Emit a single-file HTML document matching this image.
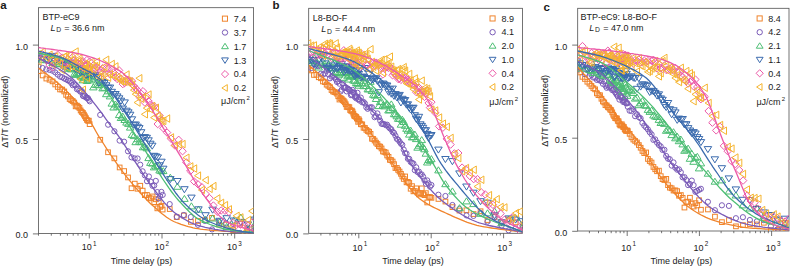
<!DOCTYPE html>
<html><head><meta charset="utf-8"><style>
html,body{margin:0;padding:0;background:#fff;width:790px;height:266px;overflow:hidden;position:relative}
</style></head><body>
<svg width="790" height="266" viewBox="0 0 790 266" style="position:absolute;left:0;top:0">
<g font-family='"Liberation Sans", sans-serif' fill="#1a1a1a">
<text x="0.2" y="8.9" font-size="11.5" font-weight="bold">a</text>
<rect x="38.4" y="7.7" width="215.2" height="225.8" fill="none" stroke="#505050" stroke-width="0.8"/>
<line x1="32.9" y1="233.9" x2="38.4" y2="233.9" stroke="#505050" stroke-width="0.8"/>
<text x="27.9" y="238.3" font-size="9" text-anchor="end">0.0</text>
<line x1="32.9" y1="139.5" x2="38.4" y2="139.5" stroke="#505050" stroke-width="0.8"/>
<text x="27.9" y="143.9" font-size="9" text-anchor="end">0.5</text>
<line x1="32.9" y1="45.1" x2="38.4" y2="45.1" stroke="#505050" stroke-width="0.8"/>
<text x="27.9" y="49.5" font-size="9" text-anchor="end">1.0</text>
<line x1="38.5" y1="233.5" x2="38.5" y2="235.7" stroke="#505050" stroke-width="0.8"/>
<line x1="51.3" y1="233.5" x2="51.3" y2="235.7" stroke="#505050" stroke-width="0.8"/>
<line x1="60.4" y1="233.5" x2="60.4" y2="235.7" stroke="#505050" stroke-width="0.8"/>
<line x1="67.4" y1="233.5" x2="67.4" y2="235.7" stroke="#505050" stroke-width="0.8"/>
<line x1="73.2" y1="233.5" x2="73.2" y2="235.7" stroke="#505050" stroke-width="0.8"/>
<line x1="78.0" y1="233.5" x2="78.0" y2="235.7" stroke="#505050" stroke-width="0.8"/>
<line x1="82.3" y1="233.5" x2="82.3" y2="235.7" stroke="#505050" stroke-width="0.8"/>
<line x1="86.0" y1="233.5" x2="86.0" y2="235.7" stroke="#505050" stroke-width="0.8"/>
<line x1="89.3" y1="233.5" x2="89.3" y2="238.5" stroke="#505050" stroke-width="0.8"/>
<text x="81.7" y="250.2" font-size="9">10</text>
<text x="92.9" y="246.0" font-size="6.3">1</text>
<line x1="111.2" y1="233.5" x2="111.2" y2="235.7" stroke="#505050" stroke-width="0.8"/>
<line x1="124.0" y1="233.5" x2="124.0" y2="235.7" stroke="#505050" stroke-width="0.8"/>
<line x1="133.1" y1="233.5" x2="133.1" y2="235.7" stroke="#505050" stroke-width="0.8"/>
<line x1="140.1" y1="233.5" x2="140.1" y2="235.7" stroke="#505050" stroke-width="0.8"/>
<line x1="145.9" y1="233.5" x2="145.9" y2="235.7" stroke="#505050" stroke-width="0.8"/>
<line x1="150.7" y1="233.5" x2="150.7" y2="235.7" stroke="#505050" stroke-width="0.8"/>
<line x1="155.0" y1="233.5" x2="155.0" y2="235.7" stroke="#505050" stroke-width="0.8"/>
<line x1="158.7" y1="233.5" x2="158.7" y2="235.7" stroke="#505050" stroke-width="0.8"/>
<line x1="162.0" y1="233.5" x2="162.0" y2="238.5" stroke="#505050" stroke-width="0.8"/>
<text x="154.4" y="250.2" font-size="9">10</text>
<text x="165.6" y="246.0" font-size="6.3">2</text>
<line x1="183.9" y1="233.5" x2="183.9" y2="235.7" stroke="#505050" stroke-width="0.8"/>
<line x1="196.7" y1="233.5" x2="196.7" y2="235.7" stroke="#505050" stroke-width="0.8"/>
<line x1="205.8" y1="233.5" x2="205.8" y2="235.7" stroke="#505050" stroke-width="0.8"/>
<line x1="212.8" y1="233.5" x2="212.8" y2="235.7" stroke="#505050" stroke-width="0.8"/>
<line x1="218.6" y1="233.5" x2="218.6" y2="235.7" stroke="#505050" stroke-width="0.8"/>
<line x1="223.4" y1="233.5" x2="223.4" y2="235.7" stroke="#505050" stroke-width="0.8"/>
<line x1="227.7" y1="233.5" x2="227.7" y2="235.7" stroke="#505050" stroke-width="0.8"/>
<line x1="231.4" y1="233.5" x2="231.4" y2="235.7" stroke="#505050" stroke-width="0.8"/>
<line x1="234.7" y1="233.5" x2="234.7" y2="238.5" stroke="#505050" stroke-width="0.8"/>
<text x="227.1" y="250.2" font-size="9">10</text>
<text x="238.3" y="246.0" font-size="6.3">3</text>
<text x="141.5" y="263.6" font-size="9" text-anchor="middle">Time delay (ps)</text>
<text transform="translate(7.8,111.8) rotate(-90)" font-size="9" text-anchor="middle">ΔT/T (normalized)</text>
<text x="42.6" y="19.9" font-size="9">BTP-eC9</text>
<text x="50.5" y="30.7" font-size="9"><tspan font-style="italic">L</tspan><tspan font-size="6.8" dx="0.8" dy="1.5">D</tspan><tspan dy="-1.5" dx="0.6"> = 36.6 nm</tspan></text>
<rect x="222.4" y="16.1" width="5.1" height="5.1" fill="none" stroke="#F0842C" stroke-width="1.0"/>
<text x="233.8" y="21.9" font-size="9">7.4</text>
<circle cx="225.0" cy="32.5" r="2.7" fill="none" stroke="#7B5CB8" stroke-width="1.0"/>
<text x="233.8" y="35.8" font-size="9">3.7</text>
<path d="M225.0 43.3L228.4 48.7H221.6Z" fill="none" stroke="#4DBE74" stroke-width="1.0"/>
<text x="233.8" y="49.6" font-size="9">1.7</text>
<path d="M225.0 63.4L228.4 57.9H221.6Z" fill="none" stroke="#3B6BAE" stroke-width="1.0"/>
<text x="233.8" y="63.5" font-size="9">1.3</text>
<path d="M225.0 70.5L228.6 74.1L225.0 77.7L221.4 74.1Z" fill="none" stroke="#EC5AA8" stroke-width="1.0"/>
<text x="233.8" y="77.3" font-size="9">0.4</text>
<path d="M221.9 88.0L227.3 84.6V91.3Z" fill="none" stroke="#F6B530" stroke-width="1.0"/>
<text x="233.8" y="91.2" font-size="9">0.2</text>
<text x="221" y="103.8" font-size="9">μJ/cm<tspan font-size="6" dx="1.2" dy="-4">2</tspan></text>
<text x="272.6" y="8.9" font-size="11.5" font-weight="bold">b</text>
<rect x="308.7" y="8.3" width="213.9" height="225.0" fill="none" stroke="#505050" stroke-width="0.8"/>
<line x1="303.2" y1="233.9" x2="308.7" y2="233.9" stroke="#505050" stroke-width="0.8"/>
<text x="298.2" y="238.3" font-size="9" text-anchor="end">0.0</text>
<line x1="303.2" y1="139.5" x2="308.7" y2="139.5" stroke="#505050" stroke-width="0.8"/>
<text x="298.2" y="143.9" font-size="9" text-anchor="end">0.5</text>
<line x1="303.2" y1="45.1" x2="308.7" y2="45.1" stroke="#505050" stroke-width="0.8"/>
<text x="298.2" y="49.5" font-size="9" text-anchor="end">1.0</text>
<line x1="320.9" y1="233.3" x2="320.9" y2="235.5" stroke="#505050" stroke-width="0.8"/>
<line x1="330.0" y1="233.3" x2="330.0" y2="235.5" stroke="#505050" stroke-width="0.8"/>
<line x1="337.0" y1="233.3" x2="337.0" y2="235.5" stroke="#505050" stroke-width="0.8"/>
<line x1="342.7" y1="233.3" x2="342.7" y2="235.5" stroke="#505050" stroke-width="0.8"/>
<line x1="347.6" y1="233.3" x2="347.6" y2="235.5" stroke="#505050" stroke-width="0.8"/>
<line x1="351.8" y1="233.3" x2="351.8" y2="235.5" stroke="#505050" stroke-width="0.8"/>
<line x1="355.5" y1="233.3" x2="355.5" y2="235.5" stroke="#505050" stroke-width="0.8"/>
<line x1="358.8" y1="233.3" x2="358.8" y2="238.3" stroke="#505050" stroke-width="0.8"/>
<text x="352.5" y="250.6" font-size="9">10</text>
<text x="363.7" y="246.4" font-size="6.3">1</text>
<line x1="380.6" y1="233.3" x2="380.6" y2="235.5" stroke="#505050" stroke-width="0.8"/>
<line x1="393.3" y1="233.3" x2="393.3" y2="235.5" stroke="#505050" stroke-width="0.8"/>
<line x1="402.4" y1="233.3" x2="402.4" y2="235.5" stroke="#505050" stroke-width="0.8"/>
<line x1="409.4" y1="233.3" x2="409.4" y2="235.5" stroke="#505050" stroke-width="0.8"/>
<line x1="415.1" y1="233.3" x2="415.1" y2="235.5" stroke="#505050" stroke-width="0.8"/>
<line x1="420.0" y1="233.3" x2="420.0" y2="235.5" stroke="#505050" stroke-width="0.8"/>
<line x1="424.2" y1="233.3" x2="424.2" y2="235.5" stroke="#505050" stroke-width="0.8"/>
<line x1="427.9" y1="233.3" x2="427.9" y2="235.5" stroke="#505050" stroke-width="0.8"/>
<line x1="431.2" y1="233.3" x2="431.2" y2="238.3" stroke="#505050" stroke-width="0.8"/>
<text x="424.9" y="250.6" font-size="9">10</text>
<text x="436.1" y="246.4" font-size="6.3">2</text>
<line x1="453.0" y1="233.3" x2="453.0" y2="235.5" stroke="#505050" stroke-width="0.8"/>
<line x1="465.7" y1="233.3" x2="465.7" y2="235.5" stroke="#505050" stroke-width="0.8"/>
<line x1="474.8" y1="233.3" x2="474.8" y2="235.5" stroke="#505050" stroke-width="0.8"/>
<line x1="481.8" y1="233.3" x2="481.8" y2="235.5" stroke="#505050" stroke-width="0.8"/>
<line x1="487.5" y1="233.3" x2="487.5" y2="235.5" stroke="#505050" stroke-width="0.8"/>
<line x1="492.4" y1="233.3" x2="492.4" y2="235.5" stroke="#505050" stroke-width="0.8"/>
<line x1="496.6" y1="233.3" x2="496.6" y2="235.5" stroke="#505050" stroke-width="0.8"/>
<line x1="500.3" y1="233.3" x2="500.3" y2="235.5" stroke="#505050" stroke-width="0.8"/>
<line x1="503.6" y1="233.3" x2="503.6" y2="238.3" stroke="#505050" stroke-width="0.8"/>
<text x="497.3" y="250.6" font-size="9">10</text>
<text x="508.5" y="246.4" font-size="6.3">3</text>
<text x="413.0" y="263.6" font-size="9" text-anchor="middle">Time delay (ps)</text>
<text transform="translate(277.8,112.0) rotate(-90)" font-size="9" text-anchor="middle">ΔT/T (normalized)</text>
<text x="312.7" y="21.0" font-size="9">L8-BO-F</text>
<text x="321.2" y="32.2" font-size="9"><tspan font-style="italic">L</tspan><tspan font-size="6.8" dx="0.8" dy="1.5">D</tspan><tspan dy="-1.5" dx="0.6"> = 44.4 nm</tspan></text>
<rect x="490.0" y="15.9" width="5.1" height="5.1" fill="none" stroke="#F0842C" stroke-width="1.0"/>
<text x="501.4" y="21.7" font-size="9">8.9</text>
<circle cx="492.6" cy="32.2" r="2.7" fill="none" stroke="#7B5CB8" stroke-width="1.0"/>
<text x="501.4" y="35.4" font-size="9">4.1</text>
<path d="M492.6 42.8L496.0 48.2H489.2Z" fill="none" stroke="#4DBE74" stroke-width="1.0"/>
<text x="501.4" y="49.1" font-size="9">2.0</text>
<path d="M492.6 62.7L496.0 57.3H489.2Z" fill="none" stroke="#3B6BAE" stroke-width="1.0"/>
<text x="501.4" y="62.8" font-size="9">1.0</text>
<path d="M492.6 69.7L496.2 73.3L492.6 76.9L489.0 73.3Z" fill="none" stroke="#EC5AA8" stroke-width="1.0"/>
<text x="501.4" y="76.5" font-size="9">0.4</text>
<path d="M489.5 87.0L494.9 83.6V90.4Z" fill="none" stroke="#F6B530" stroke-width="1.0"/>
<text x="501.4" y="90.2" font-size="9">0.2</text>
<text x="489.3" y="105.2" font-size="9">μJ/cm<tspan font-size="6" dx="1.2" dy="-4">2</tspan></text>
<text x="543.4" y="10.7" font-size="11.5" font-weight="bold">c</text>
<rect x="577.7" y="8.3" width="211.3" height="222.7" fill="none" stroke="#505050" stroke-width="0.8"/>
<line x1="572.2" y1="231.3" x2="577.7" y2="231.3" stroke="#505050" stroke-width="0.8"/>
<text x="567.2" y="235.7" font-size="9" text-anchor="end">0.0</text>
<line x1="572.2" y1="138.2" x2="577.7" y2="138.2" stroke="#505050" stroke-width="0.8"/>
<text x="567.2" y="142.6" font-size="9" text-anchor="end">0.5</text>
<line x1="572.2" y1="45.1" x2="577.7" y2="45.1" stroke="#505050" stroke-width="0.8"/>
<text x="567.2" y="49.5" font-size="9" text-anchor="end">1.0</text>
<line x1="589.4" y1="231.0" x2="589.4" y2="233.2" stroke="#505050" stroke-width="0.8"/>
<line x1="598.5" y1="231.0" x2="598.5" y2="233.2" stroke="#505050" stroke-width="0.8"/>
<line x1="605.5" y1="231.0" x2="605.5" y2="233.2" stroke="#505050" stroke-width="0.8"/>
<line x1="611.2" y1="231.0" x2="611.2" y2="233.2" stroke="#505050" stroke-width="0.8"/>
<line x1="616.0" y1="231.0" x2="616.0" y2="233.2" stroke="#505050" stroke-width="0.8"/>
<line x1="620.2" y1="231.0" x2="620.2" y2="233.2" stroke="#505050" stroke-width="0.8"/>
<line x1="623.9" y1="231.0" x2="623.9" y2="233.2" stroke="#505050" stroke-width="0.8"/>
<line x1="627.2" y1="231.0" x2="627.2" y2="236.0" stroke="#505050" stroke-width="0.8"/>
<text x="621.3" y="250.6" font-size="9">10</text>
<text x="632.5" y="246.4" font-size="6.3">1</text>
<line x1="648.9" y1="231.0" x2="648.9" y2="233.2" stroke="#505050" stroke-width="0.8"/>
<line x1="661.6" y1="231.0" x2="661.6" y2="233.2" stroke="#505050" stroke-width="0.8"/>
<line x1="670.7" y1="231.0" x2="670.7" y2="233.2" stroke="#505050" stroke-width="0.8"/>
<line x1="677.7" y1="231.0" x2="677.7" y2="233.2" stroke="#505050" stroke-width="0.8"/>
<line x1="683.4" y1="231.0" x2="683.4" y2="233.2" stroke="#505050" stroke-width="0.8"/>
<line x1="688.2" y1="231.0" x2="688.2" y2="233.2" stroke="#505050" stroke-width="0.8"/>
<line x1="692.4" y1="231.0" x2="692.4" y2="233.2" stroke="#505050" stroke-width="0.8"/>
<line x1="696.1" y1="231.0" x2="696.1" y2="233.2" stroke="#505050" stroke-width="0.8"/>
<line x1="699.4" y1="231.0" x2="699.4" y2="236.0" stroke="#505050" stroke-width="0.8"/>
<text x="693.5" y="250.6" font-size="9">10</text>
<text x="704.7" y="246.4" font-size="6.3">2</text>
<line x1="721.1" y1="231.0" x2="721.1" y2="233.2" stroke="#505050" stroke-width="0.8"/>
<line x1="733.8" y1="231.0" x2="733.8" y2="233.2" stroke="#505050" stroke-width="0.8"/>
<line x1="742.9" y1="231.0" x2="742.9" y2="233.2" stroke="#505050" stroke-width="0.8"/>
<line x1="749.9" y1="231.0" x2="749.9" y2="233.2" stroke="#505050" stroke-width="0.8"/>
<line x1="755.6" y1="231.0" x2="755.6" y2="233.2" stroke="#505050" stroke-width="0.8"/>
<line x1="760.4" y1="231.0" x2="760.4" y2="233.2" stroke="#505050" stroke-width="0.8"/>
<line x1="764.6" y1="231.0" x2="764.6" y2="233.2" stroke="#505050" stroke-width="0.8"/>
<line x1="768.3" y1="231.0" x2="768.3" y2="233.2" stroke="#505050" stroke-width="0.8"/>
<line x1="771.6" y1="231.0" x2="771.6" y2="236.0" stroke="#505050" stroke-width="0.8"/>
<text x="765.7" y="250.6" font-size="9">10</text>
<text x="776.9" y="246.4" font-size="6.3">3</text>
<text x="681.3" y="263.6" font-size="9" text-anchor="middle">Time delay (ps)</text>
<text transform="translate(547.6,110.9) rotate(-90)" font-size="9" text-anchor="middle">ΔT/T (normalized)</text>
<text x="580.6" y="19.6" font-size="9">BTP-eC9: L8-BO-F</text>
<text x="589.3" y="30.8" font-size="9"><tspan font-style="italic">L</tspan><tspan font-size="6.8" dx="0.8" dy="1.5">D</tspan><tspan dy="-1.5" dx="0.6"> = 47.0 nm</tspan></text>
<rect x="757.1" y="15.9" width="5.1" height="5.1" fill="none" stroke="#F0842C" stroke-width="1.0"/>
<text x="768.3" y="21.7" font-size="9">8.4</text>
<circle cx="759.7" cy="32.2" r="2.7" fill="none" stroke="#7B5CB8" stroke-width="1.0"/>
<text x="768.3" y="35.4" font-size="9">4.2</text>
<path d="M759.7 42.8L763.1 48.2H756.3Z" fill="none" stroke="#4DBE74" stroke-width="1.0"/>
<text x="768.3" y="49.1" font-size="9">2.1</text>
<path d="M759.7 62.7L763.1 57.3H756.3Z" fill="none" stroke="#3B6BAE" stroke-width="1.0"/>
<text x="768.3" y="62.8" font-size="9">1.1</text>
<path d="M759.7 69.7L763.3 73.3L759.7 76.9L756.1 73.3Z" fill="none" stroke="#EC5AA8" stroke-width="1.0"/>
<text x="768.3" y="76.5" font-size="9">0.4</text>
<path d="M756.6 87.0L762.0 83.6V90.4Z" fill="none" stroke="#F6B530" stroke-width="1.0"/>
<text x="768.3" y="90.2" font-size="9">0.2</text>
<text x="756.4" y="104.6" font-size="9">μJ/cm<tspan font-size="6" dx="1.2" dy="-4">2</tspan></text>
</g>
<defs><clipPath id="clipa"><rect x="38.4" y="7.7" width="215.2" height="225.8"/></clipPath></defs>
<g clip-path="url(#clipa)">
<rect x="36.2" y="68.8" width="4.7" height="4.7" fill="none" stroke="#F0842C" stroke-width="1.0"/>
<rect x="40.3" y="73.1" width="4.7" height="4.7" fill="none" stroke="#F0842C" stroke-width="1.0"/>
<rect x="44.0" y="76.2" width="4.7" height="4.7" fill="none" stroke="#F0842C" stroke-width="1.0"/>
<rect x="47.2" y="77.4" width="4.7" height="4.7" fill="none" stroke="#F0842C" stroke-width="1.0"/>
<rect x="50.2" y="79.0" width="4.7" height="4.7" fill="none" stroke="#F0842C" stroke-width="1.0"/>
<rect x="52.9" y="82.1" width="4.7" height="4.7" fill="none" stroke="#F0842C" stroke-width="1.0"/>
<rect x="55.4" y="84.6" width="4.7" height="4.7" fill="none" stroke="#F0842C" stroke-width="1.0"/>
<rect x="57.7" y="87.1" width="4.7" height="4.7" fill="none" stroke="#F0842C" stroke-width="1.0"/>
<rect x="59.9" y="87.2" width="4.7" height="4.7" fill="none" stroke="#F0842C" stroke-width="1.0"/>
<rect x="61.9" y="89.1" width="4.7" height="4.7" fill="none" stroke="#F0842C" stroke-width="1.0"/>
<rect x="63.8" y="92.5" width="4.7" height="4.7" fill="none" stroke="#F0842C" stroke-width="1.0"/>
<rect x="65.6" y="94.1" width="4.7" height="4.7" fill="none" stroke="#F0842C" stroke-width="1.0"/>
<rect x="67.3" y="96.7" width="4.7" height="4.7" fill="none" stroke="#F0842C" stroke-width="1.0"/>
<rect x="68.9" y="97.9" width="4.7" height="4.7" fill="none" stroke="#F0842C" stroke-width="1.0"/>
<rect x="70.4" y="98.7" width="4.7" height="4.7" fill="none" stroke="#F0842C" stroke-width="1.0"/>
<rect x="71.9" y="100.2" width="4.7" height="4.7" fill="none" stroke="#F0842C" stroke-width="1.0"/>
<rect x="73.3" y="104.0" width="4.7" height="4.7" fill="none" stroke="#F0842C" stroke-width="1.0"/>
<rect x="74.6" y="103.3" width="4.7" height="4.7" fill="none" stroke="#F0842C" stroke-width="1.0"/>
<rect x="75.9" y="104.4" width="4.7" height="4.7" fill="none" stroke="#F0842C" stroke-width="1.0"/>
<rect x="77.1" y="105.6" width="4.7" height="4.7" fill="none" stroke="#F0842C" stroke-width="1.0"/>
<rect x="78.3" y="108.1" width="4.7" height="4.7" fill="none" stroke="#F0842C" stroke-width="1.0"/>
<rect x="79.4" y="109.6" width="4.7" height="4.7" fill="none" stroke="#F0842C" stroke-width="1.0"/>
<rect x="80.6" y="110.6" width="4.7" height="4.7" fill="none" stroke="#F0842C" stroke-width="1.0"/>
<rect x="81.6" y="112.3" width="4.7" height="4.7" fill="none" stroke="#F0842C" stroke-width="1.0"/>
<rect x="82.6" y="114.0" width="4.7" height="4.7" fill="none" stroke="#F0842C" stroke-width="1.0"/>
<rect x="83.6" y="115.8" width="4.7" height="4.7" fill="none" stroke="#F0842C" stroke-width="1.0"/>
<rect x="84.6" y="117.6" width="4.7" height="4.7" fill="none" stroke="#F0842C" stroke-width="1.0"/>
<rect x="85.6" y="118.4" width="4.7" height="4.7" fill="none" stroke="#F0842C" stroke-width="1.0"/>
<rect x="86.5" y="118.3" width="4.7" height="4.7" fill="none" stroke="#F0842C" stroke-width="1.0"/>
<rect x="87.3" y="121.8" width="4.7" height="4.7" fill="none" stroke="#F0842C" stroke-width="1.0"/>
<rect x="97.9" y="137.4" width="4.7" height="4.7" fill="none" stroke="#F0842C" stroke-width="1.0"/>
<rect x="105.7" y="149.9" width="4.7" height="4.7" fill="none" stroke="#F0842C" stroke-width="1.0"/>
<rect x="112.0" y="156.0" width="4.7" height="4.7" fill="none" stroke="#F0842C" stroke-width="1.0"/>
<rect x="117.3" y="165.1" width="4.7" height="4.7" fill="none" stroke="#F0842C" stroke-width="1.0"/>
<rect x="121.8" y="168.7" width="4.7" height="4.7" fill="none" stroke="#F0842C" stroke-width="1.0"/>
<rect x="125.7" y="175.1" width="4.7" height="4.7" fill="none" stroke="#F0842C" stroke-width="1.0"/>
<rect x="129.2" y="185.9" width="4.7" height="4.7" fill="none" stroke="#F0842C" stroke-width="1.0"/>
<rect x="132.4" y="181.3" width="4.7" height="4.7" fill="none" stroke="#F0842C" stroke-width="1.0"/>
<rect x="135.2" y="186.4" width="4.7" height="4.7" fill="none" stroke="#F0842C" stroke-width="1.0"/>
<rect x="137.9" y="183.4" width="4.7" height="4.7" fill="none" stroke="#F0842C" stroke-width="1.0"/>
<rect x="140.3" y="188.3" width="4.7" height="4.7" fill="none" stroke="#F0842C" stroke-width="1.0"/>
<rect x="142.5" y="192.8" width="4.7" height="4.7" fill="none" stroke="#F0842C" stroke-width="1.0"/>
<rect x="144.6" y="192.6" width="4.7" height="4.7" fill="none" stroke="#F0842C" stroke-width="1.0"/>
<rect x="146.6" y="195.4" width="4.7" height="4.7" fill="none" stroke="#F0842C" stroke-width="1.0"/>
<rect x="148.5" y="196.0" width="4.7" height="4.7" fill="none" stroke="#F0842C" stroke-width="1.0"/>
<rect x="150.2" y="194.1" width="4.7" height="4.7" fill="none" stroke="#F0842C" stroke-width="1.0"/>
<rect x="151.9" y="199.8" width="4.7" height="4.7" fill="none" stroke="#F0842C" stroke-width="1.0"/>
<rect x="153.5" y="196.9" width="4.7" height="4.7" fill="none" stroke="#F0842C" stroke-width="1.0"/>
<rect x="155.0" y="206.0" width="4.7" height="4.7" fill="none" stroke="#F0842C" stroke-width="1.0"/>
<rect x="156.4" y="199.9" width="4.7" height="4.7" fill="none" stroke="#F0842C" stroke-width="1.0"/>
<rect x="157.8" y="204.5" width="4.7" height="4.7" fill="none" stroke="#F0842C" stroke-width="1.0"/>
<rect x="159.1" y="203.4" width="4.7" height="4.7" fill="none" stroke="#F0842C" stroke-width="1.0"/>
<rect x="160.3" y="207.2" width="4.7" height="4.7" fill="none" stroke="#F0842C" stroke-width="1.0"/>
<rect x="167.4" y="206.7" width="4.7" height="4.7" fill="none" stroke="#F0842C" stroke-width="1.0"/>
<rect x="174.4" y="214.8" width="4.7" height="4.7" fill="none" stroke="#F0842C" stroke-width="1.0"/>
<rect x="181.5" y="213.1" width="4.7" height="4.7" fill="none" stroke="#F0842C" stroke-width="1.0"/>
<rect x="188.5" y="219.5" width="4.7" height="4.7" fill="none" stroke="#F0842C" stroke-width="1.0"/>
<rect x="195.6" y="218.6" width="4.7" height="4.7" fill="none" stroke="#F0842C" stroke-width="1.0"/>
<rect x="202.6" y="217.8" width="4.7" height="4.7" fill="none" stroke="#F0842C" stroke-width="1.0"/>
<rect x="209.7" y="215.5" width="4.7" height="4.7" fill="none" stroke="#F0842C" stroke-width="1.0"/>
<rect x="216.7" y="222.2" width="4.7" height="4.7" fill="none" stroke="#F0842C" stroke-width="1.0"/>
<rect x="223.7" y="222.2" width="4.7" height="4.7" fill="none" stroke="#F0842C" stroke-width="1.0"/>
<rect x="230.8" y="227.8" width="4.7" height="4.7" fill="none" stroke="#F0842C" stroke-width="1.0"/>
<rect x="237.8" y="221.3" width="4.7" height="4.7" fill="none" stroke="#F0842C" stroke-width="1.0"/>
<rect x="244.9" y="226.0" width="4.7" height="4.7" fill="none" stroke="#F0842C" stroke-width="1.0"/>
<rect x="251.9" y="226.7" width="4.7" height="4.7" fill="none" stroke="#F0842C" stroke-width="1.0"/>
<circle cx="38.5" cy="66.3" r="2.6" fill="none" stroke="#7B5CB8" stroke-width="1.0"/>
<circle cx="42.6" cy="68.0" r="2.6" fill="none" stroke="#7B5CB8" stroke-width="1.0"/>
<circle cx="46.3" cy="69.4" r="2.6" fill="none" stroke="#7B5CB8" stroke-width="1.0"/>
<circle cx="49.6" cy="69.9" r="2.6" fill="none" stroke="#7B5CB8" stroke-width="1.0"/>
<circle cx="52.5" cy="70.7" r="2.6" fill="none" stroke="#7B5CB8" stroke-width="1.0"/>
<circle cx="55.2" cy="72.4" r="2.6" fill="none" stroke="#7B5CB8" stroke-width="1.0"/>
<circle cx="57.7" cy="74.6" r="2.6" fill="none" stroke="#7B5CB8" stroke-width="1.0"/>
<circle cx="60.1" cy="76.6" r="2.6" fill="none" stroke="#7B5CB8" stroke-width="1.0"/>
<circle cx="62.2" cy="77.2" r="2.6" fill="none" stroke="#7B5CB8" stroke-width="1.0"/>
<circle cx="64.2" cy="78.5" r="2.6" fill="none" stroke="#7B5CB8" stroke-width="1.0"/>
<circle cx="66.1" cy="79.3" r="2.6" fill="none" stroke="#7B5CB8" stroke-width="1.0"/>
<circle cx="67.9" cy="80.4" r="2.6" fill="none" stroke="#7B5CB8" stroke-width="1.0"/>
<circle cx="69.6" cy="81.1" r="2.6" fill="none" stroke="#7B5CB8" stroke-width="1.0"/>
<circle cx="71.2" cy="82.9" r="2.6" fill="none" stroke="#7B5CB8" stroke-width="1.0"/>
<circle cx="72.7" cy="85.2" r="2.6" fill="none" stroke="#7B5CB8" stroke-width="1.0"/>
<circle cx="74.2" cy="84.4" r="2.6" fill="none" stroke="#7B5CB8" stroke-width="1.0"/>
<circle cx="75.6" cy="85.3" r="2.6" fill="none" stroke="#7B5CB8" stroke-width="1.0"/>
<circle cx="76.9" cy="89.2" r="2.6" fill="none" stroke="#7B5CB8" stroke-width="1.0"/>
<circle cx="78.2" cy="88.7" r="2.6" fill="none" stroke="#7B5CB8" stroke-width="1.0"/>
<circle cx="79.4" cy="90.7" r="2.6" fill="none" stroke="#7B5CB8" stroke-width="1.0"/>
<circle cx="80.6" cy="91.8" r="2.6" fill="none" stroke="#7B5CB8" stroke-width="1.0"/>
<circle cx="81.8" cy="91.0" r="2.6" fill="none" stroke="#7B5CB8" stroke-width="1.0"/>
<circle cx="82.9" cy="95.8" r="2.6" fill="none" stroke="#7B5CB8" stroke-width="1.0"/>
<circle cx="83.9" cy="96.3" r="2.6" fill="none" stroke="#7B5CB8" stroke-width="1.0"/>
<circle cx="85.0" cy="95.8" r="2.6" fill="none" stroke="#7B5CB8" stroke-width="1.0"/>
<circle cx="86.0" cy="97.5" r="2.6" fill="none" stroke="#7B5CB8" stroke-width="1.0"/>
<circle cx="86.9" cy="98.0" r="2.6" fill="none" stroke="#7B5CB8" stroke-width="1.0"/>
<circle cx="87.9" cy="98.0" r="2.6" fill="none" stroke="#7B5CB8" stroke-width="1.0"/>
<circle cx="88.8" cy="99.8" r="2.6" fill="none" stroke="#7B5CB8" stroke-width="1.0"/>
<circle cx="89.7" cy="101.3" r="2.6" fill="none" stroke="#7B5CB8" stroke-width="1.0"/>
<circle cx="100.2" cy="114.9" r="2.6" fill="none" stroke="#7B5CB8" stroke-width="1.0"/>
<circle cx="108.1" cy="124.7" r="2.6" fill="none" stroke="#7B5CB8" stroke-width="1.0"/>
<circle cx="114.4" cy="131.3" r="2.6" fill="none" stroke="#7B5CB8" stroke-width="1.0"/>
<circle cx="119.6" cy="140.6" r="2.6" fill="none" stroke="#7B5CB8" stroke-width="1.0"/>
<circle cx="124.1" cy="141.7" r="2.6" fill="none" stroke="#7B5CB8" stroke-width="1.0"/>
<circle cx="128.0" cy="151.3" r="2.6" fill="none" stroke="#7B5CB8" stroke-width="1.0"/>
<circle cx="131.5" cy="157.3" r="2.6" fill="none" stroke="#7B5CB8" stroke-width="1.0"/>
<circle cx="134.7" cy="158.4" r="2.6" fill="none" stroke="#7B5CB8" stroke-width="1.0"/>
<circle cx="137.6" cy="158.5" r="2.6" fill="none" stroke="#7B5CB8" stroke-width="1.0"/>
<circle cx="140.2" cy="164.7" r="2.6" fill="none" stroke="#7B5CB8" stroke-width="1.0"/>
<circle cx="142.6" cy="171.3" r="2.6" fill="none" stroke="#7B5CB8" stroke-width="1.0"/>
<circle cx="144.9" cy="175.4" r="2.6" fill="none" stroke="#7B5CB8" stroke-width="1.0"/>
<circle cx="147.0" cy="181.2" r="2.6" fill="none" stroke="#7B5CB8" stroke-width="1.0"/>
<circle cx="148.9" cy="176.5" r="2.6" fill="none" stroke="#7B5CB8" stroke-width="1.0"/>
<circle cx="150.8" cy="181.7" r="2.6" fill="none" stroke="#7B5CB8" stroke-width="1.0"/>
<circle cx="152.5" cy="185.8" r="2.6" fill="none" stroke="#7B5CB8" stroke-width="1.0"/>
<circle cx="154.2" cy="185.5" r="2.6" fill="none" stroke="#7B5CB8" stroke-width="1.0"/>
<circle cx="155.8" cy="180.9" r="2.6" fill="none" stroke="#7B5CB8" stroke-width="1.0"/>
<circle cx="157.3" cy="192.1" r="2.6" fill="none" stroke="#7B5CB8" stroke-width="1.0"/>
<circle cx="158.7" cy="198.4" r="2.6" fill="none" stroke="#7B5CB8" stroke-width="1.0"/>
<circle cx="160.1" cy="196.2" r="2.6" fill="none" stroke="#7B5CB8" stroke-width="1.0"/>
<circle cx="161.4" cy="191.9" r="2.6" fill="none" stroke="#7B5CB8" stroke-width="1.0"/>
<circle cx="162.7" cy="194.9" r="2.6" fill="none" stroke="#7B5CB8" stroke-width="1.0"/>
<circle cx="169.7" cy="204.1" r="2.6" fill="none" stroke="#7B5CB8" stroke-width="1.0"/>
<circle cx="176.8" cy="216.8" r="2.6" fill="none" stroke="#7B5CB8" stroke-width="1.0"/>
<circle cx="183.8" cy="215.0" r="2.6" fill="none" stroke="#7B5CB8" stroke-width="1.0"/>
<circle cx="190.8" cy="217.0" r="2.6" fill="none" stroke="#7B5CB8" stroke-width="1.0"/>
<circle cx="197.9" cy="224.8" r="2.6" fill="none" stroke="#7B5CB8" stroke-width="1.0"/>
<circle cx="204.9" cy="220.9" r="2.6" fill="none" stroke="#7B5CB8" stroke-width="1.0"/>
<circle cx="212.0" cy="229.4" r="2.6" fill="none" stroke="#7B5CB8" stroke-width="1.0"/>
<circle cx="219.0" cy="221.5" r="2.6" fill="none" stroke="#7B5CB8" stroke-width="1.0"/>
<circle cx="226.1" cy="223.4" r="2.6" fill="none" stroke="#7B5CB8" stroke-width="1.0"/>
<circle cx="233.1" cy="229.0" r="2.6" fill="none" stroke="#7B5CB8" stroke-width="1.0"/>
<circle cx="240.2" cy="232.9" r="2.6" fill="none" stroke="#7B5CB8" stroke-width="1.0"/>
<circle cx="247.2" cy="230.8" r="2.6" fill="none" stroke="#7B5CB8" stroke-width="1.0"/>
<circle cx="254.3" cy="230.2" r="2.6" fill="none" stroke="#7B5CB8" stroke-width="1.0"/>
<path d="M38.5 53.8L42.2 59.9H34.7Z" fill="none" stroke="#4DBE74" stroke-width="1.0"/>
<path d="M42.6 56.1L46.4 62.2H38.9Z" fill="none" stroke="#4DBE74" stroke-width="1.0"/>
<path d="M46.3 56.8L50.0 62.8H42.5Z" fill="none" stroke="#4DBE74" stroke-width="1.0"/>
<path d="M49.6 57.3L53.3 63.4H45.8Z" fill="none" stroke="#4DBE74" stroke-width="1.0"/>
<path d="M52.5 59.5L56.3 65.5H48.8Z" fill="none" stroke="#4DBE74" stroke-width="1.0"/>
<path d="M55.2 58.6L59.0 64.6H51.5Z" fill="none" stroke="#4DBE74" stroke-width="1.0"/>
<path d="M57.7 60.8L61.5 66.8H54.0Z" fill="none" stroke="#4DBE74" stroke-width="1.0"/>
<path d="M60.1 60.3L63.8 66.4H56.3Z" fill="none" stroke="#4DBE74" stroke-width="1.0"/>
<path d="M62.2 60.5L66.0 66.5H58.5Z" fill="none" stroke="#4DBE74" stroke-width="1.0"/>
<path d="M64.2 62.1L68.0 68.1H60.5Z" fill="none" stroke="#4DBE74" stroke-width="1.0"/>
<path d="M66.1 63.6L69.9 69.6H62.4Z" fill="none" stroke="#4DBE74" stroke-width="1.0"/>
<path d="M67.9 65.3L71.7 71.3H64.2Z" fill="none" stroke="#4DBE74" stroke-width="1.0"/>
<path d="M69.6 64.4L73.4 70.4H65.9Z" fill="none" stroke="#4DBE74" stroke-width="1.0"/>
<path d="M71.2 65.8L75.0 71.9H67.5Z" fill="none" stroke="#4DBE74" stroke-width="1.0"/>
<path d="M72.7 65.2L76.5 71.2H69.0Z" fill="none" stroke="#4DBE74" stroke-width="1.0"/>
<path d="M74.2 70.6L78.0 76.7H70.5Z" fill="none" stroke="#4DBE74" stroke-width="1.0"/>
<path d="M75.6 71.4L79.4 77.4H71.9Z" fill="none" stroke="#4DBE74" stroke-width="1.0"/>
<path d="M76.9 69.8L80.7 75.8H73.2Z" fill="none" stroke="#4DBE74" stroke-width="1.0"/>
<path d="M78.2 70.2L82.0 76.2H74.5Z" fill="none" stroke="#4DBE74" stroke-width="1.0"/>
<path d="M79.4 69.8L83.2 75.8H75.7Z" fill="none" stroke="#4DBE74" stroke-width="1.0"/>
<path d="M80.6 72.5L84.4 78.6H76.9Z" fill="none" stroke="#4DBE74" stroke-width="1.0"/>
<path d="M81.8 73.2L85.5 79.2H78.0Z" fill="none" stroke="#4DBE74" stroke-width="1.0"/>
<path d="M82.9 76.7L86.6 82.8H79.1Z" fill="none" stroke="#4DBE74" stroke-width="1.0"/>
<path d="M83.9 74.3L87.7 80.4H80.2Z" fill="none" stroke="#4DBE74" stroke-width="1.0"/>
<path d="M85.0 73.3L88.7 79.3H81.2Z" fill="none" stroke="#4DBE74" stroke-width="1.0"/>
<path d="M86.0 71.3L89.7 77.3H82.2Z" fill="none" stroke="#4DBE74" stroke-width="1.0"/>
<path d="M86.9 77.5L90.7 83.5H83.2Z" fill="none" stroke="#4DBE74" stroke-width="1.0"/>
<path d="M87.9 76.1L91.6 82.1H84.1Z" fill="none" stroke="#4DBE74" stroke-width="1.0"/>
<path d="M88.8 73.8L92.5 79.8H85.0Z" fill="none" stroke="#4DBE74" stroke-width="1.0"/>
<path d="M89.7 76.9L93.4 82.9H85.9Z" fill="none" stroke="#4DBE74" stroke-width="1.0"/>
<path d="M91.5 75.1L95.3 81.1H87.8Z" fill="none" stroke="#4DBE74" stroke-width="1.0"/>
<path d="M93.4 83.9L97.1 89.9H89.6Z" fill="none" stroke="#4DBE74" stroke-width="1.0"/>
<path d="M95.2 81.3L98.9 87.3H91.4Z" fill="none" stroke="#4DBE74" stroke-width="1.0"/>
<path d="M97.0 81.6L100.8 87.6H93.3Z" fill="none" stroke="#4DBE74" stroke-width="1.0"/>
<path d="M98.9 81.6L102.6 87.7H95.1Z" fill="none" stroke="#4DBE74" stroke-width="1.0"/>
<path d="M100.7 79.6L104.5 85.6H97.0Z" fill="none" stroke="#4DBE74" stroke-width="1.0"/>
<path d="M102.6 84.9L106.3 90.9H98.8Z" fill="none" stroke="#4DBE74" stroke-width="1.0"/>
<path d="M104.4 84.2L108.1 90.3H100.6Z" fill="none" stroke="#4DBE74" stroke-width="1.0"/>
<path d="M106.2 90.6L110.0 96.7H102.5Z" fill="none" stroke="#4DBE74" stroke-width="1.0"/>
<path d="M108.1 87.7L111.8 93.8H104.3Z" fill="none" stroke="#4DBE74" stroke-width="1.0"/>
<path d="M109.9 92.8L113.7 98.9H106.2Z" fill="none" stroke="#4DBE74" stroke-width="1.0"/>
<path d="M111.8 100.1L115.5 106.1H108.0Z" fill="none" stroke="#4DBE74" stroke-width="1.0"/>
<path d="M113.6 104.0L117.3 110.0H109.8Z" fill="none" stroke="#4DBE74" stroke-width="1.0"/>
<path d="M115.4 101.0L119.2 107.0H111.7Z" fill="none" stroke="#4DBE74" stroke-width="1.0"/>
<path d="M117.3 103.2L121.0 109.2H113.5Z" fill="none" stroke="#4DBE74" stroke-width="1.0"/>
<path d="M119.1 111.5L122.9 117.6H115.4Z" fill="none" stroke="#4DBE74" stroke-width="1.0"/>
<path d="M121.0 114.5L124.7 120.5H117.2Z" fill="none" stroke="#4DBE74" stroke-width="1.0"/>
<path d="M122.8 113.1L126.5 119.1H119.0Z" fill="none" stroke="#4DBE74" stroke-width="1.0"/>
<path d="M124.6 116.5L128.4 122.5H120.9Z" fill="none" stroke="#4DBE74" stroke-width="1.0"/>
<path d="M126.5 119.0L130.2 125.1H122.7Z" fill="none" stroke="#4DBE74" stroke-width="1.0"/>
<path d="M128.3 120.3L132.1 126.4H124.6Z" fill="none" stroke="#4DBE74" stroke-width="1.0"/>
<path d="M130.2 124.0L133.9 130.1H126.4Z" fill="none" stroke="#4DBE74" stroke-width="1.0"/>
<path d="M132.0 131.4L135.7 137.4H128.2Z" fill="none" stroke="#4DBE74" stroke-width="1.0"/>
<path d="M133.8 132.5L137.6 138.6H130.1Z" fill="none" stroke="#4DBE74" stroke-width="1.0"/>
<path d="M135.7 138.7L139.4 144.7H131.9Z" fill="none" stroke="#4DBE74" stroke-width="1.0"/>
<path d="M137.5 135.7L141.3 141.7H133.8Z" fill="none" stroke="#4DBE74" stroke-width="1.0"/>
<path d="M139.3 138.2L143.1 144.2H135.6Z" fill="none" stroke="#4DBE74" stroke-width="1.0"/>
<path d="M141.2 138.7L144.9 144.7H137.4Z" fill="none" stroke="#4DBE74" stroke-width="1.0"/>
<path d="M143.0 143.8L146.8 149.8H139.3Z" fill="none" stroke="#4DBE74" stroke-width="1.0"/>
<path d="M144.9 143.3L148.6 149.3H141.1Z" fill="none" stroke="#4DBE74" stroke-width="1.0"/>
<path d="M146.7 144.8L150.5 150.8H143.0Z" fill="none" stroke="#4DBE74" stroke-width="1.0"/>
<path d="M148.5 154.5L152.3 160.6H144.8Z" fill="none" stroke="#4DBE74" stroke-width="1.0"/>
<path d="M150.4 159.3L154.1 165.4H146.6Z" fill="none" stroke="#4DBE74" stroke-width="1.0"/>
<path d="M152.2 160.1L156.0 166.1H148.5Z" fill="none" stroke="#4DBE74" stroke-width="1.0"/>
<path d="M154.1 163.9L157.8 169.9H150.3Z" fill="none" stroke="#4DBE74" stroke-width="1.0"/>
<path d="M155.9 163.0L159.7 169.0H152.2Z" fill="none" stroke="#4DBE74" stroke-width="1.0"/>
<path d="M157.7 162.3L161.5 168.4H154.0Z" fill="none" stroke="#4DBE74" stroke-width="1.0"/>
<path d="M159.6 166.9L163.3 173.0H155.8Z" fill="none" stroke="#4DBE74" stroke-width="1.0"/>
<path d="M161.4 167.7L165.2 173.7H157.7Z" fill="none" stroke="#4DBE74" stroke-width="1.0"/>
<path d="M163.3 167.6L167.0 173.6H159.5Z" fill="none" stroke="#4DBE74" stroke-width="1.0"/>
<path d="M170.3 174.2L174.1 180.3H166.6Z" fill="none" stroke="#4DBE74" stroke-width="1.0"/>
<path d="M177.4 183.3L181.1 189.3H173.6Z" fill="none" stroke="#4DBE74" stroke-width="1.0"/>
<path d="M184.4 195.4L188.2 201.4H180.7Z" fill="none" stroke="#4DBE74" stroke-width="1.0"/>
<path d="M191.4 202.8L195.2 208.9H187.7Z" fill="none" stroke="#4DBE74" stroke-width="1.0"/>
<path d="M198.5 206.1L202.2 212.2H194.7Z" fill="none" stroke="#4DBE74" stroke-width="1.0"/>
<path d="M205.5 216.4L209.3 222.4H201.8Z" fill="none" stroke="#4DBE74" stroke-width="1.0"/>
<path d="M212.6 214.9L216.3 221.0H208.8Z" fill="none" stroke="#4DBE74" stroke-width="1.0"/>
<path d="M219.6 218.9L223.4 225.0H215.9Z" fill="none" stroke="#4DBE74" stroke-width="1.0"/>
<path d="M226.7 223.4L230.4 229.4H222.9Z" fill="none" stroke="#4DBE74" stroke-width="1.0"/>
<path d="M233.7 217.3L237.5 223.3H230.0Z" fill="none" stroke="#4DBE74" stroke-width="1.0"/>
<path d="M240.8 214.0L244.5 220.0H237.0Z" fill="none" stroke="#4DBE74" stroke-width="1.0"/>
<path d="M247.8 225.6L251.6 231.7H244.1Z" fill="none" stroke="#4DBE74" stroke-width="1.0"/>
<path d="M254.9 220.8L258.6 226.8H251.1Z" fill="none" stroke="#4DBE74" stroke-width="1.0"/>
<path d="M38.5 61.4L42.2 55.4H34.7Z" fill="none" stroke="#3B6BAE" stroke-width="1.0"/>
<path d="M42.6 60.9L46.4 54.9H38.9Z" fill="none" stroke="#3B6BAE" stroke-width="1.0"/>
<path d="M46.3 62.7L50.0 56.7H42.5Z" fill="none" stroke="#3B6BAE" stroke-width="1.0"/>
<path d="M49.6 63.0L53.3 57.0H45.8Z" fill="none" stroke="#3B6BAE" stroke-width="1.0"/>
<path d="M52.5 59.5L56.3 53.4H48.8Z" fill="none" stroke="#3B6BAE" stroke-width="1.0"/>
<path d="M55.2 64.4L59.0 58.3H51.5Z" fill="none" stroke="#3B6BAE" stroke-width="1.0"/>
<path d="M57.7 63.0L61.5 56.9H54.0Z" fill="none" stroke="#3B6BAE" stroke-width="1.0"/>
<path d="M60.1 63.6L63.8 57.5H56.3Z" fill="none" stroke="#3B6BAE" stroke-width="1.0"/>
<path d="M62.2 64.8L66.0 58.7H58.5Z" fill="none" stroke="#3B6BAE" stroke-width="1.0"/>
<path d="M64.2 67.4L68.0 61.3H60.5Z" fill="none" stroke="#3B6BAE" stroke-width="1.0"/>
<path d="M66.1 68.4L69.9 62.3H62.4Z" fill="none" stroke="#3B6BAE" stroke-width="1.0"/>
<path d="M67.9 69.4L71.7 63.3H64.2Z" fill="none" stroke="#3B6BAE" stroke-width="1.0"/>
<path d="M69.6 66.1L73.4 60.1H65.9Z" fill="none" stroke="#3B6BAE" stroke-width="1.0"/>
<path d="M71.2 68.5L75.0 62.5H67.5Z" fill="none" stroke="#3B6BAE" stroke-width="1.0"/>
<path d="M72.7 66.6L76.5 60.6H69.0Z" fill="none" stroke="#3B6BAE" stroke-width="1.0"/>
<path d="M74.2 70.7L78.0 64.7H70.5Z" fill="none" stroke="#3B6BAE" stroke-width="1.0"/>
<path d="M75.6 72.5L79.4 66.5H71.9Z" fill="none" stroke="#3B6BAE" stroke-width="1.0"/>
<path d="M76.9 71.1L80.7 65.1H73.2Z" fill="none" stroke="#3B6BAE" stroke-width="1.0"/>
<path d="M78.2 73.3L82.0 67.2H74.5Z" fill="none" stroke="#3B6BAE" stroke-width="1.0"/>
<path d="M79.4 73.9L83.2 67.8H75.7Z" fill="none" stroke="#3B6BAE" stroke-width="1.0"/>
<path d="M80.6 75.6L84.4 69.6H76.9Z" fill="none" stroke="#3B6BAE" stroke-width="1.0"/>
<path d="M81.8 73.4L85.5 67.4H78.0Z" fill="none" stroke="#3B6BAE" stroke-width="1.0"/>
<path d="M82.9 73.9L86.6 67.9H79.1Z" fill="none" stroke="#3B6BAE" stroke-width="1.0"/>
<path d="M83.9 74.5L87.7 68.5H80.2Z" fill="none" stroke="#3B6BAE" stroke-width="1.0"/>
<path d="M85.0 78.7L88.7 72.7H81.2Z" fill="none" stroke="#3B6BAE" stroke-width="1.0"/>
<path d="M86.0 78.2L89.7 72.2H82.2Z" fill="none" stroke="#3B6BAE" stroke-width="1.0"/>
<path d="M86.9 76.8L90.7 70.8H83.2Z" fill="none" stroke="#3B6BAE" stroke-width="1.0"/>
<path d="M87.9 77.8L91.6 71.7H84.1Z" fill="none" stroke="#3B6BAE" stroke-width="1.0"/>
<path d="M88.8 78.0L92.5 72.0H85.0Z" fill="none" stroke="#3B6BAE" stroke-width="1.0"/>
<path d="M89.7 78.5L93.4 72.5H85.9Z" fill="none" stroke="#3B6BAE" stroke-width="1.0"/>
<path d="M91.5 78.7L95.3 72.7H87.8Z" fill="none" stroke="#3B6BAE" stroke-width="1.0"/>
<path d="M93.4 79.4L97.1 73.3H89.6Z" fill="none" stroke="#3B6BAE" stroke-width="1.0"/>
<path d="M95.2 78.6L98.9 72.6H91.4Z" fill="none" stroke="#3B6BAE" stroke-width="1.0"/>
<path d="M97.0 80.6L100.8 74.6H93.3Z" fill="none" stroke="#3B6BAE" stroke-width="1.0"/>
<path d="M98.9 86.2L102.6 80.1H95.1Z" fill="none" stroke="#3B6BAE" stroke-width="1.0"/>
<path d="M100.7 85.2L104.5 79.2H97.0Z" fill="none" stroke="#3B6BAE" stroke-width="1.0"/>
<path d="M102.6 85.6L106.3 79.5H98.8Z" fill="none" stroke="#3B6BAE" stroke-width="1.0"/>
<path d="M104.4 86.5L108.1 80.4H100.6Z" fill="none" stroke="#3B6BAE" stroke-width="1.0"/>
<path d="M106.2 88.9L110.0 82.8H102.5Z" fill="none" stroke="#3B6BAE" stroke-width="1.0"/>
<path d="M108.1 91.5L111.8 85.4H104.3Z" fill="none" stroke="#3B6BAE" stroke-width="1.0"/>
<path d="M109.9 91.0L113.7 85.0H106.2Z" fill="none" stroke="#3B6BAE" stroke-width="1.0"/>
<path d="M111.8 95.3L115.5 89.3H108.0Z" fill="none" stroke="#3B6BAE" stroke-width="1.0"/>
<path d="M113.6 97.7L117.3 91.7H109.8Z" fill="none" stroke="#3B6BAE" stroke-width="1.0"/>
<path d="M115.4 97.5L119.2 91.5H111.7Z" fill="none" stroke="#3B6BAE" stroke-width="1.0"/>
<path d="M117.3 99.9L121.0 93.9H113.5Z" fill="none" stroke="#3B6BAE" stroke-width="1.0"/>
<path d="M119.1 101.9L122.9 95.8H115.4Z" fill="none" stroke="#3B6BAE" stroke-width="1.0"/>
<path d="M121.0 104.3L124.7 98.2H117.2Z" fill="none" stroke="#3B6BAE" stroke-width="1.0"/>
<path d="M122.8 112.1L126.5 106.1H119.0Z" fill="none" stroke="#3B6BAE" stroke-width="1.0"/>
<path d="M124.6 105.9L128.4 99.9H120.9Z" fill="none" stroke="#3B6BAE" stroke-width="1.0"/>
<path d="M126.5 114.2L130.2 108.2H122.7Z" fill="none" stroke="#3B6BAE" stroke-width="1.0"/>
<path d="M128.3 115.8L132.1 109.8H124.6Z" fill="none" stroke="#3B6BAE" stroke-width="1.0"/>
<path d="M130.2 118.3L133.9 112.2H126.4Z" fill="none" stroke="#3B6BAE" stroke-width="1.0"/>
<path d="M132.0 122.8L135.7 116.8H128.2Z" fill="none" stroke="#3B6BAE" stroke-width="1.0"/>
<path d="M133.8 128.3L137.6 122.3H130.1Z" fill="none" stroke="#3B6BAE" stroke-width="1.0"/>
<path d="M135.7 128.1L139.4 122.0H131.9Z" fill="none" stroke="#3B6BAE" stroke-width="1.0"/>
<path d="M137.5 130.2L141.3 124.2H133.8Z" fill="none" stroke="#3B6BAE" stroke-width="1.0"/>
<path d="M139.3 131.6L143.1 125.6H135.6Z" fill="none" stroke="#3B6BAE" stroke-width="1.0"/>
<path d="M141.2 135.8L144.9 129.7H137.4Z" fill="none" stroke="#3B6BAE" stroke-width="1.0"/>
<path d="M143.0 141.5L146.8 135.5H139.3Z" fill="none" stroke="#3B6BAE" stroke-width="1.0"/>
<path d="M144.9 140.6L148.6 134.6H141.1Z" fill="none" stroke="#3B6BAE" stroke-width="1.0"/>
<path d="M146.7 141.3L150.5 135.3H143.0Z" fill="none" stroke="#3B6BAE" stroke-width="1.0"/>
<path d="M148.5 143.9L152.3 137.8H144.8Z" fill="none" stroke="#3B6BAE" stroke-width="1.0"/>
<path d="M150.4 147.2L154.1 141.2H146.6Z" fill="none" stroke="#3B6BAE" stroke-width="1.0"/>
<path d="M152.2 149.2L156.0 143.2H148.5Z" fill="none" stroke="#3B6BAE" stroke-width="1.0"/>
<path d="M154.1 159.3L157.8 153.3H150.3Z" fill="none" stroke="#3B6BAE" stroke-width="1.0"/>
<path d="M155.9 159.9L159.7 153.9H152.2Z" fill="none" stroke="#3B6BAE" stroke-width="1.0"/>
<path d="M157.7 160.9L161.5 154.9H154.0Z" fill="none" stroke="#3B6BAE" stroke-width="1.0"/>
<path d="M159.6 168.8L163.3 162.8H155.8Z" fill="none" stroke="#3B6BAE" stroke-width="1.0"/>
<path d="M161.4 165.2L165.2 159.2H157.7Z" fill="none" stroke="#3B6BAE" stroke-width="1.0"/>
<path d="M163.3 172.2L167.0 166.2H159.5Z" fill="none" stroke="#3B6BAE" stroke-width="1.0"/>
<path d="M170.3 182.6L174.1 176.6H166.6Z" fill="none" stroke="#3B6BAE" stroke-width="1.0"/>
<path d="M177.4 184.6L181.1 178.5H173.6Z" fill="none" stroke="#3B6BAE" stroke-width="1.0"/>
<path d="M184.4 192.8L188.2 186.7H180.7Z" fill="none" stroke="#3B6BAE" stroke-width="1.0"/>
<path d="M191.4 201.1L195.2 195.1H187.7Z" fill="none" stroke="#3B6BAE" stroke-width="1.0"/>
<path d="M198.5 212.9L202.2 206.8H194.7Z" fill="none" stroke="#3B6BAE" stroke-width="1.0"/>
<path d="M205.5 218.8L209.3 212.7H201.8Z" fill="none" stroke="#3B6BAE" stroke-width="1.0"/>
<path d="M212.6 213.2L216.3 207.2H208.8Z" fill="none" stroke="#3B6BAE" stroke-width="1.0"/>
<path d="M219.6 224.3L223.4 218.3H215.9Z" fill="none" stroke="#3B6BAE" stroke-width="1.0"/>
<path d="M226.7 221.7L230.4 215.7H222.9Z" fill="none" stroke="#3B6BAE" stroke-width="1.0"/>
<path d="M233.7 224.0L237.5 218.0H230.0Z" fill="none" stroke="#3B6BAE" stroke-width="1.0"/>
<path d="M240.8 225.5L244.5 219.4H237.0Z" fill="none" stroke="#3B6BAE" stroke-width="1.0"/>
<path d="M247.8 228.0L251.6 221.9H244.1Z" fill="none" stroke="#3B6BAE" stroke-width="1.0"/>
<path d="M254.9 223.2L258.6 217.1H251.1Z" fill="none" stroke="#3B6BAE" stroke-width="1.0"/>
<path d="M38.5 50.8L42.2 54.5L38.5 58.2L34.8 54.5Z" fill="none" stroke="#EC5AA8" stroke-width="1.0"/>
<path d="M42.6 50.6L46.3 54.3L42.6 58.1L38.9 54.3Z" fill="none" stroke="#EC5AA8" stroke-width="1.0"/>
<path d="M46.3 56.3L50.0 60.0L46.3 63.7L42.6 60.0Z" fill="none" stroke="#EC5AA8" stroke-width="1.0"/>
<path d="M49.6 61.4L53.3 65.2L49.6 68.9L45.8 65.2Z" fill="none" stroke="#EC5AA8" stroke-width="1.0"/>
<path d="M52.5 63.7L56.2 67.4L52.5 71.1L48.8 67.4Z" fill="none" stroke="#EC5AA8" stroke-width="1.0"/>
<path d="M55.2 54.8L59.0 58.5L55.2 62.3L51.5 58.5Z" fill="none" stroke="#EC5AA8" stroke-width="1.0"/>
<path d="M57.7 51.0L61.4 54.7L57.7 58.4L54.0 54.7Z" fill="none" stroke="#EC5AA8" stroke-width="1.0"/>
<path d="M60.1 55.2L63.8 58.9L60.1 62.6L56.3 58.9Z" fill="none" stroke="#EC5AA8" stroke-width="1.0"/>
<path d="M62.2 53.9L65.9 57.6L62.2 61.3L58.5 57.6Z" fill="none" stroke="#EC5AA8" stroke-width="1.0"/>
<path d="M64.2 62.9L67.9 66.6L64.2 70.3L60.5 66.6Z" fill="none" stroke="#EC5AA8" stroke-width="1.0"/>
<path d="M66.1 58.9L69.8 62.6L66.1 66.4L62.4 62.6Z" fill="none" stroke="#EC5AA8" stroke-width="1.0"/>
<path d="M67.9 55.3L71.6 59.0L67.9 62.7L64.2 59.0Z" fill="none" stroke="#EC5AA8" stroke-width="1.0"/>
<path d="M69.6 60.5L73.3 64.2L69.6 68.0L65.9 64.2Z" fill="none" stroke="#EC5AA8" stroke-width="1.0"/>
<path d="M71.2 59.6L74.9 63.3L71.2 67.0L67.5 63.3Z" fill="none" stroke="#EC5AA8" stroke-width="1.0"/>
<path d="M72.7 53.3L76.5 57.1L72.7 60.8L69.0 57.1Z" fill="none" stroke="#EC5AA8" stroke-width="1.0"/>
<path d="M74.2 56.9L77.9 60.6L74.2 64.3L70.5 60.6Z" fill="none" stroke="#EC5AA8" stroke-width="1.0"/>
<path d="M75.6 58.0L79.3 61.7L75.6 65.4L71.9 61.7Z" fill="none" stroke="#EC5AA8" stroke-width="1.0"/>
<path d="M76.9 59.0L80.6 62.7L76.9 66.4L73.2 62.7Z" fill="none" stroke="#EC5AA8" stroke-width="1.0"/>
<path d="M78.2 59.6L81.9 63.3L78.2 67.0L74.5 63.3Z" fill="none" stroke="#EC5AA8" stroke-width="1.0"/>
<path d="M79.4 58.4L83.2 62.1L79.4 65.8L75.7 62.1Z" fill="none" stroke="#EC5AA8" stroke-width="1.0"/>
<path d="M80.6 60.2L84.3 64.0L80.6 67.7L76.9 64.0Z" fill="none" stroke="#EC5AA8" stroke-width="1.0"/>
<path d="M81.8 58.2L85.5 61.9L81.8 65.6L78.1 61.9Z" fill="none" stroke="#EC5AA8" stroke-width="1.0"/>
<path d="M82.9 57.5L86.6 61.2L82.9 64.9L79.2 61.2Z" fill="none" stroke="#EC5AA8" stroke-width="1.0"/>
<path d="M83.9 65.0L87.7 68.7L83.9 72.4L80.2 68.7Z" fill="none" stroke="#EC5AA8" stroke-width="1.0"/>
<path d="M85.0 61.7L88.7 65.4L85.0 69.2L81.3 65.4Z" fill="none" stroke="#EC5AA8" stroke-width="1.0"/>
<path d="M86.0 62.2L89.7 65.9L86.0 69.6L82.3 65.9Z" fill="none" stroke="#EC5AA8" stroke-width="1.0"/>
<path d="M86.9 56.4L90.7 60.1L86.9 63.8L83.2 60.1Z" fill="none" stroke="#EC5AA8" stroke-width="1.0"/>
<path d="M87.9 60.9L91.6 64.6L87.9 68.3L84.2 64.6Z" fill="none" stroke="#EC5AA8" stroke-width="1.0"/>
<path d="M88.8 64.1L92.5 67.8L88.8 71.5L85.1 67.8Z" fill="none" stroke="#EC5AA8" stroke-width="1.0"/>
<path d="M89.7 58.0L93.4 61.7L89.7 65.4L86.0 61.7Z" fill="none" stroke="#EC5AA8" stroke-width="1.0"/>
<path d="M91.5 65.7L95.2 69.4L91.5 73.1L87.8 69.4Z" fill="none" stroke="#EC5AA8" stroke-width="1.0"/>
<path d="M93.4 61.7L97.1 65.4L93.4 69.2L89.6 65.4Z" fill="none" stroke="#EC5AA8" stroke-width="1.0"/>
<path d="M95.2 64.6L98.9 68.3L95.2 72.1L91.5 68.3Z" fill="none" stroke="#EC5AA8" stroke-width="1.0"/>
<path d="M97.0 63.6L100.7 67.3L97.0 71.0L93.3 67.3Z" fill="none" stroke="#EC5AA8" stroke-width="1.0"/>
<path d="M98.9 65.2L102.6 68.9L98.9 72.6L95.2 68.9Z" fill="none" stroke="#EC5AA8" stroke-width="1.0"/>
<path d="M100.7 68.7L104.4 72.4L100.7 76.2L97.0 72.4Z" fill="none" stroke="#EC5AA8" stroke-width="1.0"/>
<path d="M102.6 64.5L106.3 68.2L102.6 71.9L98.8 68.2Z" fill="none" stroke="#EC5AA8" stroke-width="1.0"/>
<path d="M104.4 71.1L108.1 74.8L104.4 78.5L100.7 74.8Z" fill="none" stroke="#EC5AA8" stroke-width="1.0"/>
<path d="M106.2 64.7L109.9 68.4L106.2 72.1L102.5 68.4Z" fill="none" stroke="#EC5AA8" stroke-width="1.0"/>
<path d="M108.1 64.9L111.8 68.6L108.1 72.3L104.4 68.6Z" fill="none" stroke="#EC5AA8" stroke-width="1.0"/>
<path d="M109.9 70.6L113.6 74.4L109.9 78.1L106.2 74.4Z" fill="none" stroke="#EC5AA8" stroke-width="1.0"/>
<path d="M111.8 65.9L115.5 69.6L111.8 73.3L108.0 69.6Z" fill="none" stroke="#EC5AA8" stroke-width="1.0"/>
<path d="M113.6 68.8L117.3 72.5L113.6 76.3L109.9 72.5Z" fill="none" stroke="#EC5AA8" stroke-width="1.0"/>
<path d="M115.4 73.6L119.1 77.3L115.4 81.0L111.7 77.3Z" fill="none" stroke="#EC5AA8" stroke-width="1.0"/>
<path d="M117.3 75.4L121.0 79.1L117.3 82.8L113.6 79.1Z" fill="none" stroke="#EC5AA8" stroke-width="1.0"/>
<path d="M119.1 66.6L122.8 70.4L119.1 74.1L115.4 70.4Z" fill="none" stroke="#EC5AA8" stroke-width="1.0"/>
<path d="M121.0 74.8L124.7 78.5L121.0 82.2L117.2 78.5Z" fill="none" stroke="#EC5AA8" stroke-width="1.0"/>
<path d="M122.8 80.4L126.5 84.1L122.8 87.8L119.1 84.1Z" fill="none" stroke="#EC5AA8" stroke-width="1.0"/>
<path d="M124.6 79.3L128.3 83.0L124.6 86.7L120.9 83.0Z" fill="none" stroke="#EC5AA8" stroke-width="1.0"/>
<path d="M126.5 75.9L130.2 79.6L126.5 83.3L122.8 79.6Z" fill="none" stroke="#EC5AA8" stroke-width="1.0"/>
<path d="M128.3 76.1L132.0 79.8L128.3 83.5L124.6 79.8Z" fill="none" stroke="#EC5AA8" stroke-width="1.0"/>
<path d="M130.2 78.7L133.9 82.4L130.2 86.1L126.4 82.4Z" fill="none" stroke="#EC5AA8" stroke-width="1.0"/>
<path d="M132.0 77.4L135.7 81.1L132.0 84.9L128.3 81.1Z" fill="none" stroke="#EC5AA8" stroke-width="1.0"/>
<path d="M133.8 82.3L137.5 86.0L133.8 89.7L130.1 86.0Z" fill="none" stroke="#EC5AA8" stroke-width="1.0"/>
<path d="M135.7 84.4L139.4 88.1L135.7 91.8L132.0 88.1Z" fill="none" stroke="#EC5AA8" stroke-width="1.0"/>
<path d="M137.5 86.5L141.2 90.2L137.5 93.9L133.8 90.2Z" fill="none" stroke="#EC5AA8" stroke-width="1.0"/>
<path d="M139.3 93.3L143.1 97.0L139.3 100.7L135.6 97.0Z" fill="none" stroke="#EC5AA8" stroke-width="1.0"/>
<path d="M141.2 90.1L144.9 93.8L141.2 97.5L137.5 93.8Z" fill="none" stroke="#EC5AA8" stroke-width="1.0"/>
<path d="M143.0 87.5L146.7 91.2L143.0 94.9L139.3 91.2Z" fill="none" stroke="#EC5AA8" stroke-width="1.0"/>
<path d="M144.9 98.9L148.6 102.6L144.9 106.3L141.2 102.6Z" fill="none" stroke="#EC5AA8" stroke-width="1.0"/>
<path d="M146.7 92.9L150.4 96.6L146.7 100.3L143.0 96.6Z" fill="none" stroke="#EC5AA8" stroke-width="1.0"/>
<path d="M148.5 97.4L152.3 101.2L148.5 104.9L144.8 101.2Z" fill="none" stroke="#EC5AA8" stroke-width="1.0"/>
<path d="M150.4 100.9L154.1 104.7L150.4 108.4L146.7 104.7Z" fill="none" stroke="#EC5AA8" stroke-width="1.0"/>
<path d="M152.2 102.5L155.9 106.2L152.2 109.9L148.5 106.2Z" fill="none" stroke="#EC5AA8" stroke-width="1.0"/>
<path d="M154.1 102.4L157.8 106.1L154.1 109.8L150.4 106.1Z" fill="none" stroke="#EC5AA8" stroke-width="1.0"/>
<path d="M155.9 108.0L159.6 111.7L155.9 115.4L152.2 111.7Z" fill="none" stroke="#EC5AA8" stroke-width="1.0"/>
<path d="M157.7 120.3L161.5 124.0L157.7 127.8L154.0 124.0Z" fill="none" stroke="#EC5AA8" stroke-width="1.0"/>
<path d="M159.6 111.9L163.3 115.6L159.6 119.3L155.9 115.6Z" fill="none" stroke="#EC5AA8" stroke-width="1.0"/>
<path d="M161.4 116.5L165.1 120.3L161.4 124.0L157.7 120.3Z" fill="none" stroke="#EC5AA8" stroke-width="1.0"/>
<path d="M163.3 124.5L167.0 128.2L163.3 131.9L159.6 128.2Z" fill="none" stroke="#EC5AA8" stroke-width="1.0"/>
<path d="M167.1 128.9L170.8 132.6L167.1 136.3L163.4 132.6Z" fill="none" stroke="#EC5AA8" stroke-width="1.0"/>
<path d="M171.0 135.0L174.7 138.7L171.0 142.4L167.3 138.7Z" fill="none" stroke="#EC5AA8" stroke-width="1.0"/>
<path d="M174.8 141.7L178.6 145.4L174.8 149.1L171.1 145.4Z" fill="none" stroke="#EC5AA8" stroke-width="1.0"/>
<path d="M178.7 136.1L182.4 139.9L178.7 143.6L175.0 139.9Z" fill="none" stroke="#EC5AA8" stroke-width="1.0"/>
<path d="M182.6 147.5L186.3 151.2L182.6 154.9L178.8 151.2Z" fill="none" stroke="#EC5AA8" stroke-width="1.0"/>
<path d="M186.4 158.7L190.1 162.4L186.4 166.1L182.7 162.4Z" fill="none" stroke="#EC5AA8" stroke-width="1.0"/>
<path d="M190.3 167.3L194.0 171.0L190.3 174.7L186.6 171.0Z" fill="none" stroke="#EC5AA8" stroke-width="1.0"/>
<path d="M194.1 177.7L197.8 181.4L194.1 185.1L190.4 181.4Z" fill="none" stroke="#EC5AA8" stroke-width="1.0"/>
<path d="M198.0 180.6L201.7 184.3L198.0 188.0L194.3 184.3Z" fill="none" stroke="#EC5AA8" stroke-width="1.0"/>
<path d="M201.9 183.5L205.6 187.2L201.9 190.9L198.1 187.2Z" fill="none" stroke="#EC5AA8" stroke-width="1.0"/>
<path d="M205.7 190.2L209.4 193.9L205.7 197.6L202.0 193.9Z" fill="none" stroke="#EC5AA8" stroke-width="1.0"/>
<path d="M209.6 194.5L213.3 198.2L209.6 201.9L205.9 198.2Z" fill="none" stroke="#EC5AA8" stroke-width="1.0"/>
<path d="M213.4 201.8L217.1 205.5L213.4 209.2L209.7 205.5Z" fill="none" stroke="#EC5AA8" stroke-width="1.0"/>
<path d="M217.3 208.1L221.0 211.8L217.3 215.6L213.6 211.8Z" fill="none" stroke="#EC5AA8" stroke-width="1.0"/>
<path d="M221.1 206.8L224.9 210.5L221.1 214.2L217.4 210.5Z" fill="none" stroke="#EC5AA8" stroke-width="1.0"/>
<path d="M225.0 207.0L228.7 210.7L225.0 214.4L221.3 210.7Z" fill="none" stroke="#EC5AA8" stroke-width="1.0"/>
<path d="M228.9 208.3L232.6 212.0L228.9 215.7L225.2 212.0Z" fill="none" stroke="#EC5AA8" stroke-width="1.0"/>
<path d="M232.7 219.0L236.4 222.7L232.7 226.4L229.0 222.7Z" fill="none" stroke="#EC5AA8" stroke-width="1.0"/>
<path d="M236.6 221.1L240.3 224.8L236.6 228.5L232.9 224.8Z" fill="none" stroke="#EC5AA8" stroke-width="1.0"/>
<path d="M240.4 220.8L244.2 224.5L240.4 228.2L236.7 224.5Z" fill="none" stroke="#EC5AA8" stroke-width="1.0"/>
<path d="M244.3 221.1L248.0 224.8L244.3 228.5L240.6 224.8Z" fill="none" stroke="#EC5AA8" stroke-width="1.0"/>
<path d="M248.2 221.9L251.9 225.7L248.2 229.4L244.4 225.7Z" fill="none" stroke="#EC5AA8" stroke-width="1.0"/>
<path d="M252.0 218.8L255.7 222.5L252.0 226.2L248.3 222.5Z" fill="none" stroke="#EC5AA8" stroke-width="1.0"/>
<path d="M35.0 61.5L41.1 57.7V65.2Z" fill="none" stroke="#F6B530" stroke-width="1.0"/>
<path d="M39.2 51.8L45.2 48.1V55.6Z" fill="none" stroke="#F6B530" stroke-width="1.0"/>
<path d="M42.8 57.5L48.9 53.8V61.3Z" fill="none" stroke="#F6B530" stroke-width="1.0"/>
<path d="M46.1 54.7L52.1 51.0V58.5Z" fill="none" stroke="#F6B530" stroke-width="1.0"/>
<path d="M49.1 64.3L55.1 60.6V68.1Z" fill="none" stroke="#F6B530" stroke-width="1.0"/>
<path d="M51.8 56.5L57.8 52.7V60.2Z" fill="none" stroke="#F6B530" stroke-width="1.0"/>
<path d="M54.3 59.9L60.3 56.1V63.6Z" fill="none" stroke="#F6B530" stroke-width="1.0"/>
<path d="M56.6 63.5L62.6 59.8V67.3Z" fill="none" stroke="#F6B530" stroke-width="1.0"/>
<path d="M58.8 70.1L64.8 66.3V73.8Z" fill="none" stroke="#F6B530" stroke-width="1.0"/>
<path d="M60.8 56.5L66.8 52.7V60.2Z" fill="none" stroke="#F6B530" stroke-width="1.0"/>
<path d="M62.7 55.8L68.7 52.0V59.5Z" fill="none" stroke="#F6B530" stroke-width="1.0"/>
<path d="M64.5 67.7L70.5 63.9V71.4Z" fill="none" stroke="#F6B530" stroke-width="1.0"/>
<path d="M66.2 55.2L72.2 51.5V59.0Z" fill="none" stroke="#F6B530" stroke-width="1.0"/>
<path d="M67.8 65.9L73.8 62.2V69.7Z" fill="none" stroke="#F6B530" stroke-width="1.0"/>
<path d="M69.3 59.4L75.3 55.6V63.1Z" fill="none" stroke="#F6B530" stroke-width="1.0"/>
<path d="M70.8 62.8L76.8 59.1V66.6Z" fill="none" stroke="#F6B530" stroke-width="1.0"/>
<path d="M72.2 51.5L78.2 47.8V55.3Z" fill="none" stroke="#F6B530" stroke-width="1.0"/>
<path d="M73.5 69.0L79.5 65.2V72.7Z" fill="none" stroke="#F6B530" stroke-width="1.0"/>
<path d="M74.8 61.0L80.8 57.3V64.8Z" fill="none" stroke="#F6B530" stroke-width="1.0"/>
<path d="M76.0 58.6L82.0 54.8V62.3Z" fill="none" stroke="#F6B530" stroke-width="1.0"/>
<path d="M77.2 79.2L83.2 75.5V83.0Z" fill="none" stroke="#F6B530" stroke-width="1.0"/>
<path d="M78.3 70.2L84.4 66.4V73.9Z" fill="none" stroke="#F6B530" stroke-width="1.0"/>
<path d="M79.4 89.7L85.5 86.0V93.5Z" fill="none" stroke="#F6B530" stroke-width="1.0"/>
<path d="M80.5 68.7L86.5 64.9V72.4Z" fill="none" stroke="#F6B530" stroke-width="1.0"/>
<path d="M81.5 63.8L87.6 60.0V67.5Z" fill="none" stroke="#F6B530" stroke-width="1.0"/>
<path d="M82.5 67.2L88.6 63.4V70.9Z" fill="none" stroke="#F6B530" stroke-width="1.0"/>
<path d="M83.5 77.9L89.5 74.1V81.6Z" fill="none" stroke="#F6B530" stroke-width="1.0"/>
<path d="M84.4 66.8L90.5 63.1V70.6Z" fill="none" stroke="#F6B530" stroke-width="1.0"/>
<path d="M85.3 70.4L91.4 66.7V74.2Z" fill="none" stroke="#F6B530" stroke-width="1.0"/>
<path d="M86.2 71.2L92.3 67.4V74.9Z" fill="none" stroke="#F6B530" stroke-width="1.0"/>
<path d="M88.1 61.9L94.1 58.1V65.6Z" fill="none" stroke="#F6B530" stroke-width="1.0"/>
<path d="M89.9 69.8L95.9 66.0V73.5Z" fill="none" stroke="#F6B530" stroke-width="1.0"/>
<path d="M91.7 66.0L97.8 62.3V69.8Z" fill="none" stroke="#F6B530" stroke-width="1.0"/>
<path d="M93.6 61.5L99.6 57.8V65.3Z" fill="none" stroke="#F6B530" stroke-width="1.0"/>
<path d="M95.4 77.1L101.5 73.3V80.8Z" fill="none" stroke="#F6B530" stroke-width="1.0"/>
<path d="M97.3 76.3L103.3 72.6V80.1Z" fill="none" stroke="#F6B530" stroke-width="1.0"/>
<path d="M99.1 72.9L105.1 69.1V76.6Z" fill="none" stroke="#F6B530" stroke-width="1.0"/>
<path d="M100.9 66.7L107.0 63.0V70.5Z" fill="none" stroke="#F6B530" stroke-width="1.0"/>
<path d="M102.8 59.7L108.8 56.0V63.5Z" fill="none" stroke="#F6B530" stroke-width="1.0"/>
<path d="M104.6 77.7L110.7 73.9V81.4Z" fill="none" stroke="#F6B530" stroke-width="1.0"/>
<path d="M106.5 74.2L112.5 70.5V78.0Z" fill="none" stroke="#F6B530" stroke-width="1.0"/>
<path d="M108.3 64.0L114.3 60.2V67.7Z" fill="none" stroke="#F6B530" stroke-width="1.0"/>
<path d="M110.1 75.7L116.2 72.0V79.5Z" fill="none" stroke="#F6B530" stroke-width="1.0"/>
<path d="M112.0 66.4L118.0 62.7V70.2Z" fill="none" stroke="#F6B530" stroke-width="1.0"/>
<path d="M113.8 77.2L119.9 73.5V81.0Z" fill="none" stroke="#F6B530" stroke-width="1.0"/>
<path d="M115.7 79.0L121.7 75.3V82.8Z" fill="none" stroke="#F6B530" stroke-width="1.0"/>
<path d="M117.5 81.1L123.5 77.4V84.9Z" fill="none" stroke="#F6B530" stroke-width="1.0"/>
<path d="M119.3 81.1L125.4 77.4V84.9Z" fill="none" stroke="#F6B530" stroke-width="1.0"/>
<path d="M121.2 81.9L127.2 78.1V85.6Z" fill="none" stroke="#F6B530" stroke-width="1.0"/>
<path d="M123.0 74.5L129.1 70.8V78.3Z" fill="none" stroke="#F6B530" stroke-width="1.0"/>
<path d="M124.9 80.9L130.9 77.1V84.6Z" fill="none" stroke="#F6B530" stroke-width="1.0"/>
<path d="M126.7 81.6L132.7 77.9V85.4Z" fill="none" stroke="#F6B530" stroke-width="1.0"/>
<path d="M128.5 85.1L134.6 81.3V88.8Z" fill="none" stroke="#F6B530" stroke-width="1.0"/>
<path d="M130.4 90.1L136.4 86.3V93.8Z" fill="none" stroke="#F6B530" stroke-width="1.0"/>
<path d="M132.2 94.2L138.3 90.4V97.9Z" fill="none" stroke="#F6B530" stroke-width="1.0"/>
<path d="M134.1 102.5L140.1 98.8V106.3Z" fill="none" stroke="#F6B530" stroke-width="1.0"/>
<path d="M135.9 78.2L141.9 74.5V82.0Z" fill="none" stroke="#F6B530" stroke-width="1.0"/>
<path d="M137.7 98.8L143.8 95.0V102.5Z" fill="none" stroke="#F6B530" stroke-width="1.0"/>
<path d="M139.6 97.1L145.6 93.4V100.9Z" fill="none" stroke="#F6B530" stroke-width="1.0"/>
<path d="M141.4 114.3L147.5 110.5V118.0Z" fill="none" stroke="#F6B530" stroke-width="1.0"/>
<path d="M143.3 108.1L149.3 104.3V111.8Z" fill="none" stroke="#F6B530" stroke-width="1.0"/>
<path d="M145.1 94.5L151.1 90.8V98.3Z" fill="none" stroke="#F6B530" stroke-width="1.0"/>
<path d="M146.9 109.3L153.0 105.5V113.0Z" fill="none" stroke="#F6B530" stroke-width="1.0"/>
<path d="M148.8 106.1L154.8 102.3V109.8Z" fill="none" stroke="#F6B530" stroke-width="1.0"/>
<path d="M150.6 117.6L156.7 113.8V121.3Z" fill="none" stroke="#F6B530" stroke-width="1.0"/>
<path d="M152.5 107.8L158.5 104.0V111.5Z" fill="none" stroke="#F6B530" stroke-width="1.0"/>
<path d="M154.3 116.0L160.3 112.3V119.8Z" fill="none" stroke="#F6B530" stroke-width="1.0"/>
<path d="M156.1 118.4L162.2 114.6V122.1Z" fill="none" stroke="#F6B530" stroke-width="1.0"/>
<path d="M158.0 121.2L164.0 117.4V124.9Z" fill="none" stroke="#F6B530" stroke-width="1.0"/>
<path d="M159.8 120.8L165.9 117.1V124.6Z" fill="none" stroke="#F6B530" stroke-width="1.0"/>
<path d="M163.7 118.6L169.7 114.8V122.3Z" fill="none" stroke="#F6B530" stroke-width="1.0"/>
<path d="M167.5 137.4L173.6 133.7V141.2Z" fill="none" stroke="#F6B530" stroke-width="1.0"/>
<path d="M171.4 145.6L177.4 141.9V149.4Z" fill="none" stroke="#F6B530" stroke-width="1.0"/>
<path d="M175.3 144.2L181.3 140.5V148.0Z" fill="none" stroke="#F6B530" stroke-width="1.0"/>
<path d="M179.1 144.1L185.1 140.3V147.8Z" fill="none" stroke="#F6B530" stroke-width="1.0"/>
<path d="M183.0 157.7L189.0 154.0V161.5Z" fill="none" stroke="#F6B530" stroke-width="1.0"/>
<path d="M186.8 166.5L192.9 162.7V170.2Z" fill="none" stroke="#F6B530" stroke-width="1.0"/>
<path d="M190.7 168.5L196.7 164.8V172.3Z" fill="none" stroke="#F6B530" stroke-width="1.0"/>
<path d="M194.5 175.7L200.6 171.9V179.4Z" fill="none" stroke="#F6B530" stroke-width="1.0"/>
<path d="M198.4 190.0L204.4 186.2V193.7Z" fill="none" stroke="#F6B530" stroke-width="1.0"/>
<path d="M202.3 180.1L208.3 176.4V183.9Z" fill="none" stroke="#F6B530" stroke-width="1.0"/>
<path d="M206.1 188.8L212.2 185.1V192.6Z" fill="none" stroke="#F6B530" stroke-width="1.0"/>
<path d="M210.0 186.1L216.0 182.3V189.8Z" fill="none" stroke="#F6B530" stroke-width="1.0"/>
<path d="M213.8 198.5L219.9 194.7V202.2Z" fill="none" stroke="#F6B530" stroke-width="1.0"/>
<path d="M217.7 202.8L223.7 199.1V206.6Z" fill="none" stroke="#F6B530" stroke-width="1.0"/>
<path d="M221.6 205.2L227.6 201.4V208.9Z" fill="none" stroke="#F6B530" stroke-width="1.0"/>
<path d="M225.4 209.4L231.5 205.6V213.1Z" fill="none" stroke="#F6B530" stroke-width="1.0"/>
<path d="M229.3 226.3L235.3 222.5V230.0Z" fill="none" stroke="#F6B530" stroke-width="1.0"/>
<path d="M233.1 215.8L239.2 212.1V219.6Z" fill="none" stroke="#F6B530" stroke-width="1.0"/>
<path d="M237.0 217.5L243.0 213.7V221.2Z" fill="none" stroke="#F6B530" stroke-width="1.0"/>
<path d="M240.9 232.4L246.9 228.7V236.2Z" fill="none" stroke="#F6B530" stroke-width="1.0"/>
<path d="M244.7 220.0L250.7 216.2V223.7Z" fill="none" stroke="#F6B530" stroke-width="1.0"/>
<path d="M248.6 211.1L254.6 207.3V214.8Z" fill="none" stroke="#F6B530" stroke-width="1.0"/>
<path d="M38.4 68.0 L40.8 69.8 L43.2 71.7 L45.7 73.4 L48.1 75.2 L50.5 77.0 L52.9 78.9 L55.3 80.8 L57.7 82.8 L60.2 84.9 L62.6 87.2 L65.0 89.5 L67.4 91.9 L69.8 94.4 L72.3 97.0 L74.7 99.7 L77.1 102.5 L79.5 105.5 L81.9 108.6 L84.3 111.9 L86.8 115.5 L89.2 119.5 L91.6 123.7 L94.0 127.9 L96.4 132.2 L98.8 136.4 L101.3 140.3 L103.7 144.0 L106.1 147.8 L108.5 151.5 L110.9 155.1 L113.4 158.7 L115.8 162.2 L118.2 165.6 L120.6 168.9 L123.0 172.2 L125.4 175.3 L127.9 178.3 L130.3 181.3 L132.7 184.2 L135.1 187.0 L137.5 189.8 L140.0 192.5 L142.4 195.2 L144.8 197.9 L147.2 200.3 L149.6 202.7 L152.0 204.9 L154.5 207.1 L156.9 209.2 L159.3 211.4 L161.7 213.4 L164.1 215.3 L166.6 217.2 L169.0 218.8 L171.4 220.2 L173.8 221.5 L176.2 222.5 L178.6 223.4 L181.1 224.3 L183.5 225.1 L185.9 225.9 L188.3 226.6 L190.7 227.2 L193.2 227.8 L195.6 228.3 L198.0 228.7 L200.4 229.1 L202.8 229.4 L205.2 229.6 L207.7 229.9 L210.1 230.1 L212.5 230.4 L214.9 230.6 L217.3 230.7 L219.7 230.9 L222.2 231.1 L224.6 231.3 L227.0 231.4 L229.4 231.6 L231.8 231.7 L234.3 231.9 L236.7 232.0 L239.1 232.2 L241.5 232.3 L243.9 232.5 L246.3 232.6 L248.8 232.7 L251.2 232.9 L253.6 233.0" fill="none" stroke="#F0842C" stroke-width="1.3"/>
<path d="M38.4 58.0 L40.8 59.4 L43.2 60.7 L45.7 61.9 L48.1 63.2 L50.5 64.4 L52.9 65.7 L55.3 67.0 L57.7 68.3 L60.2 69.7 L62.6 71.2 L65.0 72.8 L67.4 74.6 L69.8 76.4 L72.3 78.5 L74.7 80.8 L77.1 83.3 L79.5 85.9 L81.9 88.6 L84.3 91.4 L86.8 94.3 L89.2 97.2 L91.6 100.2 L94.0 103.2 L96.4 106.2 L98.8 109.3 L101.3 112.5 L103.7 115.9 L106.1 119.3 L108.5 122.7 L110.9 126.1 L113.4 129.3 L115.8 132.5 L118.2 135.7 L120.6 139.1 L123.0 142.6 L125.4 146.3 L127.9 150.1 L130.3 154.0 L132.7 157.9 L135.1 161.6 L137.5 165.4 L140.0 169.1 L142.4 172.9 L144.8 176.6 L147.2 180.1 L149.6 183.5 L152.0 186.7 L154.5 190.0 L156.9 193.2 L159.3 196.3 L161.7 199.4 L164.1 202.4 L166.6 205.1 L169.0 207.7 L171.4 210.1 L173.8 212.1 L176.2 213.9 L178.6 215.5 L181.1 217.1 L183.5 218.6 L185.9 220.0 L188.3 221.4 L190.7 222.6 L193.2 223.6 L195.6 224.6 L198.0 225.4 L200.4 226.1 L202.8 226.7 L205.2 227.3 L207.7 227.8 L210.1 228.3 L212.5 228.8 L214.9 229.3 L217.3 229.7 L219.7 230.1 L222.2 230.5 L224.6 230.8 L227.0 231.1 L229.4 231.4 L231.8 231.6 L234.3 231.9 L236.7 232.1 L239.1 232.2 L241.5 232.4 L243.9 232.5 L246.3 232.6 L248.8 232.7 L251.2 232.9 L253.6 233.0" fill="none" stroke="#7B5CB8" stroke-width="1.3"/>
<path d="M38.4 53.0 L40.8 53.5 L43.2 54.0 L45.7 54.5 L48.1 55.0 L50.5 55.5 L52.9 56.0 L55.3 56.6 L57.7 57.3 L60.2 58.1 L62.6 59.1 L65.0 60.4 L67.4 62.0 L69.8 63.7 L72.3 65.5 L74.7 67.3 L77.1 69.1 L79.5 70.7 L81.9 72.2 L84.3 73.5 L86.8 74.8 L89.2 76.0 L91.6 77.3 L94.0 78.7 L96.4 80.3 L98.8 82.1 L101.3 84.1 L103.7 86.7 L106.1 89.8 L108.5 93.3 L110.9 97.0 L113.4 101.0 L115.8 105.0 L118.2 109.1 L120.6 113.1 L123.0 117.0 L125.4 120.7 L127.9 124.1 L130.3 127.6 L132.7 131.1 L135.1 134.6 L137.5 138.2 L140.0 141.9 L142.4 145.8 L144.8 149.8 L147.2 153.8 L149.6 157.8 L152.0 161.7 L154.5 165.6 L156.9 169.5 L159.3 173.4 L161.7 177.3 L164.1 181.0 L166.6 184.7 L169.0 188.2 L171.4 191.5 L173.8 194.7 L176.2 197.7 L178.6 200.5 L181.1 203.1 L183.5 205.7 L185.9 208.3 L188.3 210.7 L190.7 213.1 L193.2 215.3 L195.6 217.2 L198.0 218.9 L200.4 220.2 L202.8 221.4 L205.2 222.5 L207.7 223.5 L210.1 224.5 L212.5 225.3 L214.9 226.2 L217.3 226.9 L219.7 227.6 L222.2 228.3 L224.6 228.9 L227.0 229.4 L229.4 229.9 L231.8 230.3 L234.3 230.7 L236.7 231.0 L239.1 231.3 L241.5 231.6 L243.9 231.9 L246.3 232.2 L248.8 232.4 L251.2 232.7 L253.6 233.0" fill="none" stroke="#4DBE74" stroke-width="1.3"/>
<path d="M38.4 51.0 L40.8 51.7 L43.2 52.3 L45.7 52.9 L48.1 53.5 L50.5 54.1 L52.9 54.8 L55.3 55.5 L57.7 56.2 L60.2 57.1 L62.6 58.0 L65.0 59.1 L67.4 60.2 L69.8 61.4 L72.3 62.7 L74.7 64.1 L77.1 65.4 L79.5 66.7 L81.9 68.0 L84.3 69.3 L86.8 70.6 L89.2 71.9 L91.6 73.2 L94.0 74.7 L96.4 76.3 L98.8 78.1 L101.3 80.1 L103.7 82.4 L106.1 85.1 L108.5 88.0 L110.9 91.2 L113.4 94.6 L115.8 98.1 L118.2 101.8 L120.6 105.5 L123.0 109.3 L125.4 113.0 L127.9 116.8 L130.3 120.4 L132.7 124.1 L135.1 128.0 L137.5 131.9 L140.0 135.8 L142.4 139.8 L144.8 143.8 L147.2 147.8 L149.6 151.9 L152.0 156.0 L154.5 159.9 L156.9 163.9 L159.3 167.8 L161.7 171.8 L164.1 175.7 L166.6 179.5 L169.0 183.2 L171.4 186.7 L173.8 190.1 L176.2 193.5 L178.6 196.7 L181.1 199.7 L183.5 202.5 L185.9 204.8 L188.3 207.1 L190.7 209.2 L193.2 211.2 L195.6 213.1 L198.0 215.0 L200.4 216.7 L202.8 218.2 L205.2 219.6 L207.7 220.9 L210.1 222.0 L212.5 223.0 L214.9 224.0 L217.3 224.9 L219.7 225.7 L222.2 226.5 L224.6 227.3 L227.0 228.0 L229.4 228.6 L231.8 229.2 L234.3 229.8 L236.7 230.3 L239.1 230.8 L241.5 231.3 L243.9 231.7 L246.3 232.0 L248.8 232.3 L251.2 232.7 L253.6 233.0" fill="none" stroke="#3B6BAE" stroke-width="1.3"/>
<path d="M38.4 47.5 L40.8 47.9 L43.2 48.2 L45.7 48.6 L48.1 48.9 L50.5 49.2 L52.9 49.5 L55.3 49.8 L57.7 50.2 L60.2 50.5 L62.6 50.8 L65.0 51.2 L67.4 51.6 L69.8 52.0 L72.3 52.4 L74.7 52.9 L77.1 53.4 L79.5 53.9 L81.9 54.5 L84.3 55.1 L86.8 55.8 L89.2 56.5 L91.6 57.3 L94.0 58.1 L96.4 59.0 L98.8 60.0 L101.3 61.0 L103.7 62.1 L106.1 63.2 L108.5 64.4 L110.9 65.7 L113.4 67.0 L115.8 68.4 L118.2 69.9 L120.6 71.4 L123.0 73.2 L125.4 75.4 L127.9 77.8 L130.3 80.5 L132.7 83.4 L135.1 86.4 L137.5 89.5 L140.0 92.8 L142.4 96.0 L144.8 99.2 L147.2 102.5 L149.6 106.0 L152.0 109.7 L154.5 113.5 L156.9 117.4 L159.3 121.4 L161.7 125.4 L164.1 129.4 L166.6 133.3 L169.0 137.2 L171.4 141.1 L173.8 145.1 L176.2 149.1 L178.6 153.1 L181.1 157.2 L183.5 161.4 L185.9 165.6 L188.3 169.9 L190.7 174.2 L193.2 178.4 L195.6 182.5 L198.0 186.5 L200.4 190.2 L202.8 193.8 L205.2 197.1 L207.7 200.5 L210.1 203.9 L212.5 207.2 L214.9 210.4 L217.3 213.4 L219.7 216.1 L222.2 218.5 L224.6 220.5 L227.0 222.0 L229.4 223.2 L231.8 224.3 L234.3 225.2 L236.7 226.0 L239.1 226.8 L241.5 227.5 L243.9 228.2 L246.3 228.8 L248.8 229.5 L251.2 230.2 L253.6 231.0" fill="none" stroke="#EC5AA8" stroke-width="1.3"/>
</g>
<defs><clipPath id="clipb"><rect x="308.7" y="8.3" width="213.9" height="225.0"/></clipPath></defs>
<g clip-path="url(#clipb)">
<rect x="305.9" y="67.0" width="4.7" height="4.7" fill="none" stroke="#F0842C" stroke-width="1.0"/>
<rect x="308.9" y="68.1" width="4.7" height="4.7" fill="none" stroke="#F0842C" stroke-width="1.0"/>
<rect x="311.6" y="72.6" width="4.7" height="4.7" fill="none" stroke="#F0842C" stroke-width="1.0"/>
<rect x="314.1" y="72.4" width="4.7" height="4.7" fill="none" stroke="#F0842C" stroke-width="1.0"/>
<rect x="316.4" y="74.9" width="4.7" height="4.7" fill="none" stroke="#F0842C" stroke-width="1.0"/>
<rect x="318.6" y="75.9" width="4.7" height="4.7" fill="none" stroke="#F0842C" stroke-width="1.0"/>
<rect x="320.6" y="79.1" width="4.7" height="4.7" fill="none" stroke="#F0842C" stroke-width="1.0"/>
<rect x="322.6" y="79.8" width="4.7" height="4.7" fill="none" stroke="#F0842C" stroke-width="1.0"/>
<rect x="324.3" y="82.3" width="4.7" height="4.7" fill="none" stroke="#F0842C" stroke-width="1.0"/>
<rect x="326.0" y="83.5" width="4.7" height="4.7" fill="none" stroke="#F0842C" stroke-width="1.0"/>
<rect x="327.7" y="84.8" width="4.7" height="4.7" fill="none" stroke="#F0842C" stroke-width="1.0"/>
<rect x="329.2" y="87.7" width="4.7" height="4.7" fill="none" stroke="#F0842C" stroke-width="1.0"/>
<rect x="330.7" y="89.1" width="4.7" height="4.7" fill="none" stroke="#F0842C" stroke-width="1.0"/>
<rect x="332.1" y="89.7" width="4.7" height="4.7" fill="none" stroke="#F0842C" stroke-width="1.0"/>
<rect x="333.4" y="90.1" width="4.7" height="4.7" fill="none" stroke="#F0842C" stroke-width="1.0"/>
<rect x="334.7" y="91.3" width="4.7" height="4.7" fill="none" stroke="#F0842C" stroke-width="1.0"/>
<rect x="335.9" y="93.9" width="4.7" height="4.7" fill="none" stroke="#F0842C" stroke-width="1.0"/>
<rect x="337.1" y="97.2" width="4.7" height="4.7" fill="none" stroke="#F0842C" stroke-width="1.0"/>
<rect x="338.2" y="95.7" width="4.7" height="4.7" fill="none" stroke="#F0842C" stroke-width="1.0"/>
<rect x="339.3" y="96.6" width="4.7" height="4.7" fill="none" stroke="#F0842C" stroke-width="1.0"/>
<rect x="340.4" y="97.9" width="4.7" height="4.7" fill="none" stroke="#F0842C" stroke-width="1.0"/>
<rect x="341.4" y="98.7" width="4.7" height="4.7" fill="none" stroke="#F0842C" stroke-width="1.0"/>
<rect x="342.4" y="100.0" width="4.7" height="4.7" fill="none" stroke="#F0842C" stroke-width="1.0"/>
<rect x="343.4" y="101.9" width="4.7" height="4.7" fill="none" stroke="#F0842C" stroke-width="1.0"/>
<rect x="344.3" y="104.6" width="4.7" height="4.7" fill="none" stroke="#F0842C" stroke-width="1.0"/>
<rect x="345.3" y="104.3" width="4.7" height="4.7" fill="none" stroke="#F0842C" stroke-width="1.0"/>
<rect x="346.1" y="104.9" width="4.7" height="4.7" fill="none" stroke="#F0842C" stroke-width="1.0"/>
<rect x="347.0" y="104.8" width="4.7" height="4.7" fill="none" stroke="#F0842C" stroke-width="1.0"/>
<rect x="347.8" y="107.7" width="4.7" height="4.7" fill="none" stroke="#F0842C" stroke-width="1.0"/>
<rect x="348.7" y="108.4" width="4.7" height="4.7" fill="none" stroke="#F0842C" stroke-width="1.0"/>
<rect x="349.5" y="108.2" width="4.7" height="4.7" fill="none" stroke="#F0842C" stroke-width="1.0"/>
<rect x="350.2" y="109.3" width="4.7" height="4.7" fill="none" stroke="#F0842C" stroke-width="1.0"/>
<rect x="351.0" y="111.3" width="4.7" height="4.7" fill="none" stroke="#F0842C" stroke-width="1.0"/>
<rect x="351.7" y="113.3" width="4.7" height="4.7" fill="none" stroke="#F0842C" stroke-width="1.0"/>
<rect x="352.5" y="113.8" width="4.7" height="4.7" fill="none" stroke="#F0842C" stroke-width="1.0"/>
<rect x="353.2" y="114.2" width="4.7" height="4.7" fill="none" stroke="#F0842C" stroke-width="1.0"/>
<rect x="353.9" y="114.6" width="4.7" height="4.7" fill="none" stroke="#F0842C" stroke-width="1.0"/>
<rect x="354.5" y="116.0" width="4.7" height="4.7" fill="none" stroke="#F0842C" stroke-width="1.0"/>
<rect x="355.2" y="116.5" width="4.7" height="4.7" fill="none" stroke="#F0842C" stroke-width="1.0"/>
<rect x="355.8" y="119.5" width="4.7" height="4.7" fill="none" stroke="#F0842C" stroke-width="1.0"/>
<rect x="356.5" y="117.0" width="4.7" height="4.7" fill="none" stroke="#F0842C" stroke-width="1.0"/>
<rect x="357.1" y="118.5" width="4.7" height="4.7" fill="none" stroke="#F0842C" stroke-width="1.0"/>
<rect x="358.5" y="121.9" width="4.7" height="4.7" fill="none" stroke="#F0842C" stroke-width="1.0"/>
<rect x="359.9" y="122.0" width="4.7" height="4.7" fill="none" stroke="#F0842C" stroke-width="1.0"/>
<rect x="361.2" y="125.4" width="4.7" height="4.7" fill="none" stroke="#F0842C" stroke-width="1.0"/>
<rect x="362.6" y="125.6" width="4.7" height="4.7" fill="none" stroke="#F0842C" stroke-width="1.0"/>
<rect x="364.0" y="127.5" width="4.7" height="4.7" fill="none" stroke="#F0842C" stroke-width="1.0"/>
<rect x="365.4" y="128.7" width="4.7" height="4.7" fill="none" stroke="#F0842C" stroke-width="1.0"/>
<rect x="366.8" y="129.4" width="4.7" height="4.7" fill="none" stroke="#F0842C" stroke-width="1.0"/>
<rect x="368.2" y="131.5" width="4.7" height="4.7" fill="none" stroke="#F0842C" stroke-width="1.0"/>
<rect x="369.6" y="136.4" width="4.7" height="4.7" fill="none" stroke="#F0842C" stroke-width="1.0"/>
<rect x="370.9" y="136.6" width="4.7" height="4.7" fill="none" stroke="#F0842C" stroke-width="1.0"/>
<rect x="372.3" y="138.2" width="4.7" height="4.7" fill="none" stroke="#F0842C" stroke-width="1.0"/>
<rect x="373.7" y="140.3" width="4.7" height="4.7" fill="none" stroke="#F0842C" stroke-width="1.0"/>
<rect x="375.1" y="141.7" width="4.7" height="4.7" fill="none" stroke="#F0842C" stroke-width="1.0"/>
<rect x="376.5" y="143.9" width="4.7" height="4.7" fill="none" stroke="#F0842C" stroke-width="1.0"/>
<rect x="377.9" y="144.3" width="4.7" height="4.7" fill="none" stroke="#F0842C" stroke-width="1.0"/>
<rect x="379.2" y="146.1" width="4.7" height="4.7" fill="none" stroke="#F0842C" stroke-width="1.0"/>
<rect x="380.6" y="149.1" width="4.7" height="4.7" fill="none" stroke="#F0842C" stroke-width="1.0"/>
<rect x="382.0" y="149.5" width="4.7" height="4.7" fill="none" stroke="#F0842C" stroke-width="1.0"/>
<rect x="383.4" y="150.2" width="4.7" height="4.7" fill="none" stroke="#F0842C" stroke-width="1.0"/>
<rect x="384.8" y="153.1" width="4.7" height="4.7" fill="none" stroke="#F0842C" stroke-width="1.0"/>
<rect x="386.2" y="154.5" width="4.7" height="4.7" fill="none" stroke="#F0842C" stroke-width="1.0"/>
<rect x="387.5" y="157.5" width="4.7" height="4.7" fill="none" stroke="#F0842C" stroke-width="1.0"/>
<rect x="388.9" y="157.8" width="4.7" height="4.7" fill="none" stroke="#F0842C" stroke-width="1.0"/>
<rect x="390.3" y="159.2" width="4.7" height="4.7" fill="none" stroke="#F0842C" stroke-width="1.0"/>
<rect x="391.7" y="161.8" width="4.7" height="4.7" fill="none" stroke="#F0842C" stroke-width="1.0"/>
<rect x="393.1" y="165.7" width="4.7" height="4.7" fill="none" stroke="#F0842C" stroke-width="1.0"/>
<rect x="394.5" y="165.6" width="4.7" height="4.7" fill="none" stroke="#F0842C" stroke-width="1.0"/>
<rect x="395.8" y="167.6" width="4.7" height="4.7" fill="none" stroke="#F0842C" stroke-width="1.0"/>
<rect x="397.2" y="169.2" width="4.7" height="4.7" fill="none" stroke="#F0842C" stroke-width="1.0"/>
<rect x="398.6" y="171.5" width="4.7" height="4.7" fill="none" stroke="#F0842C" stroke-width="1.0"/>
<rect x="400.0" y="174.1" width="4.7" height="4.7" fill="none" stroke="#F0842C" stroke-width="1.0"/>
<rect x="401.4" y="176.6" width="4.7" height="4.7" fill="none" stroke="#F0842C" stroke-width="1.0"/>
<rect x="402.8" y="174.1" width="4.7" height="4.7" fill="none" stroke="#F0842C" stroke-width="1.0"/>
<rect x="404.2" y="180.0" width="4.7" height="4.7" fill="none" stroke="#F0842C" stroke-width="1.0"/>
<rect x="405.5" y="179.5" width="4.7" height="4.7" fill="none" stroke="#F0842C" stroke-width="1.0"/>
<rect x="406.9" y="180.6" width="4.7" height="4.7" fill="none" stroke="#F0842C" stroke-width="1.0"/>
<rect x="408.3" y="186.4" width="4.7" height="4.7" fill="none" stroke="#F0842C" stroke-width="1.0"/>
<rect x="409.7" y="183.8" width="4.7" height="4.7" fill="none" stroke="#F0842C" stroke-width="1.0"/>
<rect x="411.1" y="189.0" width="4.7" height="4.7" fill="none" stroke="#F0842C" stroke-width="1.0"/>
<rect x="412.5" y="188.7" width="4.7" height="4.7" fill="none" stroke="#F0842C" stroke-width="1.0"/>
<rect x="413.8" y="186.0" width="4.7" height="4.7" fill="none" stroke="#F0842C" stroke-width="1.0"/>
<rect x="415.2" y="190.3" width="4.7" height="4.7" fill="none" stroke="#F0842C" stroke-width="1.0"/>
<rect x="416.6" y="192.0" width="4.7" height="4.7" fill="none" stroke="#F0842C" stroke-width="1.0"/>
<rect x="418.0" y="190.8" width="4.7" height="4.7" fill="none" stroke="#F0842C" stroke-width="1.0"/>
<rect x="419.4" y="186.0" width="4.7" height="4.7" fill="none" stroke="#F0842C" stroke-width="1.0"/>
<rect x="420.8" y="191.7" width="4.7" height="4.7" fill="none" stroke="#F0842C" stroke-width="1.0"/>
<rect x="422.1" y="192.8" width="4.7" height="4.7" fill="none" stroke="#F0842C" stroke-width="1.0"/>
<rect x="423.5" y="190.8" width="4.7" height="4.7" fill="none" stroke="#F0842C" stroke-width="1.0"/>
<rect x="424.9" y="200.1" width="4.7" height="4.7" fill="none" stroke="#F0842C" stroke-width="1.0"/>
<rect x="426.3" y="194.5" width="4.7" height="4.7" fill="none" stroke="#F0842C" stroke-width="1.0"/>
<rect x="427.7" y="194.7" width="4.7" height="4.7" fill="none" stroke="#F0842C" stroke-width="1.0"/>
<rect x="429.1" y="195.5" width="4.7" height="4.7" fill="none" stroke="#F0842C" stroke-width="1.0"/>
<rect x="436.1" y="196.6" width="4.7" height="4.7" fill="none" stroke="#F0842C" stroke-width="1.0"/>
<rect x="443.1" y="199.2" width="4.7" height="4.7" fill="none" stroke="#F0842C" stroke-width="1.0"/>
<rect x="450.1" y="204.8" width="4.7" height="4.7" fill="none" stroke="#F0842C" stroke-width="1.0"/>
<rect x="457.1" y="208.2" width="4.7" height="4.7" fill="none" stroke="#F0842C" stroke-width="1.0"/>
<rect x="464.1" y="207.9" width="4.7" height="4.7" fill="none" stroke="#F0842C" stroke-width="1.0"/>
<rect x="471.2" y="211.7" width="4.7" height="4.7" fill="none" stroke="#F0842C" stroke-width="1.0"/>
<rect x="478.2" y="208.9" width="4.7" height="4.7" fill="none" stroke="#F0842C" stroke-width="1.0"/>
<rect x="485.2" y="217.7" width="4.7" height="4.7" fill="none" stroke="#F0842C" stroke-width="1.0"/>
<rect x="492.2" y="214.6" width="4.7" height="4.7" fill="none" stroke="#F0842C" stroke-width="1.0"/>
<rect x="499.2" y="219.8" width="4.7" height="4.7" fill="none" stroke="#F0842C" stroke-width="1.0"/>
<rect x="506.2" y="217.0" width="4.7" height="4.7" fill="none" stroke="#F0842C" stroke-width="1.0"/>
<rect x="513.3" y="220.0" width="4.7" height="4.7" fill="none" stroke="#F0842C" stroke-width="1.0"/>
<rect x="520.3" y="224.4" width="4.7" height="4.7" fill="none" stroke="#F0842C" stroke-width="1.0"/>
<circle cx="308.2" cy="57.0" r="2.6" fill="none" stroke="#7B5CB8" stroke-width="1.0"/>
<circle cx="311.2" cy="68.1" r="2.6" fill="none" stroke="#7B5CB8" stroke-width="1.0"/>
<circle cx="313.9" cy="64.0" r="2.6" fill="none" stroke="#7B5CB8" stroke-width="1.0"/>
<circle cx="316.4" cy="65.9" r="2.6" fill="none" stroke="#7B5CB8" stroke-width="1.0"/>
<circle cx="318.8" cy="66.1" r="2.6" fill="none" stroke="#7B5CB8" stroke-width="1.0"/>
<circle cx="320.9" cy="73.7" r="2.6" fill="none" stroke="#7B5CB8" stroke-width="1.0"/>
<circle cx="323.0" cy="74.7" r="2.6" fill="none" stroke="#7B5CB8" stroke-width="1.0"/>
<circle cx="324.9" cy="73.5" r="2.6" fill="none" stroke="#7B5CB8" stroke-width="1.0"/>
<circle cx="326.7" cy="70.8" r="2.6" fill="none" stroke="#7B5CB8" stroke-width="1.0"/>
<circle cx="328.4" cy="74.3" r="2.6" fill="none" stroke="#7B5CB8" stroke-width="1.0"/>
<circle cx="330.0" cy="78.3" r="2.6" fill="none" stroke="#7B5CB8" stroke-width="1.0"/>
<circle cx="331.5" cy="76.6" r="2.6" fill="none" stroke="#7B5CB8" stroke-width="1.0"/>
<circle cx="333.0" cy="76.1" r="2.6" fill="none" stroke="#7B5CB8" stroke-width="1.0"/>
<circle cx="334.4" cy="77.1" r="2.6" fill="none" stroke="#7B5CB8" stroke-width="1.0"/>
<circle cx="335.7" cy="79.1" r="2.6" fill="none" stroke="#7B5CB8" stroke-width="1.0"/>
<circle cx="337.0" cy="82.0" r="2.6" fill="none" stroke="#7B5CB8" stroke-width="1.0"/>
<circle cx="338.2" cy="81.2" r="2.6" fill="none" stroke="#7B5CB8" stroke-width="1.0"/>
<circle cx="339.4" cy="83.7" r="2.6" fill="none" stroke="#7B5CB8" stroke-width="1.0"/>
<circle cx="340.6" cy="91.5" r="2.6" fill="none" stroke="#7B5CB8" stroke-width="1.0"/>
<circle cx="341.7" cy="89.7" r="2.6" fill="none" stroke="#7B5CB8" stroke-width="1.0"/>
<circle cx="342.7" cy="83.4" r="2.6" fill="none" stroke="#7B5CB8" stroke-width="1.0"/>
<circle cx="343.8" cy="87.6" r="2.6" fill="none" stroke="#7B5CB8" stroke-width="1.0"/>
<circle cx="344.8" cy="87.7" r="2.6" fill="none" stroke="#7B5CB8" stroke-width="1.0"/>
<circle cx="345.7" cy="87.8" r="2.6" fill="none" stroke="#7B5CB8" stroke-width="1.0"/>
<circle cx="346.7" cy="91.4" r="2.6" fill="none" stroke="#7B5CB8" stroke-width="1.0"/>
<circle cx="347.6" cy="88.6" r="2.6" fill="none" stroke="#7B5CB8" stroke-width="1.0"/>
<circle cx="348.5" cy="89.3" r="2.6" fill="none" stroke="#7B5CB8" stroke-width="1.0"/>
<circle cx="349.3" cy="89.8" r="2.6" fill="none" stroke="#7B5CB8" stroke-width="1.0"/>
<circle cx="350.2" cy="91.1" r="2.6" fill="none" stroke="#7B5CB8" stroke-width="1.0"/>
<circle cx="351.0" cy="95.2" r="2.6" fill="none" stroke="#7B5CB8" stroke-width="1.0"/>
<circle cx="351.8" cy="94.5" r="2.6" fill="none" stroke="#7B5CB8" stroke-width="1.0"/>
<circle cx="352.6" cy="89.9" r="2.6" fill="none" stroke="#7B5CB8" stroke-width="1.0"/>
<circle cx="353.3" cy="92.7" r="2.6" fill="none" stroke="#7B5CB8" stroke-width="1.0"/>
<circle cx="354.1" cy="92.5" r="2.6" fill="none" stroke="#7B5CB8" stroke-width="1.0"/>
<circle cx="354.8" cy="97.0" r="2.6" fill="none" stroke="#7B5CB8" stroke-width="1.0"/>
<circle cx="355.5" cy="96.2" r="2.6" fill="none" stroke="#7B5CB8" stroke-width="1.0"/>
<circle cx="356.2" cy="98.4" r="2.6" fill="none" stroke="#7B5CB8" stroke-width="1.0"/>
<circle cx="356.9" cy="96.7" r="2.6" fill="none" stroke="#7B5CB8" stroke-width="1.0"/>
<circle cx="357.5" cy="92.8" r="2.6" fill="none" stroke="#7B5CB8" stroke-width="1.0"/>
<circle cx="358.2" cy="99.1" r="2.6" fill="none" stroke="#7B5CB8" stroke-width="1.0"/>
<circle cx="358.8" cy="99.2" r="2.6" fill="none" stroke="#7B5CB8" stroke-width="1.0"/>
<circle cx="359.4" cy="100.5" r="2.6" fill="none" stroke="#7B5CB8" stroke-width="1.0"/>
<circle cx="360.8" cy="97.6" r="2.6" fill="none" stroke="#7B5CB8" stroke-width="1.0"/>
<circle cx="362.2" cy="102.3" r="2.6" fill="none" stroke="#7B5CB8" stroke-width="1.0"/>
<circle cx="363.6" cy="102.0" r="2.6" fill="none" stroke="#7B5CB8" stroke-width="1.0"/>
<circle cx="365.0" cy="103.5" r="2.6" fill="none" stroke="#7B5CB8" stroke-width="1.0"/>
<circle cx="366.3" cy="107.3" r="2.6" fill="none" stroke="#7B5CB8" stroke-width="1.0"/>
<circle cx="367.7" cy="108.8" r="2.6" fill="none" stroke="#7B5CB8" stroke-width="1.0"/>
<circle cx="369.1" cy="107.6" r="2.6" fill="none" stroke="#7B5CB8" stroke-width="1.0"/>
<circle cx="370.5" cy="107.4" r="2.6" fill="none" stroke="#7B5CB8" stroke-width="1.0"/>
<circle cx="371.9" cy="107.3" r="2.6" fill="none" stroke="#7B5CB8" stroke-width="1.0"/>
<circle cx="373.3" cy="112.6" r="2.6" fill="none" stroke="#7B5CB8" stroke-width="1.0"/>
<circle cx="374.6" cy="117.2" r="2.6" fill="none" stroke="#7B5CB8" stroke-width="1.0"/>
<circle cx="376.0" cy="116.2" r="2.6" fill="none" stroke="#7B5CB8" stroke-width="1.0"/>
<circle cx="377.4" cy="113.4" r="2.6" fill="none" stroke="#7B5CB8" stroke-width="1.0"/>
<circle cx="378.8" cy="117.2" r="2.6" fill="none" stroke="#7B5CB8" stroke-width="1.0"/>
<circle cx="380.2" cy="120.6" r="2.6" fill="none" stroke="#7B5CB8" stroke-width="1.0"/>
<circle cx="381.6" cy="123.8" r="2.6" fill="none" stroke="#7B5CB8" stroke-width="1.0"/>
<circle cx="383.0" cy="124.1" r="2.6" fill="none" stroke="#7B5CB8" stroke-width="1.0"/>
<circle cx="384.3" cy="124.1" r="2.6" fill="none" stroke="#7B5CB8" stroke-width="1.0"/>
<circle cx="385.7" cy="125.1" r="2.6" fill="none" stroke="#7B5CB8" stroke-width="1.0"/>
<circle cx="387.1" cy="124.7" r="2.6" fill="none" stroke="#7B5CB8" stroke-width="1.0"/>
<circle cx="388.5" cy="126.9" r="2.6" fill="none" stroke="#7B5CB8" stroke-width="1.0"/>
<circle cx="389.9" cy="128.4" r="2.6" fill="none" stroke="#7B5CB8" stroke-width="1.0"/>
<circle cx="391.3" cy="129.3" r="2.6" fill="none" stroke="#7B5CB8" stroke-width="1.0"/>
<circle cx="392.6" cy="131.9" r="2.6" fill="none" stroke="#7B5CB8" stroke-width="1.0"/>
<circle cx="394.0" cy="132.9" r="2.6" fill="none" stroke="#7B5CB8" stroke-width="1.0"/>
<circle cx="395.4" cy="135.6" r="2.6" fill="none" stroke="#7B5CB8" stroke-width="1.0"/>
<circle cx="396.8" cy="138.8" r="2.6" fill="none" stroke="#7B5CB8" stroke-width="1.0"/>
<circle cx="398.2" cy="139.8" r="2.6" fill="none" stroke="#7B5CB8" stroke-width="1.0"/>
<circle cx="399.6" cy="141.7" r="2.6" fill="none" stroke="#7B5CB8" stroke-width="1.0"/>
<circle cx="400.9" cy="143.6" r="2.6" fill="none" stroke="#7B5CB8" stroke-width="1.0"/>
<circle cx="402.3" cy="144.8" r="2.6" fill="none" stroke="#7B5CB8" stroke-width="1.0"/>
<circle cx="403.7" cy="149.6" r="2.6" fill="none" stroke="#7B5CB8" stroke-width="1.0"/>
<circle cx="405.1" cy="153.2" r="2.6" fill="none" stroke="#7B5CB8" stroke-width="1.0"/>
<circle cx="406.5" cy="153.5" r="2.6" fill="none" stroke="#7B5CB8" stroke-width="1.0"/>
<circle cx="407.9" cy="158.8" r="2.6" fill="none" stroke="#7B5CB8" stroke-width="1.0"/>
<circle cx="409.2" cy="158.8" r="2.6" fill="none" stroke="#7B5CB8" stroke-width="1.0"/>
<circle cx="410.6" cy="161.9" r="2.6" fill="none" stroke="#7B5CB8" stroke-width="1.0"/>
<circle cx="412.0" cy="162.9" r="2.6" fill="none" stroke="#7B5CB8" stroke-width="1.0"/>
<circle cx="413.4" cy="163.5" r="2.6" fill="none" stroke="#7B5CB8" stroke-width="1.0"/>
<circle cx="414.8" cy="170.2" r="2.6" fill="none" stroke="#7B5CB8" stroke-width="1.0"/>
<circle cx="416.2" cy="167.3" r="2.6" fill="none" stroke="#7B5CB8" stroke-width="1.0"/>
<circle cx="417.6" cy="172.1" r="2.6" fill="none" stroke="#7B5CB8" stroke-width="1.0"/>
<circle cx="418.9" cy="171.6" r="2.6" fill="none" stroke="#7B5CB8" stroke-width="1.0"/>
<circle cx="420.3" cy="174.5" r="2.6" fill="none" stroke="#7B5CB8" stroke-width="1.0"/>
<circle cx="421.7" cy="174.4" r="2.6" fill="none" stroke="#7B5CB8" stroke-width="1.0"/>
<circle cx="423.1" cy="176.6" r="2.6" fill="none" stroke="#7B5CB8" stroke-width="1.0"/>
<circle cx="424.5" cy="180.4" r="2.6" fill="none" stroke="#7B5CB8" stroke-width="1.0"/>
<circle cx="425.9" cy="183.8" r="2.6" fill="none" stroke="#7B5CB8" stroke-width="1.0"/>
<circle cx="427.2" cy="180.4" r="2.6" fill="none" stroke="#7B5CB8" stroke-width="1.0"/>
<circle cx="428.6" cy="183.4" r="2.6" fill="none" stroke="#7B5CB8" stroke-width="1.0"/>
<circle cx="430.0" cy="186.7" r="2.6" fill="none" stroke="#7B5CB8" stroke-width="1.0"/>
<circle cx="431.4" cy="185.0" r="2.6" fill="none" stroke="#7B5CB8" stroke-width="1.0"/>
<circle cx="438.4" cy="194.7" r="2.6" fill="none" stroke="#7B5CB8" stroke-width="1.0"/>
<circle cx="445.4" cy="196.0" r="2.6" fill="none" stroke="#7B5CB8" stroke-width="1.0"/>
<circle cx="452.4" cy="205.0" r="2.6" fill="none" stroke="#7B5CB8" stroke-width="1.0"/>
<circle cx="459.5" cy="208.9" r="2.6" fill="none" stroke="#7B5CB8" stroke-width="1.0"/>
<circle cx="466.5" cy="215.4" r="2.6" fill="none" stroke="#7B5CB8" stroke-width="1.0"/>
<circle cx="473.5" cy="215.9" r="2.6" fill="none" stroke="#7B5CB8" stroke-width="1.0"/>
<circle cx="480.5" cy="213.0" r="2.6" fill="none" stroke="#7B5CB8" stroke-width="1.0"/>
<circle cx="487.5" cy="221.6" r="2.6" fill="none" stroke="#7B5CB8" stroke-width="1.0"/>
<circle cx="494.5" cy="217.1" r="2.6" fill="none" stroke="#7B5CB8" stroke-width="1.0"/>
<circle cx="501.6" cy="225.7" r="2.6" fill="none" stroke="#7B5CB8" stroke-width="1.0"/>
<circle cx="508.6" cy="230.3" r="2.6" fill="none" stroke="#7B5CB8" stroke-width="1.0"/>
<circle cx="515.6" cy="228.5" r="2.6" fill="none" stroke="#7B5CB8" stroke-width="1.0"/>
<circle cx="522.6" cy="225.7" r="2.6" fill="none" stroke="#7B5CB8" stroke-width="1.0"/>
<path d="M308.2 59.6L311.9 65.7H304.4Z" fill="none" stroke="#4DBE74" stroke-width="1.0"/>
<path d="M311.2 57.5L314.9 63.5H307.4Z" fill="none" stroke="#4DBE74" stroke-width="1.0"/>
<path d="M313.9 54.3L317.7 60.3H310.2Z" fill="none" stroke="#4DBE74" stroke-width="1.0"/>
<path d="M316.4 57.8L320.2 63.9H312.7Z" fill="none" stroke="#4DBE74" stroke-width="1.0"/>
<path d="M318.8 64.0L322.5 70.0H315.0Z" fill="none" stroke="#4DBE74" stroke-width="1.0"/>
<path d="M320.9 59.6L324.7 65.6H317.2Z" fill="none" stroke="#4DBE74" stroke-width="1.0"/>
<path d="M323.0 61.5L326.7 67.6H319.2Z" fill="none" stroke="#4DBE74" stroke-width="1.0"/>
<path d="M324.9 60.8L328.6 66.8H321.1Z" fill="none" stroke="#4DBE74" stroke-width="1.0"/>
<path d="M326.7 57.4L330.4 63.4H322.9Z" fill="none" stroke="#4DBE74" stroke-width="1.0"/>
<path d="M328.4 61.5L332.1 67.6H324.6Z" fill="none" stroke="#4DBE74" stroke-width="1.0"/>
<path d="M330.0 64.7L333.7 70.7H326.2Z" fill="none" stroke="#4DBE74" stroke-width="1.0"/>
<path d="M331.5 64.8L335.3 70.9H327.8Z" fill="none" stroke="#4DBE74" stroke-width="1.0"/>
<path d="M333.0 64.2L336.7 70.3H329.2Z" fill="none" stroke="#4DBE74" stroke-width="1.0"/>
<path d="M334.4 58.9L338.1 64.9H330.6Z" fill="none" stroke="#4DBE74" stroke-width="1.0"/>
<path d="M335.7 69.5L339.5 75.5H332.0Z" fill="none" stroke="#4DBE74" stroke-width="1.0"/>
<path d="M337.0 68.5L340.8 74.5H333.3Z" fill="none" stroke="#4DBE74" stroke-width="1.0"/>
<path d="M338.2 69.9L342.0 75.9H334.5Z" fill="none" stroke="#4DBE74" stroke-width="1.0"/>
<path d="M339.4 71.2L343.2 77.2H335.7Z" fill="none" stroke="#4DBE74" stroke-width="1.0"/>
<path d="M340.6 66.5L344.3 72.5H336.8Z" fill="none" stroke="#4DBE74" stroke-width="1.0"/>
<path d="M341.7 66.5L345.4 72.5H337.9Z" fill="none" stroke="#4DBE74" stroke-width="1.0"/>
<path d="M342.7 69.7L346.5 75.7H339.0Z" fill="none" stroke="#4DBE74" stroke-width="1.0"/>
<path d="M343.8 74.2L347.5 80.3H340.0Z" fill="none" stroke="#4DBE74" stroke-width="1.0"/>
<path d="M344.8 64.6L348.5 70.7H341.0Z" fill="none" stroke="#4DBE74" stroke-width="1.0"/>
<path d="M345.7 69.5L349.5 75.5H342.0Z" fill="none" stroke="#4DBE74" stroke-width="1.0"/>
<path d="M346.7 68.5L350.4 74.5H342.9Z" fill="none" stroke="#4DBE74" stroke-width="1.0"/>
<path d="M347.6 72.8L351.3 78.8H343.8Z" fill="none" stroke="#4DBE74" stroke-width="1.0"/>
<path d="M348.5 75.9L352.2 82.0H344.7Z" fill="none" stroke="#4DBE74" stroke-width="1.0"/>
<path d="M349.3 71.1L353.1 77.2H345.6Z" fill="none" stroke="#4DBE74" stroke-width="1.0"/>
<path d="M350.2 68.7L353.9 74.8H346.4Z" fill="none" stroke="#4DBE74" stroke-width="1.0"/>
<path d="M351.0 73.1L354.7 79.1H347.2Z" fill="none" stroke="#4DBE74" stroke-width="1.0"/>
<path d="M351.8 72.5L355.5 78.6H348.0Z" fill="none" stroke="#4DBE74" stroke-width="1.0"/>
<path d="M352.6 69.2L356.3 75.2H348.8Z" fill="none" stroke="#4DBE74" stroke-width="1.0"/>
<path d="M353.3 76.9L357.1 83.0H349.6Z" fill="none" stroke="#4DBE74" stroke-width="1.0"/>
<path d="M354.1 73.2L357.8 79.2H350.3Z" fill="none" stroke="#4DBE74" stroke-width="1.0"/>
<path d="M354.8 77.3L358.5 83.3H351.0Z" fill="none" stroke="#4DBE74" stroke-width="1.0"/>
<path d="M355.5 71.7L359.2 77.8H351.7Z" fill="none" stroke="#4DBE74" stroke-width="1.0"/>
<path d="M356.2 79.4L359.9 85.5H352.4Z" fill="none" stroke="#4DBE74" stroke-width="1.0"/>
<path d="M356.9 72.3L360.6 78.3H353.1Z" fill="none" stroke="#4DBE74" stroke-width="1.0"/>
<path d="M357.5 80.2L361.3 86.3H353.8Z" fill="none" stroke="#4DBE74" stroke-width="1.0"/>
<path d="M358.2 72.1L361.9 78.1H354.4Z" fill="none" stroke="#4DBE74" stroke-width="1.0"/>
<path d="M358.8 82.1L362.6 88.2H355.1Z" fill="none" stroke="#4DBE74" stroke-width="1.0"/>
<path d="M359.4 77.3L363.2 83.3H355.7Z" fill="none" stroke="#4DBE74" stroke-width="1.0"/>
<path d="M360.8 74.8L364.6 80.8H357.1Z" fill="none" stroke="#4DBE74" stroke-width="1.0"/>
<path d="M362.2 79.8L365.9 85.9H358.4Z" fill="none" stroke="#4DBE74" stroke-width="1.0"/>
<path d="M363.6 82.6L367.3 88.7H359.8Z" fill="none" stroke="#4DBE74" stroke-width="1.0"/>
<path d="M365.0 79.8L368.7 85.8H361.2Z" fill="none" stroke="#4DBE74" stroke-width="1.0"/>
<path d="M366.3 82.4L370.1 88.5H362.6Z" fill="none" stroke="#4DBE74" stroke-width="1.0"/>
<path d="M367.7 85.9L371.5 91.9H364.0Z" fill="none" stroke="#4DBE74" stroke-width="1.0"/>
<path d="M369.1 85.8L372.9 91.8H365.4Z" fill="none" stroke="#4DBE74" stroke-width="1.0"/>
<path d="M370.5 78.3L374.2 84.3H366.7Z" fill="none" stroke="#4DBE74" stroke-width="1.0"/>
<path d="M371.9 87.4L375.6 93.5H368.1Z" fill="none" stroke="#4DBE74" stroke-width="1.0"/>
<path d="M373.3 91.2L377.0 97.3H369.5Z" fill="none" stroke="#4DBE74" stroke-width="1.0"/>
<path d="M374.6 92.1L378.4 98.1H370.9Z" fill="none" stroke="#4DBE74" stroke-width="1.0"/>
<path d="M376.0 95.4L379.8 101.5H372.3Z" fill="none" stroke="#4DBE74" stroke-width="1.0"/>
<path d="M377.4 91.6L381.2 97.6H373.7Z" fill="none" stroke="#4DBE74" stroke-width="1.0"/>
<path d="M378.8 102.6L382.5 108.6H375.0Z" fill="none" stroke="#4DBE74" stroke-width="1.0"/>
<path d="M380.2 98.6L383.9 104.6H376.4Z" fill="none" stroke="#4DBE74" stroke-width="1.0"/>
<path d="M381.6 98.4L385.3 104.4H377.8Z" fill="none" stroke="#4DBE74" stroke-width="1.0"/>
<path d="M383.0 102.0L386.7 108.0H379.2Z" fill="none" stroke="#4DBE74" stroke-width="1.0"/>
<path d="M384.3 102.9L388.1 108.9H380.6Z" fill="none" stroke="#4DBE74" stroke-width="1.0"/>
<path d="M385.7 101.6L389.5 107.7H382.0Z" fill="none" stroke="#4DBE74" stroke-width="1.0"/>
<path d="M387.1 100.8L390.9 106.8H383.4Z" fill="none" stroke="#4DBE74" stroke-width="1.0"/>
<path d="M388.5 107.0L392.2 113.0H384.7Z" fill="none" stroke="#4DBE74" stroke-width="1.0"/>
<path d="M389.9 106.5L393.6 112.6H386.1Z" fill="none" stroke="#4DBE74" stroke-width="1.0"/>
<path d="M391.3 100.9L395.0 106.9H387.5Z" fill="none" stroke="#4DBE74" stroke-width="1.0"/>
<path d="M392.6 104.6L396.4 110.6H388.9Z" fill="none" stroke="#4DBE74" stroke-width="1.0"/>
<path d="M394.0 110.6L397.8 116.7H390.3Z" fill="none" stroke="#4DBE74" stroke-width="1.0"/>
<path d="M395.4 110.9L399.2 116.9H391.7Z" fill="none" stroke="#4DBE74" stroke-width="1.0"/>
<path d="M396.8 112.8L400.5 118.8H393.0Z" fill="none" stroke="#4DBE74" stroke-width="1.0"/>
<path d="M398.2 115.3L401.9 121.3H394.4Z" fill="none" stroke="#4DBE74" stroke-width="1.0"/>
<path d="M399.6 115.3L403.3 121.3H395.8Z" fill="none" stroke="#4DBE74" stroke-width="1.0"/>
<path d="M400.9 121.2L404.7 127.2H397.2Z" fill="none" stroke="#4DBE74" stroke-width="1.0"/>
<path d="M402.3 116.2L406.1 122.3H398.6Z" fill="none" stroke="#4DBE74" stroke-width="1.0"/>
<path d="M403.7 118.4L407.5 124.5H400.0Z" fill="none" stroke="#4DBE74" stroke-width="1.0"/>
<path d="M405.1 122.3L408.8 128.3H401.3Z" fill="none" stroke="#4DBE74" stroke-width="1.0"/>
<path d="M406.5 125.3L410.2 131.3H402.7Z" fill="none" stroke="#4DBE74" stroke-width="1.0"/>
<path d="M407.9 127.2L411.6 133.2H404.1Z" fill="none" stroke="#4DBE74" stroke-width="1.0"/>
<path d="M409.2 131.1L413.0 137.1H405.5Z" fill="none" stroke="#4DBE74" stroke-width="1.0"/>
<path d="M410.6 127.0L414.4 133.1H406.9Z" fill="none" stroke="#4DBE74" stroke-width="1.0"/>
<path d="M412.0 133.8L415.8 139.9H408.3Z" fill="none" stroke="#4DBE74" stroke-width="1.0"/>
<path d="M413.4 133.6L417.1 139.6H409.6Z" fill="none" stroke="#4DBE74" stroke-width="1.0"/>
<path d="M414.8 131.0L418.5 137.0H411.0Z" fill="none" stroke="#4DBE74" stroke-width="1.0"/>
<path d="M416.2 135.6L419.9 141.6H412.4Z" fill="none" stroke="#4DBE74" stroke-width="1.0"/>
<path d="M417.6 144.2L421.3 150.2H413.8Z" fill="none" stroke="#4DBE74" stroke-width="1.0"/>
<path d="M418.9 142.2L422.7 148.2H415.2Z" fill="none" stroke="#4DBE74" stroke-width="1.0"/>
<path d="M420.3 140.4L424.1 146.4H416.6Z" fill="none" stroke="#4DBE74" stroke-width="1.0"/>
<path d="M421.7 136.6L425.5 142.6H418.0Z" fill="none" stroke="#4DBE74" stroke-width="1.0"/>
<path d="M423.1 143.6L426.8 149.6H419.3Z" fill="none" stroke="#4DBE74" stroke-width="1.0"/>
<path d="M424.5 145.7L428.2 151.8H420.7Z" fill="none" stroke="#4DBE74" stroke-width="1.0"/>
<path d="M425.9 150.1L429.6 156.2H422.1Z" fill="none" stroke="#4DBE74" stroke-width="1.0"/>
<path d="M427.2 158.9L431.0 165.0H423.5Z" fill="none" stroke="#4DBE74" stroke-width="1.0"/>
<path d="M428.6 156.4L432.4 162.4H424.9Z" fill="none" stroke="#4DBE74" stroke-width="1.0"/>
<path d="M430.0 157.2L433.8 163.3H426.3Z" fill="none" stroke="#4DBE74" stroke-width="1.0"/>
<path d="M431.4 155.6L435.1 161.7H427.6Z" fill="none" stroke="#4DBE74" stroke-width="1.0"/>
<path d="M438.4 166.8L442.2 172.9H434.7Z" fill="none" stroke="#4DBE74" stroke-width="1.0"/>
<path d="M445.4 180.7L449.2 186.7H441.7Z" fill="none" stroke="#4DBE74" stroke-width="1.0"/>
<path d="M452.4 187.9L456.2 194.0H448.7Z" fill="none" stroke="#4DBE74" stroke-width="1.0"/>
<path d="M459.5 204.7L463.2 210.7H455.7Z" fill="none" stroke="#4DBE74" stroke-width="1.0"/>
<path d="M466.5 197.8L470.2 203.9H462.7Z" fill="none" stroke="#4DBE74" stroke-width="1.0"/>
<path d="M473.5 200.6L477.2 206.6H469.7Z" fill="none" stroke="#4DBE74" stroke-width="1.0"/>
<path d="M480.5 210.2L484.3 216.3H476.8Z" fill="none" stroke="#4DBE74" stroke-width="1.0"/>
<path d="M487.5 209.8L491.3 215.8H483.8Z" fill="none" stroke="#4DBE74" stroke-width="1.0"/>
<path d="M494.5 207.8L498.3 213.9H490.8Z" fill="none" stroke="#4DBE74" stroke-width="1.0"/>
<path d="M501.6 219.6L505.3 225.7H497.8Z" fill="none" stroke="#4DBE74" stroke-width="1.0"/>
<path d="M508.6 216.1L512.3 222.1H504.8Z" fill="none" stroke="#4DBE74" stroke-width="1.0"/>
<path d="M515.6 214.6L519.3 220.6H511.8Z" fill="none" stroke="#4DBE74" stroke-width="1.0"/>
<path d="M522.6 223.8L526.4 229.9H518.9Z" fill="none" stroke="#4DBE74" stroke-width="1.0"/>
<path d="M308.2 65.4L311.9 59.4H304.4Z" fill="none" stroke="#3B6BAE" stroke-width="1.0"/>
<path d="M311.2 63.5L314.9 57.5H307.4Z" fill="none" stroke="#3B6BAE" stroke-width="1.0"/>
<path d="M313.9 67.2L317.7 61.1H310.2Z" fill="none" stroke="#3B6BAE" stroke-width="1.0"/>
<path d="M316.4 68.1L320.2 62.0H312.7Z" fill="none" stroke="#3B6BAE" stroke-width="1.0"/>
<path d="M318.8 63.4L322.5 57.4H315.0Z" fill="none" stroke="#3B6BAE" stroke-width="1.0"/>
<path d="M320.9 60.4L324.7 54.3H317.2Z" fill="none" stroke="#3B6BAE" stroke-width="1.0"/>
<path d="M323.0 59.8L326.7 53.7H319.2Z" fill="none" stroke="#3B6BAE" stroke-width="1.0"/>
<path d="M324.9 66.9L328.6 60.9H321.1Z" fill="none" stroke="#3B6BAE" stroke-width="1.0"/>
<path d="M326.7 71.4L330.4 65.3H322.9Z" fill="none" stroke="#3B6BAE" stroke-width="1.0"/>
<path d="M328.4 71.0L332.1 65.0H324.6Z" fill="none" stroke="#3B6BAE" stroke-width="1.0"/>
<path d="M330.0 72.5L333.7 66.5H326.2Z" fill="none" stroke="#3B6BAE" stroke-width="1.0"/>
<path d="M331.5 74.2L335.3 68.2H327.8Z" fill="none" stroke="#3B6BAE" stroke-width="1.0"/>
<path d="M333.0 69.0L336.7 63.0H329.2Z" fill="none" stroke="#3B6BAE" stroke-width="1.0"/>
<path d="M334.4 72.5L338.1 66.4H330.6Z" fill="none" stroke="#3B6BAE" stroke-width="1.0"/>
<path d="M335.7 65.0L339.5 59.0H332.0Z" fill="none" stroke="#3B6BAE" stroke-width="1.0"/>
<path d="M337.0 71.9L340.8 65.9H333.3Z" fill="none" stroke="#3B6BAE" stroke-width="1.0"/>
<path d="M338.2 71.3L342.0 65.3H334.5Z" fill="none" stroke="#3B6BAE" stroke-width="1.0"/>
<path d="M339.4 70.2L343.2 64.1H335.7Z" fill="none" stroke="#3B6BAE" stroke-width="1.0"/>
<path d="M340.6 69.4L344.3 63.4H336.8Z" fill="none" stroke="#3B6BAE" stroke-width="1.0"/>
<path d="M341.7 67.7L345.4 61.6H337.9Z" fill="none" stroke="#3B6BAE" stroke-width="1.0"/>
<path d="M342.7 71.7L346.5 65.7H339.0Z" fill="none" stroke="#3B6BAE" stroke-width="1.0"/>
<path d="M343.8 75.4L347.5 69.3H340.0Z" fill="none" stroke="#3B6BAE" stroke-width="1.0"/>
<path d="M344.8 70.7L348.5 64.7H341.0Z" fill="none" stroke="#3B6BAE" stroke-width="1.0"/>
<path d="M345.7 73.7L349.5 67.6H342.0Z" fill="none" stroke="#3B6BAE" stroke-width="1.0"/>
<path d="M346.7 70.4L350.4 64.3H342.9Z" fill="none" stroke="#3B6BAE" stroke-width="1.0"/>
<path d="M347.6 73.4L351.3 67.3H343.8Z" fill="none" stroke="#3B6BAE" stroke-width="1.0"/>
<path d="M348.5 69.9L352.2 63.8H344.7Z" fill="none" stroke="#3B6BAE" stroke-width="1.0"/>
<path d="M349.3 74.3L353.1 68.2H345.6Z" fill="none" stroke="#3B6BAE" stroke-width="1.0"/>
<path d="M350.2 72.7L353.9 66.7H346.4Z" fill="none" stroke="#3B6BAE" stroke-width="1.0"/>
<path d="M351.0 74.6L354.7 68.6H347.2Z" fill="none" stroke="#3B6BAE" stroke-width="1.0"/>
<path d="M351.8 72.1L355.5 66.0H348.0Z" fill="none" stroke="#3B6BAE" stroke-width="1.0"/>
<path d="M352.6 70.6L356.3 64.6H348.8Z" fill="none" stroke="#3B6BAE" stroke-width="1.0"/>
<path d="M353.3 73.4L357.1 67.4H349.6Z" fill="none" stroke="#3B6BAE" stroke-width="1.0"/>
<path d="M354.1 77.8L357.8 71.7H350.3Z" fill="none" stroke="#3B6BAE" stroke-width="1.0"/>
<path d="M354.8 79.7L358.5 73.6H351.0Z" fill="none" stroke="#3B6BAE" stroke-width="1.0"/>
<path d="M355.5 74.2L359.2 68.2H351.7Z" fill="none" stroke="#3B6BAE" stroke-width="1.0"/>
<path d="M356.2 77.8L359.9 71.8H352.4Z" fill="none" stroke="#3B6BAE" stroke-width="1.0"/>
<path d="M356.9 78.0L360.6 71.9H353.1Z" fill="none" stroke="#3B6BAE" stroke-width="1.0"/>
<path d="M357.5 77.1L361.3 71.1H353.8Z" fill="none" stroke="#3B6BAE" stroke-width="1.0"/>
<path d="M358.2 71.5L361.9 65.5H354.4Z" fill="none" stroke="#3B6BAE" stroke-width="1.0"/>
<path d="M358.8 77.4L362.6 71.4H355.1Z" fill="none" stroke="#3B6BAE" stroke-width="1.0"/>
<path d="M359.4 73.8L363.2 67.8H355.7Z" fill="none" stroke="#3B6BAE" stroke-width="1.0"/>
<path d="M360.8 80.8L364.6 74.8H357.1Z" fill="none" stroke="#3B6BAE" stroke-width="1.0"/>
<path d="M362.2 80.2L365.9 74.2H358.4Z" fill="none" stroke="#3B6BAE" stroke-width="1.0"/>
<path d="M363.6 80.4L367.3 74.3H359.8Z" fill="none" stroke="#3B6BAE" stroke-width="1.0"/>
<path d="M365.0 71.5L368.7 65.5H361.2Z" fill="none" stroke="#3B6BAE" stroke-width="1.0"/>
<path d="M366.3 81.7L370.1 75.6H362.6Z" fill="none" stroke="#3B6BAE" stroke-width="1.0"/>
<path d="M367.7 82.6L371.5 76.5H364.0Z" fill="none" stroke="#3B6BAE" stroke-width="1.0"/>
<path d="M369.1 77.3L372.9 71.3H365.4Z" fill="none" stroke="#3B6BAE" stroke-width="1.0"/>
<path d="M370.5 84.8L374.2 78.8H366.7Z" fill="none" stroke="#3B6BAE" stroke-width="1.0"/>
<path d="M371.9 82.8L375.6 76.8H368.1Z" fill="none" stroke="#3B6BAE" stroke-width="1.0"/>
<path d="M373.3 82.8L377.0 76.8H369.5Z" fill="none" stroke="#3B6BAE" stroke-width="1.0"/>
<path d="M374.6 82.0L378.4 75.9H370.9Z" fill="none" stroke="#3B6BAE" stroke-width="1.0"/>
<path d="M376.0 81.9L379.8 75.8H372.3Z" fill="none" stroke="#3B6BAE" stroke-width="1.0"/>
<path d="M377.4 84.4L381.2 78.4H373.7Z" fill="none" stroke="#3B6BAE" stroke-width="1.0"/>
<path d="M378.8 95.8L382.5 89.7H375.0Z" fill="none" stroke="#3B6BAE" stroke-width="1.0"/>
<path d="M380.2 87.9L383.9 81.9H376.4Z" fill="none" stroke="#3B6BAE" stroke-width="1.0"/>
<path d="M381.6 88.8L385.3 82.8H377.8Z" fill="none" stroke="#3B6BAE" stroke-width="1.0"/>
<path d="M383.0 87.1L386.7 81.0H379.2Z" fill="none" stroke="#3B6BAE" stroke-width="1.0"/>
<path d="M384.3 88.1L388.1 82.0H380.6Z" fill="none" stroke="#3B6BAE" stroke-width="1.0"/>
<path d="M385.7 89.1L389.5 83.1H382.0Z" fill="none" stroke="#3B6BAE" stroke-width="1.0"/>
<path d="M387.1 89.1L390.9 83.0H383.4Z" fill="none" stroke="#3B6BAE" stroke-width="1.0"/>
<path d="M388.5 95.3L392.2 89.2H384.7Z" fill="none" stroke="#3B6BAE" stroke-width="1.0"/>
<path d="M389.9 92.8L393.6 86.8H386.1Z" fill="none" stroke="#3B6BAE" stroke-width="1.0"/>
<path d="M391.3 97.2L395.0 91.2H387.5Z" fill="none" stroke="#3B6BAE" stroke-width="1.0"/>
<path d="M392.6 92.1L396.4 86.1H388.9Z" fill="none" stroke="#3B6BAE" stroke-width="1.0"/>
<path d="M394.0 99.4L397.8 93.4H390.3Z" fill="none" stroke="#3B6BAE" stroke-width="1.0"/>
<path d="M395.4 97.6L399.2 91.6H391.7Z" fill="none" stroke="#3B6BAE" stroke-width="1.0"/>
<path d="M396.8 100.8L400.5 94.8H393.0Z" fill="none" stroke="#3B6BAE" stroke-width="1.0"/>
<path d="M398.2 99.7L401.9 93.6H394.4Z" fill="none" stroke="#3B6BAE" stroke-width="1.0"/>
<path d="M399.6 98.5L403.3 92.4H395.8Z" fill="none" stroke="#3B6BAE" stroke-width="1.0"/>
<path d="M400.9 106.0L404.7 99.9H397.2Z" fill="none" stroke="#3B6BAE" stroke-width="1.0"/>
<path d="M402.3 102.3L406.1 96.3H398.6Z" fill="none" stroke="#3B6BAE" stroke-width="1.0"/>
<path d="M403.7 104.4L407.5 98.4H400.0Z" fill="none" stroke="#3B6BAE" stroke-width="1.0"/>
<path d="M405.1 103.6L408.8 97.5H401.3Z" fill="none" stroke="#3B6BAE" stroke-width="1.0"/>
<path d="M406.5 108.2L410.2 102.2H402.7Z" fill="none" stroke="#3B6BAE" stroke-width="1.0"/>
<path d="M407.9 107.8L411.6 101.8H404.1Z" fill="none" stroke="#3B6BAE" stroke-width="1.0"/>
<path d="M409.2 111.3L413.0 105.3H405.5Z" fill="none" stroke="#3B6BAE" stroke-width="1.0"/>
<path d="M410.6 113.0L414.4 107.0H406.9Z" fill="none" stroke="#3B6BAE" stroke-width="1.0"/>
<path d="M412.0 111.6L415.8 105.5H408.3Z" fill="none" stroke="#3B6BAE" stroke-width="1.0"/>
<path d="M413.4 111.2L417.1 105.2H409.6Z" fill="none" stroke="#3B6BAE" stroke-width="1.0"/>
<path d="M414.8 118.7L418.5 112.7H411.0Z" fill="none" stroke="#3B6BAE" stroke-width="1.0"/>
<path d="M416.2 122.2L419.9 116.2H412.4Z" fill="none" stroke="#3B6BAE" stroke-width="1.0"/>
<path d="M417.6 123.7L421.3 117.6H413.8Z" fill="none" stroke="#3B6BAE" stroke-width="1.0"/>
<path d="M418.9 120.4L422.7 114.3H415.2Z" fill="none" stroke="#3B6BAE" stroke-width="1.0"/>
<path d="M420.3 127.9L424.1 121.8H416.6Z" fill="none" stroke="#3B6BAE" stroke-width="1.0"/>
<path d="M421.7 129.4L425.5 123.4H418.0Z" fill="none" stroke="#3B6BAE" stroke-width="1.0"/>
<path d="M423.1 131.3L426.8 125.3H419.3Z" fill="none" stroke="#3B6BAE" stroke-width="1.0"/>
<path d="M424.5 133.9L428.2 127.9H420.7Z" fill="none" stroke="#3B6BAE" stroke-width="1.0"/>
<path d="M425.9 133.8L429.6 127.7H422.1Z" fill="none" stroke="#3B6BAE" stroke-width="1.0"/>
<path d="M427.2 137.4L431.0 131.4H423.5Z" fill="none" stroke="#3B6BAE" stroke-width="1.0"/>
<path d="M428.6 141.5L432.4 135.5H424.9Z" fill="none" stroke="#3B6BAE" stroke-width="1.0"/>
<path d="M430.0 139.3L433.8 133.2H426.3Z" fill="none" stroke="#3B6BAE" stroke-width="1.0"/>
<path d="M431.4 138.6L435.1 132.5H427.6Z" fill="none" stroke="#3B6BAE" stroke-width="1.0"/>
<path d="M438.4 153.1L442.2 147.1H434.7Z" fill="none" stroke="#3B6BAE" stroke-width="1.0"/>
<path d="M445.4 162.6L449.2 156.5H441.7Z" fill="none" stroke="#3B6BAE" stroke-width="1.0"/>
<path d="M452.4 164.7L456.2 158.6H448.7Z" fill="none" stroke="#3B6BAE" stroke-width="1.0"/>
<path d="M459.5 177.0L463.2 170.9H455.7Z" fill="none" stroke="#3B6BAE" stroke-width="1.0"/>
<path d="M466.5 190.1L470.2 184.0H462.7Z" fill="none" stroke="#3B6BAE" stroke-width="1.0"/>
<path d="M473.5 196.3L477.2 190.2H469.7Z" fill="none" stroke="#3B6BAE" stroke-width="1.0"/>
<path d="M480.5 204.7L484.3 198.7H476.8Z" fill="none" stroke="#3B6BAE" stroke-width="1.0"/>
<path d="M487.5 206.3L491.3 200.2H483.8Z" fill="none" stroke="#3B6BAE" stroke-width="1.0"/>
<path d="M494.5 218.8L498.3 212.7H490.8Z" fill="none" stroke="#3B6BAE" stroke-width="1.0"/>
<path d="M501.6 225.9L505.3 219.8H497.8Z" fill="none" stroke="#3B6BAE" stroke-width="1.0"/>
<path d="M508.6 222.0L512.3 215.9H504.8Z" fill="none" stroke="#3B6BAE" stroke-width="1.0"/>
<path d="M515.6 223.1L519.3 217.0H511.8Z" fill="none" stroke="#3B6BAE" stroke-width="1.0"/>
<path d="M522.6 224.7L526.4 218.7H518.9Z" fill="none" stroke="#3B6BAE" stroke-width="1.0"/>
<path d="M308.2 50.0L311.9 53.7L308.2 57.4L304.5 53.7Z" fill="none" stroke="#EC5AA8" stroke-width="1.0"/>
<path d="M311.2 48.4L314.9 52.1L311.2 55.8L307.5 52.1Z" fill="none" stroke="#EC5AA8" stroke-width="1.0"/>
<path d="M313.9 46.4L317.6 50.1L313.9 53.8L310.2 50.1Z" fill="none" stroke="#EC5AA8" stroke-width="1.0"/>
<path d="M316.4 51.8L320.2 55.6L316.4 59.3L312.7 55.6Z" fill="none" stroke="#EC5AA8" stroke-width="1.0"/>
<path d="M318.8 51.0L322.5 54.7L318.8 58.4L315.1 54.7Z" fill="none" stroke="#EC5AA8" stroke-width="1.0"/>
<path d="M320.9 50.8L324.7 54.5L320.9 58.2L317.2 54.5Z" fill="none" stroke="#EC5AA8" stroke-width="1.0"/>
<path d="M323.0 44.8L326.7 48.5L323.0 52.2L319.3 48.5Z" fill="none" stroke="#EC5AA8" stroke-width="1.0"/>
<path d="M324.9 49.4L328.6 53.1L324.9 56.8L321.2 53.1Z" fill="none" stroke="#EC5AA8" stroke-width="1.0"/>
<path d="M326.7 51.5L330.4 55.2L326.7 58.9L323.0 55.2Z" fill="none" stroke="#EC5AA8" stroke-width="1.0"/>
<path d="M328.4 46.7L332.1 50.4L328.4 54.1L324.7 50.4Z" fill="none" stroke="#EC5AA8" stroke-width="1.0"/>
<path d="M330.0 52.7L333.7 56.4L330.0 60.1L326.3 56.4Z" fill="none" stroke="#EC5AA8" stroke-width="1.0"/>
<path d="M331.5 54.3L335.2 58.0L331.5 61.7L327.8 58.0Z" fill="none" stroke="#EC5AA8" stroke-width="1.0"/>
<path d="M333.0 53.4L336.7 57.1L333.0 60.8L329.3 57.1Z" fill="none" stroke="#EC5AA8" stroke-width="1.0"/>
<path d="M334.4 48.7L338.1 52.4L334.4 56.1L330.7 52.4Z" fill="none" stroke="#EC5AA8" stroke-width="1.0"/>
<path d="M335.7 48.9L339.4 52.6L335.7 56.3L332.0 52.6Z" fill="none" stroke="#EC5AA8" stroke-width="1.0"/>
<path d="M337.0 53.6L340.7 57.4L337.0 61.1L333.3 57.4Z" fill="none" stroke="#EC5AA8" stroke-width="1.0"/>
<path d="M338.2 54.0L342.0 57.7L338.2 61.4L334.5 57.7Z" fill="none" stroke="#EC5AA8" stroke-width="1.0"/>
<path d="M339.4 54.8L343.1 58.5L339.4 62.2L335.7 58.5Z" fill="none" stroke="#EC5AA8" stroke-width="1.0"/>
<path d="M340.6 54.9L344.3 58.6L340.6 62.3L336.9 58.6Z" fill="none" stroke="#EC5AA8" stroke-width="1.0"/>
<path d="M341.7 51.3L345.4 55.1L341.7 58.8L338.0 55.1Z" fill="none" stroke="#EC5AA8" stroke-width="1.0"/>
<path d="M342.7 50.6L346.5 54.3L342.7 58.0L339.0 54.3Z" fill="none" stroke="#EC5AA8" stroke-width="1.0"/>
<path d="M343.8 46.6L347.5 50.3L343.8 54.0L340.1 50.3Z" fill="none" stroke="#EC5AA8" stroke-width="1.0"/>
<path d="M344.8 54.3L348.5 58.0L344.8 61.8L341.1 58.0Z" fill="none" stroke="#EC5AA8" stroke-width="1.0"/>
<path d="M345.7 58.8L349.4 62.5L345.7 66.2L342.0 62.5Z" fill="none" stroke="#EC5AA8" stroke-width="1.0"/>
<path d="M346.7 51.0L350.4 54.7L346.7 58.5L343.0 54.7Z" fill="none" stroke="#EC5AA8" stroke-width="1.0"/>
<path d="M347.6 51.1L351.3 54.9L347.6 58.6L343.9 54.9Z" fill="none" stroke="#EC5AA8" stroke-width="1.0"/>
<path d="M348.5 54.6L352.2 58.3L348.5 62.0L344.8 58.3Z" fill="none" stroke="#EC5AA8" stroke-width="1.0"/>
<path d="M349.3 53.9L353.0 57.6L349.3 61.3L345.6 57.6Z" fill="none" stroke="#EC5AA8" stroke-width="1.0"/>
<path d="M350.2 49.0L353.9 52.7L350.2 56.4L346.5 52.7Z" fill="none" stroke="#EC5AA8" stroke-width="1.0"/>
<path d="M351.0 51.0L354.7 54.7L351.0 58.4L347.3 54.7Z" fill="none" stroke="#EC5AA8" stroke-width="1.0"/>
<path d="M351.8 50.0L355.5 53.7L351.8 57.5L348.1 53.7Z" fill="none" stroke="#EC5AA8" stroke-width="1.0"/>
<path d="M352.6 59.3L356.3 63.1L352.6 66.8L348.8 63.1Z" fill="none" stroke="#EC5AA8" stroke-width="1.0"/>
<path d="M353.3 51.4L357.0 55.1L353.3 58.9L349.6 55.1Z" fill="none" stroke="#EC5AA8" stroke-width="1.0"/>
<path d="M354.1 56.2L357.8 59.9L354.1 63.6L350.3 59.9Z" fill="none" stroke="#EC5AA8" stroke-width="1.0"/>
<path d="M354.8 59.5L358.5 63.2L354.8 66.9L351.1 63.2Z" fill="none" stroke="#EC5AA8" stroke-width="1.0"/>
<path d="M355.5 59.6L359.2 63.3L355.5 67.0L351.8 63.3Z" fill="none" stroke="#EC5AA8" stroke-width="1.0"/>
<path d="M356.2 58.4L359.9 62.1L356.2 65.8L352.5 62.1Z" fill="none" stroke="#EC5AA8" stroke-width="1.0"/>
<path d="M356.9 59.1L360.6 62.8L356.9 66.5L353.1 62.8Z" fill="none" stroke="#EC5AA8" stroke-width="1.0"/>
<path d="M357.5 50.8L361.2 54.5L357.5 58.2L353.8 54.5Z" fill="none" stroke="#EC5AA8" stroke-width="1.0"/>
<path d="M358.2 53.6L361.9 57.3L358.2 61.0L354.5 57.3Z" fill="none" stroke="#EC5AA8" stroke-width="1.0"/>
<path d="M358.8 52.6L362.5 56.3L358.8 60.0L355.1 56.3Z" fill="none" stroke="#EC5AA8" stroke-width="1.0"/>
<path d="M359.4 54.0L363.1 57.7L359.4 61.4L355.7 57.7Z" fill="none" stroke="#EC5AA8" stroke-width="1.0"/>
<path d="M360.8 63.1L364.5 66.8L360.8 70.5L357.1 66.8Z" fill="none" stroke="#EC5AA8" stroke-width="1.0"/>
<path d="M362.2 50.6L365.9 54.3L362.2 58.0L358.5 54.3Z" fill="none" stroke="#EC5AA8" stroke-width="1.0"/>
<path d="M363.6 57.7L367.3 61.4L363.6 65.1L359.9 61.4Z" fill="none" stroke="#EC5AA8" stroke-width="1.0"/>
<path d="M365.0 52.7L368.7 56.5L365.0 60.2L361.2 56.5Z" fill="none" stroke="#EC5AA8" stroke-width="1.0"/>
<path d="M366.3 60.9L370.1 64.6L366.3 68.3L362.6 64.6Z" fill="none" stroke="#EC5AA8" stroke-width="1.0"/>
<path d="M367.7 61.3L371.4 65.0L367.7 68.7L364.0 65.0Z" fill="none" stroke="#EC5AA8" stroke-width="1.0"/>
<path d="M369.1 56.3L372.8 60.0L369.1 63.7L365.4 60.0Z" fill="none" stroke="#EC5AA8" stroke-width="1.0"/>
<path d="M370.5 64.6L374.2 68.3L370.5 72.0L366.8 68.3Z" fill="none" stroke="#EC5AA8" stroke-width="1.0"/>
<path d="M371.9 59.1L375.6 62.8L371.9 66.5L368.2 62.8Z" fill="none" stroke="#EC5AA8" stroke-width="1.0"/>
<path d="M373.3 63.3L377.0 67.0L373.3 70.7L369.6 67.0Z" fill="none" stroke="#EC5AA8" stroke-width="1.0"/>
<path d="M374.6 60.9L378.4 64.6L374.6 68.3L370.9 64.6Z" fill="none" stroke="#EC5AA8" stroke-width="1.0"/>
<path d="M376.0 58.9L379.7 62.6L376.0 66.3L372.3 62.6Z" fill="none" stroke="#EC5AA8" stroke-width="1.0"/>
<path d="M377.4 60.0L381.1 63.7L377.4 67.4L373.7 63.7Z" fill="none" stroke="#EC5AA8" stroke-width="1.0"/>
<path d="M378.8 61.4L382.5 65.1L378.8 68.8L375.1 65.1Z" fill="none" stroke="#EC5AA8" stroke-width="1.0"/>
<path d="M380.2 64.2L383.9 68.0L380.2 71.7L376.5 68.0Z" fill="none" stroke="#EC5AA8" stroke-width="1.0"/>
<path d="M381.6 63.4L385.3 67.1L381.6 70.8L377.9 67.1Z" fill="none" stroke="#EC5AA8" stroke-width="1.0"/>
<path d="M383.0 70.8L386.7 74.5L383.0 78.2L379.2 74.5Z" fill="none" stroke="#EC5AA8" stroke-width="1.0"/>
<path d="M384.3 63.8L388.0 67.5L384.3 71.2L380.6 67.5Z" fill="none" stroke="#EC5AA8" stroke-width="1.0"/>
<path d="M385.7 63.7L389.4 67.4L385.7 71.1L382.0 67.4Z" fill="none" stroke="#EC5AA8" stroke-width="1.0"/>
<path d="M387.1 63.7L390.8 67.4L387.1 71.1L383.4 67.4Z" fill="none" stroke="#EC5AA8" stroke-width="1.0"/>
<path d="M388.5 64.2L392.2 67.9L388.5 71.6L384.8 67.9Z" fill="none" stroke="#EC5AA8" stroke-width="1.0"/>
<path d="M389.9 63.0L393.6 66.7L389.9 70.4L386.2 66.7Z" fill="none" stroke="#EC5AA8" stroke-width="1.0"/>
<path d="M391.3 65.1L395.0 68.8L391.3 72.5L387.5 68.8Z" fill="none" stroke="#EC5AA8" stroke-width="1.0"/>
<path d="M392.6 71.6L396.4 75.3L392.6 79.0L388.9 75.3Z" fill="none" stroke="#EC5AA8" stroke-width="1.0"/>
<path d="M394.0 69.8L397.7 73.5L394.0 77.3L390.3 73.5Z" fill="none" stroke="#EC5AA8" stroke-width="1.0"/>
<path d="M395.4 69.9L399.1 73.7L395.4 77.4L391.7 73.7Z" fill="none" stroke="#EC5AA8" stroke-width="1.0"/>
<path d="M396.8 72.3L400.5 76.1L396.8 79.8L393.1 76.1Z" fill="none" stroke="#EC5AA8" stroke-width="1.0"/>
<path d="M398.2 75.3L401.9 79.0L398.2 82.8L394.5 79.0Z" fill="none" stroke="#EC5AA8" stroke-width="1.0"/>
<path d="M399.6 74.8L403.3 78.5L399.6 82.2L395.8 78.5Z" fill="none" stroke="#EC5AA8" stroke-width="1.0"/>
<path d="M400.9 76.2L404.7 79.9L400.9 83.6L397.2 79.9Z" fill="none" stroke="#EC5AA8" stroke-width="1.0"/>
<path d="M402.3 73.0L406.0 76.7L402.3 80.5L398.6 76.7Z" fill="none" stroke="#EC5AA8" stroke-width="1.0"/>
<path d="M403.7 74.8L407.4 78.5L403.7 82.2L400.0 78.5Z" fill="none" stroke="#EC5AA8" stroke-width="1.0"/>
<path d="M405.1 74.2L408.8 77.9L405.1 81.6L401.4 77.9Z" fill="none" stroke="#EC5AA8" stroke-width="1.0"/>
<path d="M406.5 77.1L410.2 80.8L406.5 84.5L402.8 80.8Z" fill="none" stroke="#EC5AA8" stroke-width="1.0"/>
<path d="M407.9 75.9L411.6 79.6L407.9 83.3L404.2 79.6Z" fill="none" stroke="#EC5AA8" stroke-width="1.0"/>
<path d="M409.2 78.1L413.0 81.8L409.2 85.6L405.5 81.8Z" fill="none" stroke="#EC5AA8" stroke-width="1.0"/>
<path d="M410.6 79.7L414.3 83.4L410.6 87.1L406.9 83.4Z" fill="none" stroke="#EC5AA8" stroke-width="1.0"/>
<path d="M412.0 80.5L415.7 84.2L412.0 87.9L408.3 84.2Z" fill="none" stroke="#EC5AA8" stroke-width="1.0"/>
<path d="M413.4 81.4L417.1 85.1L413.4 88.8L409.7 85.1Z" fill="none" stroke="#EC5AA8" stroke-width="1.0"/>
<path d="M414.8 81.8L418.5 85.5L414.8 89.2L411.1 85.5Z" fill="none" stroke="#EC5AA8" stroke-width="1.0"/>
<path d="M416.2 88.4L419.9 92.1L416.2 95.8L412.5 92.1Z" fill="none" stroke="#EC5AA8" stroke-width="1.0"/>
<path d="M417.6 84.6L421.3 88.4L417.6 92.1L413.8 88.4Z" fill="none" stroke="#EC5AA8" stroke-width="1.0"/>
<path d="M418.9 83.9L422.6 87.6L418.9 91.4L415.2 87.6Z" fill="none" stroke="#EC5AA8" stroke-width="1.0"/>
<path d="M420.3 88.9L424.0 92.6L420.3 96.3L416.6 92.6Z" fill="none" stroke="#EC5AA8" stroke-width="1.0"/>
<path d="M421.7 86.5L425.4 90.2L421.7 93.9L418.0 90.2Z" fill="none" stroke="#EC5AA8" stroke-width="1.0"/>
<path d="M423.1 88.1L426.8 91.8L423.1 95.5L419.4 91.8Z" fill="none" stroke="#EC5AA8" stroke-width="1.0"/>
<path d="M424.5 93.2L428.2 96.9L424.5 100.6L420.8 96.9Z" fill="none" stroke="#EC5AA8" stroke-width="1.0"/>
<path d="M425.9 89.6L429.6 93.3L425.9 97.0L422.1 93.3Z" fill="none" stroke="#EC5AA8" stroke-width="1.0"/>
<path d="M427.2 86.7L431.0 90.5L427.2 94.2L423.5 90.5Z" fill="none" stroke="#EC5AA8" stroke-width="1.0"/>
<path d="M428.6 99.3L432.3 103.0L428.6 106.7L424.9 103.0Z" fill="none" stroke="#EC5AA8" stroke-width="1.0"/>
<path d="M430.0 103.9L433.7 107.6L430.0 111.3L426.3 107.6Z" fill="none" stroke="#EC5AA8" stroke-width="1.0"/>
<path d="M431.4 98.4L435.1 102.1L431.4 105.9L427.7 102.1Z" fill="none" stroke="#EC5AA8" stroke-width="1.0"/>
<path d="M435.2 109.1L438.9 112.8L435.2 116.5L431.5 112.8Z" fill="none" stroke="#EC5AA8" stroke-width="1.0"/>
<path d="M439.1 122.7L442.8 126.4L439.1 130.1L435.4 126.4Z" fill="none" stroke="#EC5AA8" stroke-width="1.0"/>
<path d="M442.9 124.0L446.6 127.7L442.9 131.4L439.2 127.7Z" fill="none" stroke="#EC5AA8" stroke-width="1.0"/>
<path d="M446.8 135.2L450.5 138.9L446.8 142.6L443.1 138.9Z" fill="none" stroke="#EC5AA8" stroke-width="1.0"/>
<path d="M450.6 140.9L454.3 144.6L450.6 148.3L446.9 144.6Z" fill="none" stroke="#EC5AA8" stroke-width="1.0"/>
<path d="M454.4 149.7L458.2 153.5L454.4 157.2L450.7 153.5Z" fill="none" stroke="#EC5AA8" stroke-width="1.0"/>
<path d="M458.3 149.3L462.0 153.0L458.3 156.7L454.6 153.0Z" fill="none" stroke="#EC5AA8" stroke-width="1.0"/>
<path d="M462.1 163.9L465.8 167.6L462.1 171.3L458.4 167.6Z" fill="none" stroke="#EC5AA8" stroke-width="1.0"/>
<path d="M466.0 165.7L469.7 169.5L466.0 173.2L462.3 169.5Z" fill="none" stroke="#EC5AA8" stroke-width="1.0"/>
<path d="M469.8 172.2L473.5 175.9L469.8 179.7L466.1 175.9Z" fill="none" stroke="#EC5AA8" stroke-width="1.0"/>
<path d="M473.7 175.4L477.4 179.1L473.7 182.8L470.0 179.1Z" fill="none" stroke="#EC5AA8" stroke-width="1.0"/>
<path d="M477.5 175.4L481.2 179.2L477.5 182.9L473.8 179.2Z" fill="none" stroke="#EC5AA8" stroke-width="1.0"/>
<path d="M481.3 188.7L485.1 192.4L481.3 196.1L477.6 192.4Z" fill="none" stroke="#EC5AA8" stroke-width="1.0"/>
<path d="M485.2 190.7L488.9 194.4L485.2 198.1L481.5 194.4Z" fill="none" stroke="#EC5AA8" stroke-width="1.0"/>
<path d="M489.0 200.3L492.7 204.0L489.0 207.7L485.3 204.0Z" fill="none" stroke="#EC5AA8" stroke-width="1.0"/>
<path d="M492.9 201.1L496.6 204.8L492.9 208.5L489.2 204.8Z" fill="none" stroke="#EC5AA8" stroke-width="1.0"/>
<path d="M496.7 206.4L500.4 210.2L496.7 213.9L493.0 210.2Z" fill="none" stroke="#EC5AA8" stroke-width="1.0"/>
<path d="M500.6 209.8L504.3 213.6L500.6 217.3L496.9 213.6Z" fill="none" stroke="#EC5AA8" stroke-width="1.0"/>
<path d="M504.4 216.1L508.1 219.8L504.4 223.6L500.7 219.8Z" fill="none" stroke="#EC5AA8" stroke-width="1.0"/>
<path d="M508.2 218.4L512.0 222.1L508.2 225.9L504.5 222.1Z" fill="none" stroke="#EC5AA8" stroke-width="1.0"/>
<path d="M512.1 213.7L515.8 217.4L512.1 221.1L508.4 217.4Z" fill="none" stroke="#EC5AA8" stroke-width="1.0"/>
<path d="M515.9 219.5L519.6 223.2L515.9 226.9L512.2 223.2Z" fill="none" stroke="#EC5AA8" stroke-width="1.0"/>
<path d="M519.8 227.4L523.5 231.1L519.8 234.8L516.1 231.1Z" fill="none" stroke="#EC5AA8" stroke-width="1.0"/>
<path d="M523.6 225.3L527.3 229.0L523.6 232.7L519.9 229.0Z" fill="none" stroke="#EC5AA8" stroke-width="1.0"/>
<path d="M304.7 43.3L310.8 39.6V47.1Z" fill="none" stroke="#F6B530" stroke-width="1.0"/>
<path d="M307.7 45.6L313.8 41.9V49.4Z" fill="none" stroke="#F6B530" stroke-width="1.0"/>
<path d="M310.5 45.4L316.5 41.7V49.2Z" fill="none" stroke="#F6B530" stroke-width="1.0"/>
<path d="M313.0 50.0L319.0 46.2V53.7Z" fill="none" stroke="#F6B530" stroke-width="1.0"/>
<path d="M315.3 47.5L321.4 43.8V51.3Z" fill="none" stroke="#F6B530" stroke-width="1.0"/>
<path d="M317.5 49.1L323.5 45.3V52.8Z" fill="none" stroke="#F6B530" stroke-width="1.0"/>
<path d="M319.5 55.6L325.6 51.9V59.4Z" fill="none" stroke="#F6B530" stroke-width="1.0"/>
<path d="M321.4 43.9L327.5 40.1V47.6Z" fill="none" stroke="#F6B530" stroke-width="1.0"/>
<path d="M323.2 45.4L329.3 41.6V49.1Z" fill="none" stroke="#F6B530" stroke-width="1.0"/>
<path d="M324.9 43.2L331.0 39.4V46.9Z" fill="none" stroke="#F6B530" stroke-width="1.0"/>
<path d="M326.5 43.9L332.6 40.1V47.6Z" fill="none" stroke="#F6B530" stroke-width="1.0"/>
<path d="M328.1 52.9L334.1 49.1V56.6Z" fill="none" stroke="#F6B530" stroke-width="1.0"/>
<path d="M329.5 51.1L335.6 47.4V54.9Z" fill="none" stroke="#F6B530" stroke-width="1.0"/>
<path d="M330.9 56.3L337.0 52.5V60.0Z" fill="none" stroke="#F6B530" stroke-width="1.0"/>
<path d="M332.3 43.3L338.3 39.6V47.1Z" fill="none" stroke="#F6B530" stroke-width="1.0"/>
<path d="M333.6 47.6L339.6 43.8V51.3Z" fill="none" stroke="#F6B530" stroke-width="1.0"/>
<path d="M334.8 56.5L340.8 52.7V60.2Z" fill="none" stroke="#F6B530" stroke-width="1.0"/>
<path d="M336.0 55.2L342.0 51.5V59.0Z" fill="none" stroke="#F6B530" stroke-width="1.0"/>
<path d="M337.1 54.9L343.2 51.2V58.7Z" fill="none" stroke="#F6B530" stroke-width="1.0"/>
<path d="M338.2 55.1L344.3 51.4V58.9Z" fill="none" stroke="#F6B530" stroke-width="1.0"/>
<path d="M339.3 52.1L345.3 48.4V55.9Z" fill="none" stroke="#F6B530" stroke-width="1.0"/>
<path d="M340.3 52.2L346.4 48.4V55.9Z" fill="none" stroke="#F6B530" stroke-width="1.0"/>
<path d="M341.3 52.6L347.4 48.8V56.3Z" fill="none" stroke="#F6B530" stroke-width="1.0"/>
<path d="M342.3 55.9L348.3 52.2V59.7Z" fill="none" stroke="#F6B530" stroke-width="1.0"/>
<path d="M343.2 52.2L349.3 48.4V55.9Z" fill="none" stroke="#F6B530" stroke-width="1.0"/>
<path d="M344.1 54.3L350.2 50.6V58.1Z" fill="none" stroke="#F6B530" stroke-width="1.0"/>
<path d="M345.0 59.0L351.1 55.3V62.8Z" fill="none" stroke="#F6B530" stroke-width="1.0"/>
<path d="M345.9 48.9L351.9 45.1V52.6Z" fill="none" stroke="#F6B530" stroke-width="1.0"/>
<path d="M346.7 50.6L352.8 46.8V54.3Z" fill="none" stroke="#F6B530" stroke-width="1.0"/>
<path d="M347.5 56.1L353.6 52.3V59.8Z" fill="none" stroke="#F6B530" stroke-width="1.0"/>
<path d="M348.3 52.9L354.4 49.2V56.7Z" fill="none" stroke="#F6B530" stroke-width="1.0"/>
<path d="M349.1 53.5L355.1 49.8V57.3Z" fill="none" stroke="#F6B530" stroke-width="1.0"/>
<path d="M349.9 63.0L355.9 59.2V66.7Z" fill="none" stroke="#F6B530" stroke-width="1.0"/>
<path d="M350.6 56.2L356.6 52.5V60.0Z" fill="none" stroke="#F6B530" stroke-width="1.0"/>
<path d="M351.3 53.0L357.4 49.2V56.7Z" fill="none" stroke="#F6B530" stroke-width="1.0"/>
<path d="M352.0 59.4L358.1 55.7V63.2Z" fill="none" stroke="#F6B530" stroke-width="1.0"/>
<path d="M352.7 65.6L358.8 61.8V69.3Z" fill="none" stroke="#F6B530" stroke-width="1.0"/>
<path d="M353.4 50.5L359.4 46.8V54.3Z" fill="none" stroke="#F6B530" stroke-width="1.0"/>
<path d="M354.1 52.5L360.1 48.8V56.3Z" fill="none" stroke="#F6B530" stroke-width="1.0"/>
<path d="M354.7 56.0L360.8 52.3V59.8Z" fill="none" stroke="#F6B530" stroke-width="1.0"/>
<path d="M355.4 53.0L361.4 49.3V56.8Z" fill="none" stroke="#F6B530" stroke-width="1.0"/>
<path d="M356.0 65.2L362.0 61.4V68.9Z" fill="none" stroke="#F6B530" stroke-width="1.0"/>
<path d="M357.4 58.5L363.4 54.8V62.3Z" fill="none" stroke="#F6B530" stroke-width="1.0"/>
<path d="M358.7 55.0L364.8 51.2V58.7Z" fill="none" stroke="#F6B530" stroke-width="1.0"/>
<path d="M360.1 59.3L366.2 55.5V63.0Z" fill="none" stroke="#F6B530" stroke-width="1.0"/>
<path d="M361.5 54.1L367.5 50.3V57.8Z" fill="none" stroke="#F6B530" stroke-width="1.0"/>
<path d="M362.9 55.3L368.9 51.6V59.1Z" fill="none" stroke="#F6B530" stroke-width="1.0"/>
<path d="M364.3 59.0L370.3 55.2V62.7Z" fill="none" stroke="#F6B530" stroke-width="1.0"/>
<path d="M365.7 69.8L371.7 66.0V73.5Z" fill="none" stroke="#F6B530" stroke-width="1.0"/>
<path d="M367.0 49.3L373.1 45.5V53.0Z" fill="none" stroke="#F6B530" stroke-width="1.0"/>
<path d="M368.4 61.9L374.5 58.2V65.7Z" fill="none" stroke="#F6B530" stroke-width="1.0"/>
<path d="M369.8 66.8L375.9 63.0V70.5Z" fill="none" stroke="#F6B530" stroke-width="1.0"/>
<path d="M371.2 64.5L377.2 60.8V68.3Z" fill="none" stroke="#F6B530" stroke-width="1.0"/>
<path d="M372.6 70.7L378.6 67.0V74.5Z" fill="none" stroke="#F6B530" stroke-width="1.0"/>
<path d="M374.0 64.4L380.0 60.6V68.1Z" fill="none" stroke="#F6B530" stroke-width="1.0"/>
<path d="M375.3 63.5L381.4 59.8V67.3Z" fill="none" stroke="#F6B530" stroke-width="1.0"/>
<path d="M376.7 62.8L382.8 59.1V66.6Z" fill="none" stroke="#F6B530" stroke-width="1.0"/>
<path d="M378.1 59.9L384.2 56.1V63.6Z" fill="none" stroke="#F6B530" stroke-width="1.0"/>
<path d="M379.5 72.7L385.5 69.0V76.5Z" fill="none" stroke="#F6B530" stroke-width="1.0"/>
<path d="M380.9 59.5L386.9 55.7V63.2Z" fill="none" stroke="#F6B530" stroke-width="1.0"/>
<path d="M382.3 65.4L388.3 61.6V69.1Z" fill="none" stroke="#F6B530" stroke-width="1.0"/>
<path d="M383.7 64.0L389.7 60.3V67.8Z" fill="none" stroke="#F6B530" stroke-width="1.0"/>
<path d="M385.0 63.4L391.1 59.6V67.1Z" fill="none" stroke="#F6B530" stroke-width="1.0"/>
<path d="M386.4 56.6L392.5 52.9V60.4Z" fill="none" stroke="#F6B530" stroke-width="1.0"/>
<path d="M387.8 66.8L393.8 63.0V70.5Z" fill="none" stroke="#F6B530" stroke-width="1.0"/>
<path d="M389.2 70.2L395.2 66.5V74.0Z" fill="none" stroke="#F6B530" stroke-width="1.0"/>
<path d="M390.6 71.0L396.6 67.2V74.7Z" fill="none" stroke="#F6B530" stroke-width="1.0"/>
<path d="M392.0 75.5L398.0 71.7V79.2Z" fill="none" stroke="#F6B530" stroke-width="1.0"/>
<path d="M393.3 70.9L399.4 67.1V74.6Z" fill="none" stroke="#F6B530" stroke-width="1.0"/>
<path d="M394.7 69.0L400.8 65.3V72.8Z" fill="none" stroke="#F6B530" stroke-width="1.0"/>
<path d="M396.1 75.0L402.1 71.2V78.7Z" fill="none" stroke="#F6B530" stroke-width="1.0"/>
<path d="M397.5 77.7L403.5 74.0V81.5Z" fill="none" stroke="#F6B530" stroke-width="1.0"/>
<path d="M398.9 69.8L404.9 66.1V73.6Z" fill="none" stroke="#F6B530" stroke-width="1.0"/>
<path d="M400.3 67.2L406.3 63.4V70.9Z" fill="none" stroke="#F6B530" stroke-width="1.0"/>
<path d="M401.6 70.7L407.7 67.0V74.5Z" fill="none" stroke="#F6B530" stroke-width="1.0"/>
<path d="M403.0 83.3L409.1 79.6V87.1Z" fill="none" stroke="#F6B530" stroke-width="1.0"/>
<path d="M404.4 83.8L410.5 80.1V87.6Z" fill="none" stroke="#F6B530" stroke-width="1.0"/>
<path d="M405.8 73.9L411.8 70.2V77.7Z" fill="none" stroke="#F6B530" stroke-width="1.0"/>
<path d="M407.2 80.5L413.2 76.7V84.2Z" fill="none" stroke="#F6B530" stroke-width="1.0"/>
<path d="M408.6 85.5L414.6 81.8V89.3Z" fill="none" stroke="#F6B530" stroke-width="1.0"/>
<path d="M409.9 89.2L416.0 85.5V93.0Z" fill="none" stroke="#F6B530" stroke-width="1.0"/>
<path d="M411.3 78.5L417.4 74.8V82.3Z" fill="none" stroke="#F6B530" stroke-width="1.0"/>
<path d="M412.7 81.9L418.8 78.1V85.6Z" fill="none" stroke="#F6B530" stroke-width="1.0"/>
<path d="M414.1 92.6L420.1 88.8V96.3Z" fill="none" stroke="#F6B530" stroke-width="1.0"/>
<path d="M415.5 99.5L421.5 95.8V103.3Z" fill="none" stroke="#F6B530" stroke-width="1.0"/>
<path d="M416.9 95.4L422.9 91.6V99.1Z" fill="none" stroke="#F6B530" stroke-width="1.0"/>
<path d="M418.3 80.6L424.3 76.9V84.4Z" fill="none" stroke="#F6B530" stroke-width="1.0"/>
<path d="M419.6 91.3L425.7 87.5V95.0Z" fill="none" stroke="#F6B530" stroke-width="1.0"/>
<path d="M421.0 88.1L427.1 84.3V91.8Z" fill="none" stroke="#F6B530" stroke-width="1.0"/>
<path d="M422.4 90.9L428.4 87.1V94.6Z" fill="none" stroke="#F6B530" stroke-width="1.0"/>
<path d="M423.8 88.7L429.8 85.0V92.5Z" fill="none" stroke="#F6B530" stroke-width="1.0"/>
<path d="M425.2 91.6L431.2 87.8V95.3Z" fill="none" stroke="#F6B530" stroke-width="1.0"/>
<path d="M426.6 96.4L432.6 92.7V100.2Z" fill="none" stroke="#F6B530" stroke-width="1.0"/>
<path d="M427.9 109.6L434.0 105.9V113.4Z" fill="none" stroke="#F6B530" stroke-width="1.0"/>
<path d="M431.8 110.6L437.8 106.8V114.3Z" fill="none" stroke="#F6B530" stroke-width="1.0"/>
<path d="M435.6 117.5L441.7 113.8V121.3Z" fill="none" stroke="#F6B530" stroke-width="1.0"/>
<path d="M439.5 123.7L445.5 119.9V127.4Z" fill="none" stroke="#F6B530" stroke-width="1.0"/>
<path d="M443.3 126.9L449.4 123.1V130.6Z" fill="none" stroke="#F6B530" stroke-width="1.0"/>
<path d="M447.2 137.9L453.2 134.2V141.7Z" fill="none" stroke="#F6B530" stroke-width="1.0"/>
<path d="M451.0 154.0L457.0 150.3V157.8Z" fill="none" stroke="#F6B530" stroke-width="1.0"/>
<path d="M454.8 158.2L460.9 154.4V161.9Z" fill="none" stroke="#F6B530" stroke-width="1.0"/>
<path d="M458.7 171.3L464.7 167.5V175.0Z" fill="none" stroke="#F6B530" stroke-width="1.0"/>
<path d="M462.5 168.1L468.6 164.3V171.8Z" fill="none" stroke="#F6B530" stroke-width="1.0"/>
<path d="M466.4 173.0L472.4 169.2V176.7Z" fill="none" stroke="#F6B530" stroke-width="1.0"/>
<path d="M470.2 169.8L476.3 166.0V173.5Z" fill="none" stroke="#F6B530" stroke-width="1.0"/>
<path d="M474.1 186.5L480.1 182.7V190.2Z" fill="none" stroke="#F6B530" stroke-width="1.0"/>
<path d="M477.9 179.8L483.9 176.0V183.5Z" fill="none" stroke="#F6B530" stroke-width="1.0"/>
<path d="M481.7 202.5L487.8 198.8V206.3Z" fill="none" stroke="#F6B530" stroke-width="1.0"/>
<path d="M485.6 195.2L491.6 191.4V198.9Z" fill="none" stroke="#F6B530" stroke-width="1.0"/>
<path d="M489.4 202.7L495.5 199.0V206.5Z" fill="none" stroke="#F6B530" stroke-width="1.0"/>
<path d="M493.3 199.2L499.3 195.4V202.9Z" fill="none" stroke="#F6B530" stroke-width="1.0"/>
<path d="M497.1 207.0L503.2 203.2V210.7Z" fill="none" stroke="#F6B530" stroke-width="1.0"/>
<path d="M501.0 207.5L507.0 203.7V211.2Z" fill="none" stroke="#F6B530" stroke-width="1.0"/>
<path d="M504.8 220.6L510.8 216.9V224.4Z" fill="none" stroke="#F6B530" stroke-width="1.0"/>
<path d="M508.6 218.2L514.7 214.5V222.0Z" fill="none" stroke="#F6B530" stroke-width="1.0"/>
<path d="M512.5 213.1L518.5 209.3V216.8Z" fill="none" stroke="#F6B530" stroke-width="1.0"/>
<path d="M516.3 211.5L522.4 207.8V215.3Z" fill="none" stroke="#F6B530" stroke-width="1.0"/>
<path d="M520.2 222.7L526.2 218.9V226.4Z" fill="none" stroke="#F6B530" stroke-width="1.0"/>
<path d="M308.7 65.0 L311.1 67.2 L313.5 69.3 L315.9 71.4 L318.3 73.5 L320.7 75.6 L323.1 77.7 L325.5 79.9 L327.9 82.1 L330.3 84.3 L332.7 86.7 L335.1 89.1 L337.5 91.6 L339.9 94.3 L342.3 97.0 L344.8 99.9 L347.2 102.8 L349.6 105.8 L352.0 108.8 L354.4 111.8 L356.8 114.9 L359.2 117.9 L361.6 121.0 L364.0 124.1 L366.4 127.3 L368.8 130.5 L371.2 133.8 L373.6 137.0 L376.0 140.3 L378.4 143.6 L380.8 147.0 L383.2 150.3 L385.6 153.7 L388.0 157.1 L390.4 160.6 L392.8 164.0 L395.2 167.4 L397.6 170.9 L400.0 174.4 L402.4 178.0 L404.8 181.4 L407.2 184.6 L409.6 187.7 L412.0 190.8 L414.4 193.6 L416.9 196.2 L419.3 198.4 L421.7 200.2 L424.1 201.9 L426.5 203.4 L428.9 204.8 L431.3 206.1 L433.7 207.4 L436.1 208.5 L438.5 209.7 L440.9 210.8 L443.3 211.9 L445.7 213.0 L448.1 214.1 L450.5 215.2 L452.9 216.3 L455.3 217.4 L457.7 218.4 L460.1 219.4 L462.5 220.4 L464.9 221.4 L467.3 222.3 L469.7 223.1 L472.1 223.9 L474.5 224.6 L476.9 225.3 L479.3 225.9 L481.7 226.4 L484.1 226.8 L486.5 227.2 L489.0 227.6 L491.4 228.0 L493.8 228.4 L496.2 228.7 L498.6 229.0 L501.0 229.3 L503.4 229.6 L505.8 229.9 L508.2 230.2 L510.6 230.5 L513.0 230.8 L515.4 231.1 L517.8 231.4 L520.2 231.7 L522.6 232.0" fill="none" stroke="#F0842C" stroke-width="1.3"/>
<path d="M308.7 56.0 L311.1 57.9 L313.5 59.8 L315.9 61.7 L318.3 63.6 L320.7 65.5 L323.1 67.4 L325.5 69.3 L327.9 71.2 L330.3 73.0 L332.7 74.8 L335.1 76.6 L337.5 78.3 L339.9 80.1 L342.3 81.8 L344.8 83.6 L347.2 85.4 L349.6 87.3 L352.0 89.3 L354.4 91.4 L356.8 93.7 L359.2 96.2 L361.6 98.8 L364.0 101.6 L366.4 104.4 L368.8 107.2 L371.2 109.9 L373.6 112.5 L376.0 114.9 L378.4 117.3 L380.8 119.6 L383.2 122.0 L385.6 124.4 L388.0 126.9 L390.4 129.6 L392.8 132.5 L395.2 135.6 L397.6 139.1 L400.0 143.3 L402.4 148.6 L404.8 153.8 L407.2 158.1 L409.6 162.1 L412.0 165.9 L414.4 169.5 L416.9 172.9 L419.3 176.1 L421.7 179.1 L424.1 182.0 L426.5 184.9 L428.9 187.7 L431.3 190.4 L433.7 193.0 L436.1 195.4 L438.5 197.7 L440.9 199.8 L443.3 201.8 L445.7 203.6 L448.1 205.4 L450.5 207.1 L452.9 208.8 L455.3 210.4 L457.7 212.0 L460.1 213.5 L462.5 215.0 L464.9 216.3 L467.3 217.6 L469.7 218.9 L472.1 220.0 L474.5 221.0 L476.9 222.0 L479.3 222.8 L481.7 223.5 L484.1 224.2 L486.5 224.9 L489.0 225.5 L491.4 226.0 L493.8 226.5 L496.2 227.0 L498.6 227.5 L501.0 228.0 L503.4 228.4 L505.8 228.9 L508.2 229.3 L510.6 229.7 L513.0 230.1 L515.4 230.6 L517.8 231.0 L520.2 231.5 L522.6 232.0" fill="none" stroke="#7B5CB8" stroke-width="1.3"/>
<path d="M308.7 50.5 L311.1 51.5 L313.5 52.5 L315.9 53.4 L318.3 54.3 L320.7 55.2 L323.1 56.1 L325.5 57.0 L327.9 57.9 L330.3 58.8 L332.7 59.8 L335.1 60.8 L337.5 61.8 L339.9 62.8 L342.3 64.0 L344.8 65.2 L347.2 66.4 L349.6 67.7 L352.0 69.2 L354.4 70.7 L356.8 72.4 L359.2 74.2 L361.6 76.1 L364.0 78.1 L366.4 80.3 L368.8 82.4 L371.2 84.7 L373.6 87.1 L376.0 89.5 L378.4 91.9 L380.8 94.4 L383.2 97.0 L385.6 99.6 L388.0 102.2 L390.4 104.9 L392.8 107.6 L395.2 110.2 L397.6 113.0 L400.0 115.9 L402.4 119.0 L404.8 122.1 L407.2 125.4 L409.6 128.7 L412.0 132.0 L414.4 135.4 L416.9 138.9 L419.3 142.3 L421.7 145.8 L424.1 149.4 L426.5 153.1 L428.9 156.9 L431.3 160.7 L433.7 164.6 L436.1 168.8 L438.5 173.3 L440.9 177.7 L443.3 181.6 L445.7 184.8 L448.1 188.0 L450.5 191.1 L452.9 194.0 L455.3 196.8 L457.7 199.4 L460.1 201.9 L462.5 204.2 L464.9 206.3 L467.3 208.2 L469.7 209.8 L472.1 211.3 L474.5 212.7 L476.9 214.0 L479.3 215.2 L481.7 216.4 L484.1 217.5 L486.5 218.6 L489.0 219.6 L491.4 220.5 L493.8 221.5 L496.2 222.3 L498.6 223.2 L501.0 224.1 L503.4 224.9 L505.8 225.7 L508.2 226.6 L510.6 227.4 L513.0 228.3 L515.4 229.2 L517.8 230.1 L520.2 231.0 L522.6 232.0" fill="none" stroke="#4DBE74" stroke-width="1.3"/>
<path d="M308.7 48.5 L311.1 49.2 L313.5 49.8 L315.9 50.4 L318.3 51.0 L320.7 51.6 L323.1 52.1 L325.5 52.7 L327.9 53.3 L330.3 53.9 L332.7 54.5 L335.1 55.2 L337.5 55.8 L339.9 56.5 L342.3 57.3 L344.8 58.1 L347.2 58.9 L349.6 59.8 L352.0 60.8 L354.4 61.9 L356.8 63.2 L359.2 64.5 L361.6 65.9 L364.0 67.4 L366.4 69.0 L368.8 70.7 L371.2 72.4 L373.6 74.2 L376.0 76.0 L378.4 77.8 L380.8 79.6 L383.2 81.5 L385.6 83.4 L388.0 85.4 L390.4 87.4 L392.8 89.6 L395.2 91.8 L397.6 94.1 L400.0 96.5 L402.4 99.1 L404.8 101.8 L407.2 104.6 L409.6 107.5 L412.0 110.8 L414.4 114.5 L416.9 118.6 L419.3 123.0 L421.7 127.5 L424.1 132.1 L426.5 136.7 L428.9 141.1 L431.3 145.7 L433.7 150.5 L436.1 155.1 L438.5 159.5 L440.9 163.4 L443.3 166.9 L445.7 170.3 L448.1 173.5 L450.5 176.6 L452.9 179.5 L455.3 182.4 L457.7 185.2 L460.1 188.1 L462.5 191.0 L464.9 193.8 L467.3 196.7 L469.7 199.4 L472.1 202.1 L474.5 204.7 L476.9 207.2 L479.3 209.6 L481.7 211.8 L484.1 213.8 L486.5 215.7 L489.0 217.3 L491.4 218.8 L493.8 220.1 L496.2 221.3 L498.6 222.5 L501.0 223.5 L503.4 224.6 L505.8 225.5 L508.2 226.4 L510.6 227.3 L513.0 228.2 L515.4 229.1 L517.8 230.0 L520.2 231.0 L522.6 232.0" fill="none" stroke="#3B6BAE" stroke-width="1.3"/>
<path d="M308.7 46.5 L311.1 46.9 L313.5 47.2 L315.9 47.6 L318.3 47.9 L320.7 48.2 L323.1 48.5 L325.5 48.9 L327.9 49.2 L330.3 49.5 L332.7 49.8 L335.1 50.2 L337.5 50.5 L339.9 50.9 L342.3 51.3 L344.8 51.7 L347.2 52.1 L349.6 52.6 L352.0 53.1 L354.4 53.6 L356.8 54.2 L359.2 54.8 L361.6 55.5 L364.0 56.3 L366.4 57.1 L368.8 58.0 L371.2 59.0 L373.6 60.0 L376.0 61.1 L378.4 62.2 L380.8 63.4 L383.2 64.6 L385.6 65.9 L388.0 67.3 L390.4 68.7 L392.8 70.1 L395.2 71.6 L397.6 73.1 L400.0 74.7 L402.4 76.3 L404.8 77.9 L407.2 79.6 L409.6 81.3 L412.0 83.1 L414.4 85.1 L416.9 87.3 L419.3 89.6 L421.7 92.2 L424.1 95.1 L426.5 98.3 L428.9 101.9 L431.3 106.5 L433.7 111.8 L436.1 117.5 L438.5 123.6 L440.9 129.6 L443.3 135.5 L445.7 141.1 L448.1 146.7 L450.5 152.3 L452.9 157.7 L455.3 162.6 L457.7 167.1 L460.1 171.4 L462.5 175.5 L464.9 179.5 L467.3 183.2 L469.7 186.7 L472.1 190.0 L474.5 193.0 L476.9 195.9 L479.3 198.7 L481.7 201.4 L484.1 204.0 L486.5 206.5 L489.0 208.9 L491.4 211.1 L493.8 213.2 L496.2 215.2 L498.6 217.0 L501.0 218.7 L503.4 220.2 L505.8 221.6 L508.2 222.9 L510.6 224.1 L513.0 225.3 L515.4 226.4 L517.8 227.6 L520.2 228.8 L522.6 230.0" fill="none" stroke="#EC5AA8" stroke-width="1.3"/>
</g>
<defs><clipPath id="clipc"><rect x="577.7" y="8.3" width="211.3" height="222.7"/></clipPath></defs>
<g clip-path="url(#clipc)">
<rect x="574.4" y="68.3" width="4.7" height="4.7" fill="none" stroke="#F0842C" stroke-width="1.0"/>
<rect x="577.4" y="70.1" width="4.7" height="4.7" fill="none" stroke="#F0842C" stroke-width="1.0"/>
<rect x="580.1" y="74.5" width="4.7" height="4.7" fill="none" stroke="#F0842C" stroke-width="1.0"/>
<rect x="582.6" y="76.6" width="4.7" height="4.7" fill="none" stroke="#F0842C" stroke-width="1.0"/>
<rect x="585.0" y="79.4" width="4.7" height="4.7" fill="none" stroke="#F0842C" stroke-width="1.0"/>
<rect x="587.1" y="81.3" width="4.7" height="4.7" fill="none" stroke="#F0842C" stroke-width="1.0"/>
<rect x="589.1" y="83.6" width="4.7" height="4.7" fill="none" stroke="#F0842C" stroke-width="1.0"/>
<rect x="591.0" y="85.9" width="4.7" height="4.7" fill="none" stroke="#F0842C" stroke-width="1.0"/>
<rect x="592.8" y="87.0" width="4.7" height="4.7" fill="none" stroke="#F0842C" stroke-width="1.0"/>
<rect x="594.5" y="91.0" width="4.7" height="4.7" fill="none" stroke="#F0842C" stroke-width="1.0"/>
<rect x="596.1" y="92.8" width="4.7" height="4.7" fill="none" stroke="#F0842C" stroke-width="1.0"/>
<rect x="597.7" y="92.9" width="4.7" height="4.7" fill="none" stroke="#F0842C" stroke-width="1.0"/>
<rect x="599.1" y="96.4" width="4.7" height="4.7" fill="none" stroke="#F0842C" stroke-width="1.0"/>
<rect x="600.5" y="99.1" width="4.7" height="4.7" fill="none" stroke="#F0842C" stroke-width="1.0"/>
<rect x="601.9" y="100.1" width="4.7" height="4.7" fill="none" stroke="#F0842C" stroke-width="1.0"/>
<rect x="603.1" y="102.8" width="4.7" height="4.7" fill="none" stroke="#F0842C" stroke-width="1.0"/>
<rect x="604.4" y="103.1" width="4.7" height="4.7" fill="none" stroke="#F0842C" stroke-width="1.0"/>
<rect x="605.6" y="104.9" width="4.7" height="4.7" fill="none" stroke="#F0842C" stroke-width="1.0"/>
<rect x="606.7" y="105.3" width="4.7" height="4.7" fill="none" stroke="#F0842C" stroke-width="1.0"/>
<rect x="607.8" y="107.2" width="4.7" height="4.7" fill="none" stroke="#F0842C" stroke-width="1.0"/>
<rect x="608.9" y="107.8" width="4.7" height="4.7" fill="none" stroke="#F0842C" stroke-width="1.0"/>
<rect x="609.9" y="110.0" width="4.7" height="4.7" fill="none" stroke="#F0842C" stroke-width="1.0"/>
<rect x="610.9" y="112.4" width="4.7" height="4.7" fill="none" stroke="#F0842C" stroke-width="1.0"/>
<rect x="611.8" y="113.9" width="4.7" height="4.7" fill="none" stroke="#F0842C" stroke-width="1.0"/>
<rect x="612.8" y="115.8" width="4.7" height="4.7" fill="none" stroke="#F0842C" stroke-width="1.0"/>
<rect x="613.7" y="116.0" width="4.7" height="4.7" fill="none" stroke="#F0842C" stroke-width="1.0"/>
<rect x="614.6" y="116.1" width="4.7" height="4.7" fill="none" stroke="#F0842C" stroke-width="1.0"/>
<rect x="615.4" y="118.5" width="4.7" height="4.7" fill="none" stroke="#F0842C" stroke-width="1.0"/>
<rect x="616.3" y="119.0" width="4.7" height="4.7" fill="none" stroke="#F0842C" stroke-width="1.0"/>
<rect x="617.1" y="121.9" width="4.7" height="4.7" fill="none" stroke="#F0842C" stroke-width="1.0"/>
<rect x="617.9" y="123.0" width="4.7" height="4.7" fill="none" stroke="#F0842C" stroke-width="1.0"/>
<rect x="618.6" y="123.0" width="4.7" height="4.7" fill="none" stroke="#F0842C" stroke-width="1.0"/>
<rect x="619.4" y="121.9" width="4.7" height="4.7" fill="none" stroke="#F0842C" stroke-width="1.0"/>
<rect x="620.1" y="123.3" width="4.7" height="4.7" fill="none" stroke="#F0842C" stroke-width="1.0"/>
<rect x="620.9" y="124.8" width="4.7" height="4.7" fill="none" stroke="#F0842C" stroke-width="1.0"/>
<rect x="621.6" y="124.7" width="4.7" height="4.7" fill="none" stroke="#F0842C" stroke-width="1.0"/>
<rect x="622.3" y="126.7" width="4.7" height="4.7" fill="none" stroke="#F0842C" stroke-width="1.0"/>
<rect x="622.9" y="127.6" width="4.7" height="4.7" fill="none" stroke="#F0842C" stroke-width="1.0"/>
<rect x="623.6" y="128.4" width="4.7" height="4.7" fill="none" stroke="#F0842C" stroke-width="1.0"/>
<rect x="624.2" y="128.5" width="4.7" height="4.7" fill="none" stroke="#F0842C" stroke-width="1.0"/>
<rect x="624.9" y="128.1" width="4.7" height="4.7" fill="none" stroke="#F0842C" stroke-width="1.0"/>
<rect x="625.5" y="128.8" width="4.7" height="4.7" fill="none" stroke="#F0842C" stroke-width="1.0"/>
<rect x="627.3" y="131.5" width="4.7" height="4.7" fill="none" stroke="#F0842C" stroke-width="1.0"/>
<rect x="629.1" y="134.9" width="4.7" height="4.7" fill="none" stroke="#F0842C" stroke-width="1.0"/>
<rect x="631.0" y="137.2" width="4.7" height="4.7" fill="none" stroke="#F0842C" stroke-width="1.0"/>
<rect x="632.8" y="138.6" width="4.7" height="4.7" fill="none" stroke="#F0842C" stroke-width="1.0"/>
<rect x="634.6" y="140.1" width="4.7" height="4.7" fill="none" stroke="#F0842C" stroke-width="1.0"/>
<rect x="636.5" y="142.7" width="4.7" height="4.7" fill="none" stroke="#F0842C" stroke-width="1.0"/>
<rect x="638.3" y="145.4" width="4.7" height="4.7" fill="none" stroke="#F0842C" stroke-width="1.0"/>
<rect x="640.1" y="148.6" width="4.7" height="4.7" fill="none" stroke="#F0842C" stroke-width="1.0"/>
<rect x="641.9" y="150.8" width="4.7" height="4.7" fill="none" stroke="#F0842C" stroke-width="1.0"/>
<rect x="643.8" y="150.1" width="4.7" height="4.7" fill="none" stroke="#F0842C" stroke-width="1.0"/>
<rect x="645.6" y="156.6" width="4.7" height="4.7" fill="none" stroke="#F0842C" stroke-width="1.0"/>
<rect x="647.4" y="158.7" width="4.7" height="4.7" fill="none" stroke="#F0842C" stroke-width="1.0"/>
<rect x="649.2" y="160.2" width="4.7" height="4.7" fill="none" stroke="#F0842C" stroke-width="1.0"/>
<rect x="651.1" y="164.6" width="4.7" height="4.7" fill="none" stroke="#F0842C" stroke-width="1.0"/>
<rect x="652.9" y="166.9" width="4.7" height="4.7" fill="none" stroke="#F0842C" stroke-width="1.0"/>
<rect x="654.7" y="168.9" width="4.7" height="4.7" fill="none" stroke="#F0842C" stroke-width="1.0"/>
<rect x="656.6" y="168.3" width="4.7" height="4.7" fill="none" stroke="#F0842C" stroke-width="1.0"/>
<rect x="658.4" y="173.8" width="4.7" height="4.7" fill="none" stroke="#F0842C" stroke-width="1.0"/>
<rect x="660.2" y="176.8" width="4.7" height="4.7" fill="none" stroke="#F0842C" stroke-width="1.0"/>
<rect x="662.0" y="177.7" width="4.7" height="4.7" fill="none" stroke="#F0842C" stroke-width="1.0"/>
<rect x="663.9" y="176.5" width="4.7" height="4.7" fill="none" stroke="#F0842C" stroke-width="1.0"/>
<rect x="665.7" y="182.8" width="4.7" height="4.7" fill="none" stroke="#F0842C" stroke-width="1.0"/>
<rect x="667.5" y="185.3" width="4.7" height="4.7" fill="none" stroke="#F0842C" stroke-width="1.0"/>
<rect x="669.3" y="185.9" width="4.7" height="4.7" fill="none" stroke="#F0842C" stroke-width="1.0"/>
<rect x="671.2" y="188.2" width="4.7" height="4.7" fill="none" stroke="#F0842C" stroke-width="1.0"/>
<rect x="673.0" y="188.0" width="4.7" height="4.7" fill="none" stroke="#F0842C" stroke-width="1.0"/>
<rect x="674.8" y="188.8" width="4.7" height="4.7" fill="none" stroke="#F0842C" stroke-width="1.0"/>
<rect x="676.7" y="193.4" width="4.7" height="4.7" fill="none" stroke="#F0842C" stroke-width="1.0"/>
<rect x="678.5" y="192.7" width="4.7" height="4.7" fill="none" stroke="#F0842C" stroke-width="1.0"/>
<rect x="680.3" y="195.5" width="4.7" height="4.7" fill="none" stroke="#F0842C" stroke-width="1.0"/>
<rect x="682.1" y="205.2" width="4.7" height="4.7" fill="none" stroke="#F0842C" stroke-width="1.0"/>
<rect x="684.0" y="199.7" width="4.7" height="4.7" fill="none" stroke="#F0842C" stroke-width="1.0"/>
<rect x="685.8" y="199.3" width="4.7" height="4.7" fill="none" stroke="#F0842C" stroke-width="1.0"/>
<rect x="687.6" y="195.4" width="4.7" height="4.7" fill="none" stroke="#F0842C" stroke-width="1.0"/>
<rect x="689.4" y="201.3" width="4.7" height="4.7" fill="none" stroke="#F0842C" stroke-width="1.0"/>
<rect x="691.3" y="204.2" width="4.7" height="4.7" fill="none" stroke="#F0842C" stroke-width="1.0"/>
<rect x="693.1" y="200.8" width="4.7" height="4.7" fill="none" stroke="#F0842C" stroke-width="1.0"/>
<rect x="694.9" y="203.1" width="4.7" height="4.7" fill="none" stroke="#F0842C" stroke-width="1.0"/>
<rect x="696.7" y="197.9" width="4.7" height="4.7" fill="none" stroke="#F0842C" stroke-width="1.0"/>
<rect x="698.6" y="207.4" width="4.7" height="4.7" fill="none" stroke="#F0842C" stroke-width="1.0"/>
<rect x="705.6" y="207.1" width="4.7" height="4.7" fill="none" stroke="#F0842C" stroke-width="1.0"/>
<rect x="712.6" y="214.3" width="4.7" height="4.7" fill="none" stroke="#F0842C" stroke-width="1.0"/>
<rect x="719.6" y="219.8" width="4.7" height="4.7" fill="none" stroke="#F0842C" stroke-width="1.0"/>
<rect x="726.6" y="217.7" width="4.7" height="4.7" fill="none" stroke="#F0842C" stroke-width="1.0"/>
<rect x="733.6" y="224.0" width="4.7" height="4.7" fill="none" stroke="#F0842C" stroke-width="1.0"/>
<rect x="740.6" y="222.8" width="4.7" height="4.7" fill="none" stroke="#F0842C" stroke-width="1.0"/>
<rect x="747.6" y="221.9" width="4.7" height="4.7" fill="none" stroke="#F0842C" stroke-width="1.0"/>
<rect x="754.6" y="222.1" width="4.7" height="4.7" fill="none" stroke="#F0842C" stroke-width="1.0"/>
<rect x="761.5" y="220.4" width="4.7" height="4.7" fill="none" stroke="#F0842C" stroke-width="1.0"/>
<rect x="768.5" y="228.0" width="4.7" height="4.7" fill="none" stroke="#F0842C" stroke-width="1.0"/>
<rect x="775.5" y="227.6" width="4.7" height="4.7" fill="none" stroke="#F0842C" stroke-width="1.0"/>
<rect x="782.5" y="220.5" width="4.7" height="4.7" fill="none" stroke="#F0842C" stroke-width="1.0"/>
<circle cx="576.7" cy="69.9" r="2.6" fill="none" stroke="#7B5CB8" stroke-width="1.0"/>
<circle cx="579.7" cy="67.4" r="2.6" fill="none" stroke="#7B5CB8" stroke-width="1.0"/>
<circle cx="582.5" cy="67.0" r="2.6" fill="none" stroke="#7B5CB8" stroke-width="1.0"/>
<circle cx="585.0" cy="74.1" r="2.6" fill="none" stroke="#7B5CB8" stroke-width="1.0"/>
<circle cx="587.3" cy="69.7" r="2.6" fill="none" stroke="#7B5CB8" stroke-width="1.0"/>
<circle cx="589.4" cy="76.1" r="2.6" fill="none" stroke="#7B5CB8" stroke-width="1.0"/>
<circle cx="591.5" cy="75.0" r="2.6" fill="none" stroke="#7B5CB8" stroke-width="1.0"/>
<circle cx="593.4" cy="77.5" r="2.6" fill="none" stroke="#7B5CB8" stroke-width="1.0"/>
<circle cx="595.2" cy="77.6" r="2.6" fill="none" stroke="#7B5CB8" stroke-width="1.0"/>
<circle cx="596.9" cy="79.9" r="2.6" fill="none" stroke="#7B5CB8" stroke-width="1.0"/>
<circle cx="598.5" cy="79.1" r="2.6" fill="none" stroke="#7B5CB8" stroke-width="1.0"/>
<circle cx="600.0" cy="80.6" r="2.6" fill="none" stroke="#7B5CB8" stroke-width="1.0"/>
<circle cx="601.5" cy="80.9" r="2.6" fill="none" stroke="#7B5CB8" stroke-width="1.0"/>
<circle cx="602.9" cy="83.8" r="2.6" fill="none" stroke="#7B5CB8" stroke-width="1.0"/>
<circle cx="604.2" cy="81.5" r="2.6" fill="none" stroke="#7B5CB8" stroke-width="1.0"/>
<circle cx="605.5" cy="85.7" r="2.6" fill="none" stroke="#7B5CB8" stroke-width="1.0"/>
<circle cx="606.7" cy="87.8" r="2.6" fill="none" stroke="#7B5CB8" stroke-width="1.0"/>
<circle cx="607.9" cy="85.4" r="2.6" fill="none" stroke="#7B5CB8" stroke-width="1.0"/>
<circle cx="609.0" cy="87.5" r="2.6" fill="none" stroke="#7B5CB8" stroke-width="1.0"/>
<circle cx="610.1" cy="86.4" r="2.6" fill="none" stroke="#7B5CB8" stroke-width="1.0"/>
<circle cx="611.2" cy="87.9" r="2.6" fill="none" stroke="#7B5CB8" stroke-width="1.0"/>
<circle cx="612.2" cy="90.1" r="2.6" fill="none" stroke="#7B5CB8" stroke-width="1.0"/>
<circle cx="613.2" cy="89.7" r="2.6" fill="none" stroke="#7B5CB8" stroke-width="1.0"/>
<circle cx="614.2" cy="89.4" r="2.6" fill="none" stroke="#7B5CB8" stroke-width="1.0"/>
<circle cx="615.1" cy="92.2" r="2.6" fill="none" stroke="#7B5CB8" stroke-width="1.0"/>
<circle cx="616.0" cy="93.6" r="2.6" fill="none" stroke="#7B5CB8" stroke-width="1.0"/>
<circle cx="616.9" cy="94.7" r="2.6" fill="none" stroke="#7B5CB8" stroke-width="1.0"/>
<circle cx="617.8" cy="96.4" r="2.6" fill="none" stroke="#7B5CB8" stroke-width="1.0"/>
<circle cx="618.6" cy="91.8" r="2.6" fill="none" stroke="#7B5CB8" stroke-width="1.0"/>
<circle cx="619.4" cy="99.6" r="2.6" fill="none" stroke="#7B5CB8" stroke-width="1.0"/>
<circle cx="620.2" cy="96.8" r="2.6" fill="none" stroke="#7B5CB8" stroke-width="1.0"/>
<circle cx="621.0" cy="96.3" r="2.6" fill="none" stroke="#7B5CB8" stroke-width="1.0"/>
<circle cx="621.7" cy="97.9" r="2.6" fill="none" stroke="#7B5CB8" stroke-width="1.0"/>
<circle cx="622.5" cy="100.4" r="2.6" fill="none" stroke="#7B5CB8" stroke-width="1.0"/>
<circle cx="623.2" cy="102.0" r="2.6" fill="none" stroke="#7B5CB8" stroke-width="1.0"/>
<circle cx="623.9" cy="100.0" r="2.6" fill="none" stroke="#7B5CB8" stroke-width="1.0"/>
<circle cx="624.6" cy="101.9" r="2.6" fill="none" stroke="#7B5CB8" stroke-width="1.0"/>
<circle cx="625.3" cy="98.7" r="2.6" fill="none" stroke="#7B5CB8" stroke-width="1.0"/>
<circle cx="625.9" cy="103.2" r="2.6" fill="none" stroke="#7B5CB8" stroke-width="1.0"/>
<circle cx="626.6" cy="103.3" r="2.6" fill="none" stroke="#7B5CB8" stroke-width="1.0"/>
<circle cx="627.2" cy="103.2" r="2.6" fill="none" stroke="#7B5CB8" stroke-width="1.0"/>
<circle cx="627.8" cy="106.8" r="2.6" fill="none" stroke="#7B5CB8" stroke-width="1.0"/>
<circle cx="629.6" cy="110.7" r="2.6" fill="none" stroke="#7B5CB8" stroke-width="1.0"/>
<circle cx="631.5" cy="111.0" r="2.6" fill="none" stroke="#7B5CB8" stroke-width="1.0"/>
<circle cx="633.3" cy="109.1" r="2.6" fill="none" stroke="#7B5CB8" stroke-width="1.0"/>
<circle cx="635.1" cy="116.2" r="2.6" fill="none" stroke="#7B5CB8" stroke-width="1.0"/>
<circle cx="637.0" cy="114.3" r="2.6" fill="none" stroke="#7B5CB8" stroke-width="1.0"/>
<circle cx="638.8" cy="117.1" r="2.6" fill="none" stroke="#7B5CB8" stroke-width="1.0"/>
<circle cx="640.6" cy="118.3" r="2.6" fill="none" stroke="#7B5CB8" stroke-width="1.0"/>
<circle cx="642.4" cy="122.9" r="2.6" fill="none" stroke="#7B5CB8" stroke-width="1.0"/>
<circle cx="644.3" cy="125.6" r="2.6" fill="none" stroke="#7B5CB8" stroke-width="1.0"/>
<circle cx="646.1" cy="127.4" r="2.6" fill="none" stroke="#7B5CB8" stroke-width="1.0"/>
<circle cx="647.9" cy="129.4" r="2.6" fill="none" stroke="#7B5CB8" stroke-width="1.0"/>
<circle cx="649.7" cy="132.2" r="2.6" fill="none" stroke="#7B5CB8" stroke-width="1.0"/>
<circle cx="651.6" cy="134.4" r="2.6" fill="none" stroke="#7B5CB8" stroke-width="1.0"/>
<circle cx="653.4" cy="139.9" r="2.6" fill="none" stroke="#7B5CB8" stroke-width="1.0"/>
<circle cx="655.2" cy="139.4" r="2.6" fill="none" stroke="#7B5CB8" stroke-width="1.0"/>
<circle cx="657.1" cy="142.7" r="2.6" fill="none" stroke="#7B5CB8" stroke-width="1.0"/>
<circle cx="658.9" cy="145.0" r="2.6" fill="none" stroke="#7B5CB8" stroke-width="1.0"/>
<circle cx="660.7" cy="146.4" r="2.6" fill="none" stroke="#7B5CB8" stroke-width="1.0"/>
<circle cx="662.5" cy="149.9" r="2.6" fill="none" stroke="#7B5CB8" stroke-width="1.0"/>
<circle cx="664.4" cy="149.8" r="2.6" fill="none" stroke="#7B5CB8" stroke-width="1.0"/>
<circle cx="666.2" cy="156.0" r="2.6" fill="none" stroke="#7B5CB8" stroke-width="1.0"/>
<circle cx="668.0" cy="158.7" r="2.6" fill="none" stroke="#7B5CB8" stroke-width="1.0"/>
<circle cx="669.8" cy="159.2" r="2.6" fill="none" stroke="#7B5CB8" stroke-width="1.0"/>
<circle cx="671.7" cy="165.6" r="2.6" fill="none" stroke="#7B5CB8" stroke-width="1.0"/>
<circle cx="673.5" cy="162.4" r="2.6" fill="none" stroke="#7B5CB8" stroke-width="1.0"/>
<circle cx="675.3" cy="167.7" r="2.6" fill="none" stroke="#7B5CB8" stroke-width="1.0"/>
<circle cx="677.2" cy="169.7" r="2.6" fill="none" stroke="#7B5CB8" stroke-width="1.0"/>
<circle cx="679.0" cy="169.4" r="2.6" fill="none" stroke="#7B5CB8" stroke-width="1.0"/>
<circle cx="680.8" cy="172.2" r="2.6" fill="none" stroke="#7B5CB8" stroke-width="1.0"/>
<circle cx="682.6" cy="177.3" r="2.6" fill="none" stroke="#7B5CB8" stroke-width="1.0"/>
<circle cx="684.5" cy="177.2" r="2.6" fill="none" stroke="#7B5CB8" stroke-width="1.0"/>
<circle cx="686.3" cy="180.0" r="2.6" fill="none" stroke="#7B5CB8" stroke-width="1.0"/>
<circle cx="688.1" cy="185.1" r="2.6" fill="none" stroke="#7B5CB8" stroke-width="1.0"/>
<circle cx="689.9" cy="184.0" r="2.6" fill="none" stroke="#7B5CB8" stroke-width="1.0"/>
<circle cx="691.8" cy="180.6" r="2.6" fill="none" stroke="#7B5CB8" stroke-width="1.0"/>
<circle cx="693.6" cy="185.2" r="2.6" fill="none" stroke="#7B5CB8" stroke-width="1.0"/>
<circle cx="695.4" cy="191.8" r="2.6" fill="none" stroke="#7B5CB8" stroke-width="1.0"/>
<circle cx="697.3" cy="190.8" r="2.6" fill="none" stroke="#7B5CB8" stroke-width="1.0"/>
<circle cx="699.1" cy="189.8" r="2.6" fill="none" stroke="#7B5CB8" stroke-width="1.0"/>
<circle cx="700.9" cy="188.8" r="2.6" fill="none" stroke="#7B5CB8" stroke-width="1.0"/>
<circle cx="707.9" cy="201.8" r="2.6" fill="none" stroke="#7B5CB8" stroke-width="1.0"/>
<circle cx="714.9" cy="210.2" r="2.6" fill="none" stroke="#7B5CB8" stroke-width="1.0"/>
<circle cx="721.9" cy="205.3" r="2.6" fill="none" stroke="#7B5CB8" stroke-width="1.0"/>
<circle cx="728.9" cy="205.9" r="2.6" fill="none" stroke="#7B5CB8" stroke-width="1.0"/>
<circle cx="735.9" cy="218.2" r="2.6" fill="none" stroke="#7B5CB8" stroke-width="1.0"/>
<circle cx="742.9" cy="217.2" r="2.6" fill="none" stroke="#7B5CB8" stroke-width="1.0"/>
<circle cx="749.9" cy="220.0" r="2.6" fill="none" stroke="#7B5CB8" stroke-width="1.0"/>
<circle cx="756.9" cy="221.3" r="2.6" fill="none" stroke="#7B5CB8" stroke-width="1.0"/>
<circle cx="763.9" cy="220.2" r="2.6" fill="none" stroke="#7B5CB8" stroke-width="1.0"/>
<circle cx="770.9" cy="226.2" r="2.6" fill="none" stroke="#7B5CB8" stroke-width="1.0"/>
<circle cx="777.9" cy="228.9" r="2.6" fill="none" stroke="#7B5CB8" stroke-width="1.0"/>
<circle cx="784.9" cy="227.7" r="2.6" fill="none" stroke="#7B5CB8" stroke-width="1.0"/>
<path d="M576.7 59.7L580.5 65.7H573.0Z" fill="none" stroke="#4DBE74" stroke-width="1.0"/>
<path d="M579.7 65.0L583.5 71.1H576.0Z" fill="none" stroke="#4DBE74" stroke-width="1.0"/>
<path d="M582.5 62.3L586.2 68.4H578.7Z" fill="none" stroke="#4DBE74" stroke-width="1.0"/>
<path d="M585.0 65.1L588.7 71.1H581.2Z" fill="none" stroke="#4DBE74" stroke-width="1.0"/>
<path d="M587.3 61.2L591.0 67.2H583.5Z" fill="none" stroke="#4DBE74" stroke-width="1.0"/>
<path d="M589.4 66.5L593.2 72.5H585.7Z" fill="none" stroke="#4DBE74" stroke-width="1.0"/>
<path d="M591.5 67.3L595.2 73.4H587.7Z" fill="none" stroke="#4DBE74" stroke-width="1.0"/>
<path d="M593.4 69.5L597.1 75.6H589.6Z" fill="none" stroke="#4DBE74" stroke-width="1.0"/>
<path d="M595.2 66.3L598.9 72.4H591.4Z" fill="none" stroke="#4DBE74" stroke-width="1.0"/>
<path d="M596.9 68.2L600.6 74.2H593.1Z" fill="none" stroke="#4DBE74" stroke-width="1.0"/>
<path d="M598.5 65.7L602.2 71.8H594.7Z" fill="none" stroke="#4DBE74" stroke-width="1.0"/>
<path d="M600.0 70.7L603.7 76.8H596.2Z" fill="none" stroke="#4DBE74" stroke-width="1.0"/>
<path d="M601.5 71.1L605.2 77.1H597.7Z" fill="none" stroke="#4DBE74" stroke-width="1.0"/>
<path d="M602.9 72.7L606.6 78.7H599.1Z" fill="none" stroke="#4DBE74" stroke-width="1.0"/>
<path d="M604.2 69.0L607.9 75.0H600.4Z" fill="none" stroke="#4DBE74" stroke-width="1.0"/>
<path d="M605.5 67.3L609.2 73.3H601.7Z" fill="none" stroke="#4DBE74" stroke-width="1.0"/>
<path d="M606.7 71.5L610.4 77.5H602.9Z" fill="none" stroke="#4DBE74" stroke-width="1.0"/>
<path d="M607.9 71.8L611.6 77.8H604.1Z" fill="none" stroke="#4DBE74" stroke-width="1.0"/>
<path d="M609.0 71.0L612.8 77.0H605.3Z" fill="none" stroke="#4DBE74" stroke-width="1.0"/>
<path d="M610.1 75.8L613.9 81.8H606.4Z" fill="none" stroke="#4DBE74" stroke-width="1.0"/>
<path d="M611.2 77.5L614.9 83.6H607.4Z" fill="none" stroke="#4DBE74" stroke-width="1.0"/>
<path d="M612.2 76.7L616.0 82.7H608.5Z" fill="none" stroke="#4DBE74" stroke-width="1.0"/>
<path d="M613.2 79.5L617.0 85.6H609.5Z" fill="none" stroke="#4DBE74" stroke-width="1.0"/>
<path d="M614.2 78.2L617.9 84.2H610.4Z" fill="none" stroke="#4DBE74" stroke-width="1.0"/>
<path d="M615.1 74.8L618.9 80.8H611.4Z" fill="none" stroke="#4DBE74" stroke-width="1.0"/>
<path d="M616.0 76.7L619.8 82.7H612.3Z" fill="none" stroke="#4DBE74" stroke-width="1.0"/>
<path d="M616.9 78.1L620.6 84.1H613.1Z" fill="none" stroke="#4DBE74" stroke-width="1.0"/>
<path d="M617.8 81.9L621.5 87.9H614.0Z" fill="none" stroke="#4DBE74" stroke-width="1.0"/>
<path d="M618.6 83.3L622.3 89.3H614.8Z" fill="none" stroke="#4DBE74" stroke-width="1.0"/>
<path d="M619.4 81.6L623.2 87.6H615.7Z" fill="none" stroke="#4DBE74" stroke-width="1.0"/>
<path d="M620.2 84.8L624.0 90.9H616.5Z" fill="none" stroke="#4DBE74" stroke-width="1.0"/>
<path d="M621.0 80.0L624.7 86.1H617.2Z" fill="none" stroke="#4DBE74" stroke-width="1.0"/>
<path d="M621.7 82.7L625.5 88.8H618.0Z" fill="none" stroke="#4DBE74" stroke-width="1.0"/>
<path d="M622.5 88.1L626.2 94.2H618.7Z" fill="none" stroke="#4DBE74" stroke-width="1.0"/>
<path d="M623.2 85.6L626.9 91.6H619.4Z" fill="none" stroke="#4DBE74" stroke-width="1.0"/>
<path d="M623.9 87.9L627.6 94.0H620.1Z" fill="none" stroke="#4DBE74" stroke-width="1.0"/>
<path d="M624.6 79.8L628.3 85.8H620.8Z" fill="none" stroke="#4DBE74" stroke-width="1.0"/>
<path d="M625.3 81.0L629.0 87.0H621.5Z" fill="none" stroke="#4DBE74" stroke-width="1.0"/>
<path d="M625.9 83.9L629.7 89.9H622.2Z" fill="none" stroke="#4DBE74" stroke-width="1.0"/>
<path d="M626.6 89.9L630.3 96.0H622.8Z" fill="none" stroke="#4DBE74" stroke-width="1.0"/>
<path d="M627.2 92.3L631.0 98.3H623.5Z" fill="none" stroke="#4DBE74" stroke-width="1.0"/>
<path d="M627.8 86.1L631.6 92.1H624.1Z" fill="none" stroke="#4DBE74" stroke-width="1.0"/>
<path d="M629.6 86.4L633.4 92.4H625.9Z" fill="none" stroke="#4DBE74" stroke-width="1.0"/>
<path d="M631.5 87.7L635.2 93.7H627.7Z" fill="none" stroke="#4DBE74" stroke-width="1.0"/>
<path d="M633.3 89.5L637.1 95.5H629.6Z" fill="none" stroke="#4DBE74" stroke-width="1.0"/>
<path d="M635.1 95.1L638.9 101.1H631.4Z" fill="none" stroke="#4DBE74" stroke-width="1.0"/>
<path d="M637.0 94.0L640.7 100.1H633.2Z" fill="none" stroke="#4DBE74" stroke-width="1.0"/>
<path d="M638.8 101.7L642.5 107.7H635.0Z" fill="none" stroke="#4DBE74" stroke-width="1.0"/>
<path d="M640.6 99.9L644.4 105.9H636.9Z" fill="none" stroke="#4DBE74" stroke-width="1.0"/>
<path d="M642.4 97.6L646.2 103.6H638.7Z" fill="none" stroke="#4DBE74" stroke-width="1.0"/>
<path d="M644.3 101.7L648.0 107.7H640.5Z" fill="none" stroke="#4DBE74" stroke-width="1.0"/>
<path d="M646.1 102.3L649.8 108.3H642.3Z" fill="none" stroke="#4DBE74" stroke-width="1.0"/>
<path d="M647.9 106.4L651.7 112.4H644.2Z" fill="none" stroke="#4DBE74" stroke-width="1.0"/>
<path d="M649.7 108.4L653.5 114.4H646.0Z" fill="none" stroke="#4DBE74" stroke-width="1.0"/>
<path d="M651.6 107.0L655.3 113.0H647.8Z" fill="none" stroke="#4DBE74" stroke-width="1.0"/>
<path d="M653.4 112.0L657.2 118.0H649.7Z" fill="none" stroke="#4DBE74" stroke-width="1.0"/>
<path d="M655.2 113.1L659.0 119.1H651.5Z" fill="none" stroke="#4DBE74" stroke-width="1.0"/>
<path d="M657.1 113.5L660.8 119.5H653.3Z" fill="none" stroke="#4DBE74" stroke-width="1.0"/>
<path d="M658.9 116.4L662.6 122.4H655.1Z" fill="none" stroke="#4DBE74" stroke-width="1.0"/>
<path d="M660.7 119.5L664.5 125.5H657.0Z" fill="none" stroke="#4DBE74" stroke-width="1.0"/>
<path d="M662.5 119.1L666.3 125.2H658.8Z" fill="none" stroke="#4DBE74" stroke-width="1.0"/>
<path d="M664.4 120.3L668.1 126.4H660.6Z" fill="none" stroke="#4DBE74" stroke-width="1.0"/>
<path d="M666.2 127.3L669.9 133.3H662.4Z" fill="none" stroke="#4DBE74" stroke-width="1.0"/>
<path d="M668.0 126.2L671.8 132.3H664.3Z" fill="none" stroke="#4DBE74" stroke-width="1.0"/>
<path d="M669.8 126.8L673.6 132.8H666.1Z" fill="none" stroke="#4DBE74" stroke-width="1.0"/>
<path d="M671.7 131.6L675.4 137.6H667.9Z" fill="none" stroke="#4DBE74" stroke-width="1.0"/>
<path d="M673.5 128.7L677.2 134.7H669.7Z" fill="none" stroke="#4DBE74" stroke-width="1.0"/>
<path d="M675.3 134.7L679.1 140.8H671.6Z" fill="none" stroke="#4DBE74" stroke-width="1.0"/>
<path d="M677.2 133.1L680.9 139.1H673.4Z" fill="none" stroke="#4DBE74" stroke-width="1.0"/>
<path d="M679.0 137.6L682.7 143.7H675.2Z" fill="none" stroke="#4DBE74" stroke-width="1.0"/>
<path d="M680.8 136.0L684.6 142.0H677.1Z" fill="none" stroke="#4DBE74" stroke-width="1.0"/>
<path d="M682.6 140.9L686.4 146.9H678.9Z" fill="none" stroke="#4DBE74" stroke-width="1.0"/>
<path d="M684.5 147.2L688.2 153.3H680.7Z" fill="none" stroke="#4DBE74" stroke-width="1.0"/>
<path d="M686.3 146.1L690.0 152.2H682.5Z" fill="none" stroke="#4DBE74" stroke-width="1.0"/>
<path d="M688.1 145.1L691.9 151.1H684.4Z" fill="none" stroke="#4DBE74" stroke-width="1.0"/>
<path d="M689.9 155.3L693.7 161.3H686.2Z" fill="none" stroke="#4DBE74" stroke-width="1.0"/>
<path d="M691.8 150.4L695.5 156.4H688.0Z" fill="none" stroke="#4DBE74" stroke-width="1.0"/>
<path d="M693.6 158.3L697.3 164.3H689.8Z" fill="none" stroke="#4DBE74" stroke-width="1.0"/>
<path d="M695.4 154.3L699.2 160.3H691.7Z" fill="none" stroke="#4DBE74" stroke-width="1.0"/>
<path d="M697.3 153.3L701.0 159.3H693.5Z" fill="none" stroke="#4DBE74" stroke-width="1.0"/>
<path d="M699.1 164.8L702.8 170.9H695.3Z" fill="none" stroke="#4DBE74" stroke-width="1.0"/>
<path d="M700.9 159.9L704.7 165.9H697.2Z" fill="none" stroke="#4DBE74" stroke-width="1.0"/>
<path d="M707.9 170.2L711.7 176.2H704.2Z" fill="none" stroke="#4DBE74" stroke-width="1.0"/>
<path d="M714.9 178.2L718.6 184.2H711.1Z" fill="none" stroke="#4DBE74" stroke-width="1.0"/>
<path d="M721.9 176.9L725.6 182.9H718.1Z" fill="none" stroke="#4DBE74" stroke-width="1.0"/>
<path d="M728.9 188.0L732.6 194.0H725.1Z" fill="none" stroke="#4DBE74" stroke-width="1.0"/>
<path d="M735.9 192.0L739.6 198.0H732.1Z" fill="none" stroke="#4DBE74" stroke-width="1.0"/>
<path d="M742.9 201.8L746.6 207.9H739.1Z" fill="none" stroke="#4DBE74" stroke-width="1.0"/>
<path d="M749.9 205.0L753.6 211.0H746.1Z" fill="none" stroke="#4DBE74" stroke-width="1.0"/>
<path d="M756.9 204.9L760.6 210.9H753.1Z" fill="none" stroke="#4DBE74" stroke-width="1.0"/>
<path d="M763.9 212.8L767.6 218.8H760.1Z" fill="none" stroke="#4DBE74" stroke-width="1.0"/>
<path d="M770.9 217.9L774.6 223.9H767.1Z" fill="none" stroke="#4DBE74" stroke-width="1.0"/>
<path d="M777.9 216.1L781.6 222.1H774.1Z" fill="none" stroke="#4DBE74" stroke-width="1.0"/>
<path d="M784.9 221.4L788.6 227.4H781.1Z" fill="none" stroke="#4DBE74" stroke-width="1.0"/>
<path d="M576.7 64.9L580.5 58.9H573.0Z" fill="none" stroke="#3B6BAE" stroke-width="1.0"/>
<path d="M579.7 66.8L583.5 60.7H576.0Z" fill="none" stroke="#3B6BAE" stroke-width="1.0"/>
<path d="M582.5 68.5L586.2 62.5H578.7Z" fill="none" stroke="#3B6BAE" stroke-width="1.0"/>
<path d="M585.0 68.4L588.7 62.4H581.2Z" fill="none" stroke="#3B6BAE" stroke-width="1.0"/>
<path d="M587.3 72.2L591.0 66.2H583.5Z" fill="none" stroke="#3B6BAE" stroke-width="1.0"/>
<path d="M589.4 71.7L593.2 65.7H585.7Z" fill="none" stroke="#3B6BAE" stroke-width="1.0"/>
<path d="M591.5 71.8L595.2 65.8H587.7Z" fill="none" stroke="#3B6BAE" stroke-width="1.0"/>
<path d="M593.4 71.9L597.1 65.9H589.6Z" fill="none" stroke="#3B6BAE" stroke-width="1.0"/>
<path d="M595.2 70.7L598.9 64.6H591.4Z" fill="none" stroke="#3B6BAE" stroke-width="1.0"/>
<path d="M596.9 67.2L600.6 61.2H593.1Z" fill="none" stroke="#3B6BAE" stroke-width="1.0"/>
<path d="M598.5 74.2L602.2 68.1H594.7Z" fill="none" stroke="#3B6BAE" stroke-width="1.0"/>
<path d="M600.0 76.6L603.7 70.5H596.2Z" fill="none" stroke="#3B6BAE" stroke-width="1.0"/>
<path d="M601.5 72.6L605.2 66.5H597.7Z" fill="none" stroke="#3B6BAE" stroke-width="1.0"/>
<path d="M602.9 71.6L606.6 65.5H599.1Z" fill="none" stroke="#3B6BAE" stroke-width="1.0"/>
<path d="M604.2 72.6L607.9 66.6H600.4Z" fill="none" stroke="#3B6BAE" stroke-width="1.0"/>
<path d="M605.5 76.7L609.2 70.7H601.7Z" fill="none" stroke="#3B6BAE" stroke-width="1.0"/>
<path d="M606.7 74.4L610.4 68.4H602.9Z" fill="none" stroke="#3B6BAE" stroke-width="1.0"/>
<path d="M607.9 71.1L611.6 65.1H604.1Z" fill="none" stroke="#3B6BAE" stroke-width="1.0"/>
<path d="M609.0 73.9L612.8 67.8H605.3Z" fill="none" stroke="#3B6BAE" stroke-width="1.0"/>
<path d="M610.1 72.5L613.9 66.5H606.4Z" fill="none" stroke="#3B6BAE" stroke-width="1.0"/>
<path d="M611.2 74.6L614.9 68.6H607.4Z" fill="none" stroke="#3B6BAE" stroke-width="1.0"/>
<path d="M612.2 73.0L616.0 66.9H608.5Z" fill="none" stroke="#3B6BAE" stroke-width="1.0"/>
<path d="M613.2 73.4L617.0 67.4H609.5Z" fill="none" stroke="#3B6BAE" stroke-width="1.0"/>
<path d="M614.2 80.7L617.9 74.7H610.4Z" fill="none" stroke="#3B6BAE" stroke-width="1.0"/>
<path d="M615.1 79.8L618.9 73.8H611.4Z" fill="none" stroke="#3B6BAE" stroke-width="1.0"/>
<path d="M616.0 72.4L619.8 66.3H612.3Z" fill="none" stroke="#3B6BAE" stroke-width="1.0"/>
<path d="M616.9 74.6L620.6 68.6H613.1Z" fill="none" stroke="#3B6BAE" stroke-width="1.0"/>
<path d="M617.8 76.5L621.5 70.5H614.0Z" fill="none" stroke="#3B6BAE" stroke-width="1.0"/>
<path d="M618.6 77.0L622.3 71.0H614.8Z" fill="none" stroke="#3B6BAE" stroke-width="1.0"/>
<path d="M619.4 74.5L623.2 68.4H615.7Z" fill="none" stroke="#3B6BAE" stroke-width="1.0"/>
<path d="M620.2 81.4L624.0 75.4H616.5Z" fill="none" stroke="#3B6BAE" stroke-width="1.0"/>
<path d="M621.0 74.4L624.7 68.4H617.2Z" fill="none" stroke="#3B6BAE" stroke-width="1.0"/>
<path d="M621.7 81.5L625.5 75.4H618.0Z" fill="none" stroke="#3B6BAE" stroke-width="1.0"/>
<path d="M622.5 81.7L626.2 75.7H618.7Z" fill="none" stroke="#3B6BAE" stroke-width="1.0"/>
<path d="M623.2 78.9L626.9 72.8H619.4Z" fill="none" stroke="#3B6BAE" stroke-width="1.0"/>
<path d="M623.9 78.3L627.6 72.3H620.1Z" fill="none" stroke="#3B6BAE" stroke-width="1.0"/>
<path d="M624.6 80.6L628.3 74.6H620.8Z" fill="none" stroke="#3B6BAE" stroke-width="1.0"/>
<path d="M625.3 81.1L629.0 75.1H621.5Z" fill="none" stroke="#3B6BAE" stroke-width="1.0"/>
<path d="M625.9 74.8L629.7 68.7H622.2Z" fill="none" stroke="#3B6BAE" stroke-width="1.0"/>
<path d="M626.6 77.5L630.3 71.4H622.8Z" fill="none" stroke="#3B6BAE" stroke-width="1.0"/>
<path d="M627.2 82.9L631.0 76.9H623.5Z" fill="none" stroke="#3B6BAE" stroke-width="1.0"/>
<path d="M627.8 81.2L631.6 75.2H624.1Z" fill="none" stroke="#3B6BAE" stroke-width="1.0"/>
<path d="M629.6 80.9L633.4 74.9H625.9Z" fill="none" stroke="#3B6BAE" stroke-width="1.0"/>
<path d="M631.5 79.8L635.2 73.8H627.7Z" fill="none" stroke="#3B6BAE" stroke-width="1.0"/>
<path d="M633.3 81.2L637.1 75.2H629.6Z" fill="none" stroke="#3B6BAE" stroke-width="1.0"/>
<path d="M635.1 81.7L638.9 75.6H631.4Z" fill="none" stroke="#3B6BAE" stroke-width="1.0"/>
<path d="M637.0 92.3L640.7 86.3H633.2Z" fill="none" stroke="#3B6BAE" stroke-width="1.0"/>
<path d="M638.8 81.6L642.5 75.6H635.0Z" fill="none" stroke="#3B6BAE" stroke-width="1.0"/>
<path d="M640.6 90.1L644.4 84.0H636.9Z" fill="none" stroke="#3B6BAE" stroke-width="1.0"/>
<path d="M642.4 88.0L646.2 81.9H638.7Z" fill="none" stroke="#3B6BAE" stroke-width="1.0"/>
<path d="M644.3 88.2L648.0 82.1H640.5Z" fill="none" stroke="#3B6BAE" stroke-width="1.0"/>
<path d="M646.1 89.2L649.8 83.2H642.3Z" fill="none" stroke="#3B6BAE" stroke-width="1.0"/>
<path d="M647.9 89.0L651.7 83.0H644.2Z" fill="none" stroke="#3B6BAE" stroke-width="1.0"/>
<path d="M649.7 95.5L653.5 89.5H646.0Z" fill="none" stroke="#3B6BAE" stroke-width="1.0"/>
<path d="M651.6 94.3L655.3 88.3H647.8Z" fill="none" stroke="#3B6BAE" stroke-width="1.0"/>
<path d="M653.4 94.8L657.2 88.7H649.7Z" fill="none" stroke="#3B6BAE" stroke-width="1.0"/>
<path d="M655.2 96.4L659.0 90.4H651.5Z" fill="none" stroke="#3B6BAE" stroke-width="1.0"/>
<path d="M657.1 99.1L660.8 93.1H653.3Z" fill="none" stroke="#3B6BAE" stroke-width="1.0"/>
<path d="M658.9 97.9L662.6 91.8H655.1Z" fill="none" stroke="#3B6BAE" stroke-width="1.0"/>
<path d="M660.7 102.0L664.5 95.9H657.0Z" fill="none" stroke="#3B6BAE" stroke-width="1.0"/>
<path d="M662.5 103.3L666.3 97.3H658.8Z" fill="none" stroke="#3B6BAE" stroke-width="1.0"/>
<path d="M664.4 108.5L668.1 102.5H660.6Z" fill="none" stroke="#3B6BAE" stroke-width="1.0"/>
<path d="M666.2 110.6L669.9 104.6H662.4Z" fill="none" stroke="#3B6BAE" stroke-width="1.0"/>
<path d="M668.0 106.5L671.8 100.5H664.3Z" fill="none" stroke="#3B6BAE" stroke-width="1.0"/>
<path d="M669.8 112.7L673.6 106.7H666.1Z" fill="none" stroke="#3B6BAE" stroke-width="1.0"/>
<path d="M671.7 117.8L675.4 111.7H667.9Z" fill="none" stroke="#3B6BAE" stroke-width="1.0"/>
<path d="M673.5 113.9L677.2 107.8H669.7Z" fill="none" stroke="#3B6BAE" stroke-width="1.0"/>
<path d="M675.3 115.9L679.1 109.9H671.6Z" fill="none" stroke="#3B6BAE" stroke-width="1.0"/>
<path d="M677.2 123.4L680.9 117.3H673.4Z" fill="none" stroke="#3B6BAE" stroke-width="1.0"/>
<path d="M679.0 122.1L682.7 116.1H675.2Z" fill="none" stroke="#3B6BAE" stroke-width="1.0"/>
<path d="M680.8 122.9L684.6 116.9H677.1Z" fill="none" stroke="#3B6BAE" stroke-width="1.0"/>
<path d="M682.6 122.5L686.4 116.5H678.9Z" fill="none" stroke="#3B6BAE" stroke-width="1.0"/>
<path d="M684.5 128.0L688.2 122.0H680.7Z" fill="none" stroke="#3B6BAE" stroke-width="1.0"/>
<path d="M686.3 127.7L690.0 121.7H682.5Z" fill="none" stroke="#3B6BAE" stroke-width="1.0"/>
<path d="M688.1 131.7L691.9 125.6H684.4Z" fill="none" stroke="#3B6BAE" stroke-width="1.0"/>
<path d="M689.9 134.1L693.7 128.0H686.2Z" fill="none" stroke="#3B6BAE" stroke-width="1.0"/>
<path d="M691.8 136.7L695.5 130.7H688.0Z" fill="none" stroke="#3B6BAE" stroke-width="1.0"/>
<path d="M693.6 135.7L697.3 129.6H689.8Z" fill="none" stroke="#3B6BAE" stroke-width="1.0"/>
<path d="M695.4 137.0L699.2 131.0H691.7Z" fill="none" stroke="#3B6BAE" stroke-width="1.0"/>
<path d="M697.3 140.7L701.0 134.7H693.5Z" fill="none" stroke="#3B6BAE" stroke-width="1.0"/>
<path d="M699.1 142.5L702.8 136.5H695.3Z" fill="none" stroke="#3B6BAE" stroke-width="1.0"/>
<path d="M700.9 145.6L704.7 139.6H697.2Z" fill="none" stroke="#3B6BAE" stroke-width="1.0"/>
<path d="M707.9 152.6L711.7 146.6H704.2Z" fill="none" stroke="#3B6BAE" stroke-width="1.0"/>
<path d="M714.9 162.9L718.6 156.8H711.1Z" fill="none" stroke="#3B6BAE" stroke-width="1.0"/>
<path d="M721.9 171.7L725.6 165.7H718.1Z" fill="none" stroke="#3B6BAE" stroke-width="1.0"/>
<path d="M728.9 181.9L732.6 175.9H725.1Z" fill="none" stroke="#3B6BAE" stroke-width="1.0"/>
<path d="M735.9 193.0L739.6 186.9H732.1Z" fill="none" stroke="#3B6BAE" stroke-width="1.0"/>
<path d="M742.9 203.4L746.6 197.3H739.1Z" fill="none" stroke="#3B6BAE" stroke-width="1.0"/>
<path d="M749.9 203.5L753.6 197.5H746.1Z" fill="none" stroke="#3B6BAE" stroke-width="1.0"/>
<path d="M756.9 212.5L760.6 206.5H753.1Z" fill="none" stroke="#3B6BAE" stroke-width="1.0"/>
<path d="M763.9 215.9L767.6 209.9H760.1Z" fill="none" stroke="#3B6BAE" stroke-width="1.0"/>
<path d="M770.9 218.6L774.6 212.5H767.1Z" fill="none" stroke="#3B6BAE" stroke-width="1.0"/>
<path d="M777.9 223.8L781.6 217.8H774.1Z" fill="none" stroke="#3B6BAE" stroke-width="1.0"/>
<path d="M784.9 222.2L788.6 216.2H781.1Z" fill="none" stroke="#3B6BAE" stroke-width="1.0"/>
<path d="M576.7 52.0L580.4 55.7L576.7 59.4L573.0 55.7Z" fill="none" stroke="#EC5AA8" stroke-width="1.0"/>
<path d="M579.7 51.6L583.4 55.3L579.7 59.0L576.0 55.3Z" fill="none" stroke="#EC5AA8" stroke-width="1.0"/>
<path d="M582.5 42.4L586.2 46.2L582.5 49.9L578.7 46.2Z" fill="none" stroke="#EC5AA8" stroke-width="1.0"/>
<path d="M585.0 52.3L588.7 56.0L585.0 59.7L581.2 56.0Z" fill="none" stroke="#EC5AA8" stroke-width="1.0"/>
<path d="M587.3 53.2L591.0 56.9L587.3 60.6L583.6 56.9Z" fill="none" stroke="#EC5AA8" stroke-width="1.0"/>
<path d="M589.4 56.9L593.2 60.6L589.4 64.3L585.7 60.6Z" fill="none" stroke="#EC5AA8" stroke-width="1.0"/>
<path d="M591.5 49.3L595.2 53.0L591.5 56.8L587.8 53.0Z" fill="none" stroke="#EC5AA8" stroke-width="1.0"/>
<path d="M593.4 52.5L597.1 56.2L593.4 59.9L589.7 56.2Z" fill="none" stroke="#EC5AA8" stroke-width="1.0"/>
<path d="M595.2 53.4L598.9 57.1L595.2 60.8L591.5 57.1Z" fill="none" stroke="#EC5AA8" stroke-width="1.0"/>
<path d="M596.9 50.1L600.6 53.8L596.9 57.5L593.1 53.8Z" fill="none" stroke="#EC5AA8" stroke-width="1.0"/>
<path d="M598.5 56.0L602.2 59.7L598.5 63.4L594.8 59.7Z" fill="none" stroke="#EC5AA8" stroke-width="1.0"/>
<path d="M600.0 54.1L603.7 57.9L600.0 61.6L596.3 57.9Z" fill="none" stroke="#EC5AA8" stroke-width="1.0"/>
<path d="M601.5 51.0L605.2 54.7L601.5 58.4L597.7 54.7Z" fill="none" stroke="#EC5AA8" stroke-width="1.0"/>
<path d="M602.9 50.0L606.6 53.7L602.9 57.4L599.1 53.7Z" fill="none" stroke="#EC5AA8" stroke-width="1.0"/>
<path d="M604.2 52.3L607.9 56.0L604.2 59.7L600.5 56.0Z" fill="none" stroke="#EC5AA8" stroke-width="1.0"/>
<path d="M605.5 60.0L609.2 63.7L605.5 67.4L601.8 63.7Z" fill="none" stroke="#EC5AA8" stroke-width="1.0"/>
<path d="M606.7 59.6L610.4 63.3L606.7 67.0L603.0 63.3Z" fill="none" stroke="#EC5AA8" stroke-width="1.0"/>
<path d="M607.9 47.0L611.6 50.7L607.9 54.4L604.2 50.7Z" fill="none" stroke="#EC5AA8" stroke-width="1.0"/>
<path d="M609.0 48.9L612.7 52.6L609.0 56.3L605.3 52.6Z" fill="none" stroke="#EC5AA8" stroke-width="1.0"/>
<path d="M610.1 55.9L613.8 59.6L610.1 63.3L606.4 59.6Z" fill="none" stroke="#EC5AA8" stroke-width="1.0"/>
<path d="M611.2 53.9L614.9 57.6L611.2 61.3L607.5 57.6Z" fill="none" stroke="#EC5AA8" stroke-width="1.0"/>
<path d="M612.2 52.5L615.9 56.2L612.2 60.0L608.5 56.2Z" fill="none" stroke="#EC5AA8" stroke-width="1.0"/>
<path d="M613.2 56.1L616.9 59.8L613.2 63.6L609.5 59.8Z" fill="none" stroke="#EC5AA8" stroke-width="1.0"/>
<path d="M614.2 54.8L617.9 58.5L614.2 62.2L610.5 58.5Z" fill="none" stroke="#EC5AA8" stroke-width="1.0"/>
<path d="M615.1 55.5L618.8 59.2L615.1 62.9L611.4 59.2Z" fill="none" stroke="#EC5AA8" stroke-width="1.0"/>
<path d="M616.0 55.5L619.7 59.2L616.0 63.0L612.3 59.2Z" fill="none" stroke="#EC5AA8" stroke-width="1.0"/>
<path d="M616.9 51.8L620.6 55.5L616.9 59.2L613.2 55.5Z" fill="none" stroke="#EC5AA8" stroke-width="1.0"/>
<path d="M617.8 58.8L621.5 62.5L617.8 66.2L614.0 62.5Z" fill="none" stroke="#EC5AA8" stroke-width="1.0"/>
<path d="M618.6 53.8L622.3 57.5L618.6 61.2L614.9 57.5Z" fill="none" stroke="#EC5AA8" stroke-width="1.0"/>
<path d="M619.4 58.5L623.1 62.2L619.4 65.9L615.7 62.2Z" fill="none" stroke="#EC5AA8" stroke-width="1.0"/>
<path d="M620.2 57.3L623.9 61.0L620.2 64.7L616.5 61.0Z" fill="none" stroke="#EC5AA8" stroke-width="1.0"/>
<path d="M621.0 55.6L624.7 59.3L621.0 63.0L617.3 59.3Z" fill="none" stroke="#EC5AA8" stroke-width="1.0"/>
<path d="M621.7 55.9L625.4 59.7L621.7 63.4L618.0 59.7Z" fill="none" stroke="#EC5AA8" stroke-width="1.0"/>
<path d="M622.5 55.5L626.2 59.2L622.5 62.9L618.8 59.2Z" fill="none" stroke="#EC5AA8" stroke-width="1.0"/>
<path d="M623.2 50.4L626.9 54.1L623.2 57.9L619.5 54.1Z" fill="none" stroke="#EC5AA8" stroke-width="1.0"/>
<path d="M623.9 54.9L627.6 58.6L623.9 62.3L620.2 58.6Z" fill="none" stroke="#EC5AA8" stroke-width="1.0"/>
<path d="M624.6 57.2L628.3 60.9L624.6 64.6L620.9 60.9Z" fill="none" stroke="#EC5AA8" stroke-width="1.0"/>
<path d="M625.3 51.3L629.0 55.1L625.3 58.8L621.5 55.1Z" fill="none" stroke="#EC5AA8" stroke-width="1.0"/>
<path d="M625.9 51.8L629.6 55.5L625.9 59.2L622.2 55.5Z" fill="none" stroke="#EC5AA8" stroke-width="1.0"/>
<path d="M626.6 59.3L630.3 63.1L626.6 66.8L622.9 63.1Z" fill="none" stroke="#EC5AA8" stroke-width="1.0"/>
<path d="M627.2 58.7L630.9 62.4L627.2 66.1L623.5 62.4Z" fill="none" stroke="#EC5AA8" stroke-width="1.0"/>
<path d="M627.8 51.9L631.5 55.6L627.8 59.3L624.1 55.6Z" fill="none" stroke="#EC5AA8" stroke-width="1.0"/>
<path d="M629.6 58.0L633.4 61.7L629.6 65.4L625.9 61.7Z" fill="none" stroke="#EC5AA8" stroke-width="1.0"/>
<path d="M631.5 56.8L635.2 60.5L631.5 64.2L627.8 60.5Z" fill="none" stroke="#EC5AA8" stroke-width="1.0"/>
<path d="M633.3 60.0L637.0 63.7L633.3 67.5L629.6 63.7Z" fill="none" stroke="#EC5AA8" stroke-width="1.0"/>
<path d="M635.1 56.5L638.8 60.2L635.1 63.9L631.4 60.2Z" fill="none" stroke="#EC5AA8" stroke-width="1.0"/>
<path d="M637.0 57.1L640.7 60.8L637.0 64.5L633.2 60.8Z" fill="none" stroke="#EC5AA8" stroke-width="1.0"/>
<path d="M638.8 55.8L642.5 59.5L638.8 63.2L635.1 59.5Z" fill="none" stroke="#EC5AA8" stroke-width="1.0"/>
<path d="M640.6 58.8L644.3 62.5L640.6 66.3L636.9 62.5Z" fill="none" stroke="#EC5AA8" stroke-width="1.0"/>
<path d="M642.4 58.2L646.2 61.9L642.4 65.7L638.7 61.9Z" fill="none" stroke="#EC5AA8" stroke-width="1.0"/>
<path d="M644.3 57.0L648.0 60.7L644.3 64.4L640.6 60.7Z" fill="none" stroke="#EC5AA8" stroke-width="1.0"/>
<path d="M646.1 58.2L649.8 61.9L646.1 65.7L642.4 61.9Z" fill="none" stroke="#EC5AA8" stroke-width="1.0"/>
<path d="M647.9 57.4L651.6 61.1L647.9 64.8L644.2 61.1Z" fill="none" stroke="#EC5AA8" stroke-width="1.0"/>
<path d="M649.7 61.8L653.5 65.5L649.7 69.2L646.0 65.5Z" fill="none" stroke="#EC5AA8" stroke-width="1.0"/>
<path d="M651.6 57.3L655.3 61.0L651.6 64.7L647.9 61.0Z" fill="none" stroke="#EC5AA8" stroke-width="1.0"/>
<path d="M653.4 56.1L657.1 59.8L653.4 63.6L649.7 59.8Z" fill="none" stroke="#EC5AA8" stroke-width="1.0"/>
<path d="M655.2 58.3L658.9 62.0L655.2 65.7L651.5 62.0Z" fill="none" stroke="#EC5AA8" stroke-width="1.0"/>
<path d="M657.1 64.7L660.8 68.4L657.1 72.1L653.3 68.4Z" fill="none" stroke="#EC5AA8" stroke-width="1.0"/>
<path d="M658.9 60.4L662.6 64.2L658.9 67.9L655.2 64.2Z" fill="none" stroke="#EC5AA8" stroke-width="1.0"/>
<path d="M660.7 64.3L664.4 68.0L660.7 71.7L657.0 68.0Z" fill="none" stroke="#EC5AA8" stroke-width="1.0"/>
<path d="M662.5 65.0L666.2 68.8L662.5 72.5L658.8 68.8Z" fill="none" stroke="#EC5AA8" stroke-width="1.0"/>
<path d="M664.4 61.9L668.1 65.6L664.4 69.4L660.7 65.6Z" fill="none" stroke="#EC5AA8" stroke-width="1.0"/>
<path d="M666.2 66.3L669.9 70.0L666.2 73.7L662.5 70.0Z" fill="none" stroke="#EC5AA8" stroke-width="1.0"/>
<path d="M668.0 66.2L671.7 69.9L668.0 73.6L664.3 69.9Z" fill="none" stroke="#EC5AA8" stroke-width="1.0"/>
<path d="M669.8 65.3L673.6 69.0L669.8 72.7L666.1 69.0Z" fill="none" stroke="#EC5AA8" stroke-width="1.0"/>
<path d="M671.7 64.1L675.4 67.8L671.7 71.5L668.0 67.8Z" fill="none" stroke="#EC5AA8" stroke-width="1.0"/>
<path d="M673.5 66.8L677.2 70.5L673.5 74.3L669.8 70.5Z" fill="none" stroke="#EC5AA8" stroke-width="1.0"/>
<path d="M675.3 64.1L679.0 67.8L675.3 71.5L671.6 67.8Z" fill="none" stroke="#EC5AA8" stroke-width="1.0"/>
<path d="M677.2 68.0L680.9 71.7L677.2 75.4L673.4 71.7Z" fill="none" stroke="#EC5AA8" stroke-width="1.0"/>
<path d="M679.0 68.1L682.7 71.8L679.0 75.5L675.3 71.8Z" fill="none" stroke="#EC5AA8" stroke-width="1.0"/>
<path d="M680.8 72.2L684.5 75.9L680.8 79.6L677.1 75.9Z" fill="none" stroke="#EC5AA8" stroke-width="1.0"/>
<path d="M682.6 73.1L686.3 76.9L682.6 80.6L678.9 76.9Z" fill="none" stroke="#EC5AA8" stroke-width="1.0"/>
<path d="M684.5 71.5L688.2 75.2L684.5 79.0L680.7 75.2Z" fill="none" stroke="#EC5AA8" stroke-width="1.0"/>
<path d="M686.3 77.4L690.0 81.1L686.3 84.8L682.6 81.1Z" fill="none" stroke="#EC5AA8" stroke-width="1.0"/>
<path d="M688.1 79.8L691.8 83.5L688.1 87.2L684.4 83.5Z" fill="none" stroke="#EC5AA8" stroke-width="1.0"/>
<path d="M689.9 78.0L693.7 81.7L689.9 85.4L686.2 81.7Z" fill="none" stroke="#EC5AA8" stroke-width="1.0"/>
<path d="M691.8 77.2L695.5 80.9L691.8 84.6L688.1 80.9Z" fill="none" stroke="#EC5AA8" stroke-width="1.0"/>
<path d="M693.6 82.6L697.3 86.3L693.6 90.0L689.9 86.3Z" fill="none" stroke="#EC5AA8" stroke-width="1.0"/>
<path d="M695.4 75.8L699.1 79.5L695.4 83.2L691.7 79.5Z" fill="none" stroke="#EC5AA8" stroke-width="1.0"/>
<path d="M697.3 83.3L701.0 87.0L697.3 90.7L693.5 87.0Z" fill="none" stroke="#EC5AA8" stroke-width="1.0"/>
<path d="M699.1 88.9L702.8 92.6L699.1 96.3L695.4 92.6Z" fill="none" stroke="#EC5AA8" stroke-width="1.0"/>
<path d="M700.9 95.5L704.6 99.2L700.9 102.9L697.2 99.2Z" fill="none" stroke="#EC5AA8" stroke-width="1.0"/>
<path d="M704.7 93.0L708.4 96.7L704.7 100.4L701.0 96.7Z" fill="none" stroke="#EC5AA8" stroke-width="1.0"/>
<path d="M708.6 107.3L712.3 111.0L708.6 114.7L704.9 111.0Z" fill="none" stroke="#EC5AA8" stroke-width="1.0"/>
<path d="M712.4 119.0L716.1 122.7L712.4 126.4L708.7 122.7Z" fill="none" stroke="#EC5AA8" stroke-width="1.0"/>
<path d="M716.2 126.7L719.9 130.4L716.2 134.1L712.5 130.4Z" fill="none" stroke="#EC5AA8" stroke-width="1.0"/>
<path d="M720.1 123.0L723.8 126.7L720.1 130.5L716.4 126.7Z" fill="none" stroke="#EC5AA8" stroke-width="1.0"/>
<path d="M723.9 142.2L727.6 145.9L723.9 149.6L720.2 145.9Z" fill="none" stroke="#EC5AA8" stroke-width="1.0"/>
<path d="M727.7 147.4L731.4 151.2L727.7 154.9L724.0 151.2Z" fill="none" stroke="#EC5AA8" stroke-width="1.0"/>
<path d="M731.6 157.4L735.3 161.1L731.6 164.8L727.8 161.1Z" fill="none" stroke="#EC5AA8" stroke-width="1.0"/>
<path d="M735.4 160.3L739.1 164.0L735.4 167.8L731.7 164.0Z" fill="none" stroke="#EC5AA8" stroke-width="1.0"/>
<path d="M739.2 166.3L742.9 170.0L739.2 173.7L735.5 170.0Z" fill="none" stroke="#EC5AA8" stroke-width="1.0"/>
<path d="M743.1 176.8L746.8 180.6L743.1 184.3L739.3 180.6Z" fill="none" stroke="#EC5AA8" stroke-width="1.0"/>
<path d="M746.9 192.1L750.6 195.8L746.9 199.5L743.2 195.8Z" fill="none" stroke="#EC5AA8" stroke-width="1.0"/>
<path d="M750.7 197.3L754.4 201.0L750.7 204.7L747.0 201.0Z" fill="none" stroke="#EC5AA8" stroke-width="1.0"/>
<path d="M754.6 198.7L758.3 202.5L754.6 206.2L750.8 202.5Z" fill="none" stroke="#EC5AA8" stroke-width="1.0"/>
<path d="M758.4 205.3L762.1 209.0L758.4 212.7L754.7 209.0Z" fill="none" stroke="#EC5AA8" stroke-width="1.0"/>
<path d="M762.2 210.6L765.9 214.3L762.2 218.0L758.5 214.3Z" fill="none" stroke="#EC5AA8" stroke-width="1.0"/>
<path d="M766.1 212.8L769.8 216.5L766.1 220.2L762.3 216.5Z" fill="none" stroke="#EC5AA8" stroke-width="1.0"/>
<path d="M769.9 213.4L773.6 217.1L769.9 220.8L766.2 217.1Z" fill="none" stroke="#EC5AA8" stroke-width="1.0"/>
<path d="M773.7 213.3L777.4 217.0L773.7 220.8L770.0 217.0Z" fill="none" stroke="#EC5AA8" stroke-width="1.0"/>
<path d="M777.5 214.6L781.3 218.4L777.5 222.1L773.8 218.4Z" fill="none" stroke="#EC5AA8" stroke-width="1.0"/>
<path d="M781.4 217.1L785.1 220.8L781.4 224.5L777.7 220.8Z" fill="none" stroke="#EC5AA8" stroke-width="1.0"/>
<path d="M785.2 217.8L788.9 221.5L785.2 225.2L781.5 221.5Z" fill="none" stroke="#EC5AA8" stroke-width="1.0"/>
<path d="M789.0 214.9L792.8 218.6L789.0 222.3L785.3 218.6Z" fill="none" stroke="#EC5AA8" stroke-width="1.0"/>
<path d="M573.3 49.7L579.3 46.0V53.5Z" fill="none" stroke="#F6B530" stroke-width="1.0"/>
<path d="M576.3 59.1L582.3 55.3V62.8Z" fill="none" stroke="#F6B530" stroke-width="1.0"/>
<path d="M579.0 51.4L585.0 47.7V55.2Z" fill="none" stroke="#F6B530" stroke-width="1.0"/>
<path d="M581.5 51.0L587.5 47.2V54.7Z" fill="none" stroke="#F6B530" stroke-width="1.0"/>
<path d="M583.8 56.3L589.9 52.6V60.1Z" fill="none" stroke="#F6B530" stroke-width="1.0"/>
<path d="M586.0 62.6L592.0 58.9V66.4Z" fill="none" stroke="#F6B530" stroke-width="1.0"/>
<path d="M588.0 62.2L594.1 58.4V65.9Z" fill="none" stroke="#F6B530" stroke-width="1.0"/>
<path d="M589.9 55.6L596.0 51.8V59.3Z" fill="none" stroke="#F6B530" stroke-width="1.0"/>
<path d="M591.7 53.3L597.8 49.5V57.0Z" fill="none" stroke="#F6B530" stroke-width="1.0"/>
<path d="M593.4 55.5L599.4 51.8V59.3Z" fill="none" stroke="#F6B530" stroke-width="1.0"/>
<path d="M595.0 54.2L601.1 50.4V57.9Z" fill="none" stroke="#F6B530" stroke-width="1.0"/>
<path d="M596.5 55.8L602.6 52.1V59.6Z" fill="none" stroke="#F6B530" stroke-width="1.0"/>
<path d="M598.0 60.3L604.0 56.5V64.0Z" fill="none" stroke="#F6B530" stroke-width="1.0"/>
<path d="M599.4 54.1L605.4 50.3V57.8Z" fill="none" stroke="#F6B530" stroke-width="1.0"/>
<path d="M600.7 55.4L606.8 51.7V59.2Z" fill="none" stroke="#F6B530" stroke-width="1.0"/>
<path d="M602.0 57.7L608.1 54.0V61.5Z" fill="none" stroke="#F6B530" stroke-width="1.0"/>
<path d="M603.2 58.9L609.3 55.1V62.6Z" fill="none" stroke="#F6B530" stroke-width="1.0"/>
<path d="M604.4 55.9L610.5 52.2V59.7Z" fill="none" stroke="#F6B530" stroke-width="1.0"/>
<path d="M605.6 56.0L611.6 52.2V59.7Z" fill="none" stroke="#F6B530" stroke-width="1.0"/>
<path d="M606.7 54.7L612.7 50.9V58.4Z" fill="none" stroke="#F6B530" stroke-width="1.0"/>
<path d="M607.7 56.4L613.8 52.7V60.2Z" fill="none" stroke="#F6B530" stroke-width="1.0"/>
<path d="M608.8 61.9L614.8 58.2V65.7Z" fill="none" stroke="#F6B530" stroke-width="1.0"/>
<path d="M609.8 58.8L615.8 55.1V62.6Z" fill="none" stroke="#F6B530" stroke-width="1.0"/>
<path d="M610.7 46.8L616.8 43.1V50.6Z" fill="none" stroke="#F6B530" stroke-width="1.0"/>
<path d="M611.7 62.8L617.7 59.0V66.5Z" fill="none" stroke="#F6B530" stroke-width="1.0"/>
<path d="M612.6 60.0L618.6 56.2V63.7Z" fill="none" stroke="#F6B530" stroke-width="1.0"/>
<path d="M613.4 56.7L619.5 52.9V60.4Z" fill="none" stroke="#F6B530" stroke-width="1.0"/>
<path d="M614.3 59.4L620.3 55.7V63.2Z" fill="none" stroke="#F6B530" stroke-width="1.0"/>
<path d="M615.1 47.7L621.2 44.0V51.5Z" fill="none" stroke="#F6B530" stroke-width="1.0"/>
<path d="M616.0 53.7L622.0 49.9V57.4Z" fill="none" stroke="#F6B530" stroke-width="1.0"/>
<path d="M616.8 65.9L622.8 62.1V69.6Z" fill="none" stroke="#F6B530" stroke-width="1.0"/>
<path d="M617.5 70.2L623.6 66.4V73.9Z" fill="none" stroke="#F6B530" stroke-width="1.0"/>
<path d="M618.3 70.5L624.3 66.8V74.3Z" fill="none" stroke="#F6B530" stroke-width="1.0"/>
<path d="M619.0 58.1L625.1 54.3V61.8Z" fill="none" stroke="#F6B530" stroke-width="1.0"/>
<path d="M619.7 61.5L625.8 57.8V65.3Z" fill="none" stroke="#F6B530" stroke-width="1.0"/>
<path d="M620.4 64.8L626.5 61.1V68.6Z" fill="none" stroke="#F6B530" stroke-width="1.0"/>
<path d="M621.1 56.2L627.2 52.5V60.0Z" fill="none" stroke="#F6B530" stroke-width="1.0"/>
<path d="M621.8 69.2L627.8 65.5V73.0Z" fill="none" stroke="#F6B530" stroke-width="1.0"/>
<path d="M622.5 58.6L628.5 54.9V62.4Z" fill="none" stroke="#F6B530" stroke-width="1.0"/>
<path d="M623.1 63.4L629.2 59.6V67.1Z" fill="none" stroke="#F6B530" stroke-width="1.0"/>
<path d="M623.8 56.9L629.8 53.2V60.7Z" fill="none" stroke="#F6B530" stroke-width="1.0"/>
<path d="M624.4 63.6L630.4 59.9V67.4Z" fill="none" stroke="#F6B530" stroke-width="1.0"/>
<path d="M626.2 62.2L632.2 58.5V66.0Z" fill="none" stroke="#F6B530" stroke-width="1.0"/>
<path d="M628.0 67.3L634.1 63.6V71.1Z" fill="none" stroke="#F6B530" stroke-width="1.0"/>
<path d="M629.9 57.7L635.9 54.0V61.5Z" fill="none" stroke="#F6B530" stroke-width="1.0"/>
<path d="M631.7 63.1L637.7 59.3V66.8Z" fill="none" stroke="#F6B530" stroke-width="1.0"/>
<path d="M633.5 71.5L639.5 67.8V75.3Z" fill="none" stroke="#F6B530" stroke-width="1.0"/>
<path d="M635.3 58.3L641.4 54.6V62.1Z" fill="none" stroke="#F6B530" stroke-width="1.0"/>
<path d="M637.2 65.6L643.2 61.8V69.3Z" fill="none" stroke="#F6B530" stroke-width="1.0"/>
<path d="M639.0 66.3L645.0 62.5V70.0Z" fill="none" stroke="#F6B530" stroke-width="1.0"/>
<path d="M640.8 62.3L646.9 58.5V66.0Z" fill="none" stroke="#F6B530" stroke-width="1.0"/>
<path d="M642.6 63.6L648.7 59.9V67.4Z" fill="none" stroke="#F6B530" stroke-width="1.0"/>
<path d="M644.5 71.8L650.5 68.1V75.6Z" fill="none" stroke="#F6B530" stroke-width="1.0"/>
<path d="M646.3 70.9L652.3 67.2V74.7Z" fill="none" stroke="#F6B530" stroke-width="1.0"/>
<path d="M648.1 68.6L654.2 64.8V72.3Z" fill="none" stroke="#F6B530" stroke-width="1.0"/>
<path d="M650.0 67.5L656.0 63.8V71.3Z" fill="none" stroke="#F6B530" stroke-width="1.0"/>
<path d="M651.8 61.0L657.8 57.3V64.8Z" fill="none" stroke="#F6B530" stroke-width="1.0"/>
<path d="M653.6 67.4L659.6 63.7V71.2Z" fill="none" stroke="#F6B530" stroke-width="1.0"/>
<path d="M655.4 76.4L661.5 72.6V80.1Z" fill="none" stroke="#F6B530" stroke-width="1.0"/>
<path d="M657.3 73.1L663.3 69.4V76.9Z" fill="none" stroke="#F6B530" stroke-width="1.0"/>
<path d="M659.1 61.2L665.1 57.4V64.9Z" fill="none" stroke="#F6B530" stroke-width="1.0"/>
<path d="M660.9 57.9L667.0 54.2V61.7Z" fill="none" stroke="#F6B530" stroke-width="1.0"/>
<path d="M662.7 65.8L668.8 62.1V69.6Z" fill="none" stroke="#F6B530" stroke-width="1.0"/>
<path d="M664.6 70.8L670.6 67.1V74.6Z" fill="none" stroke="#F6B530" stroke-width="1.0"/>
<path d="M666.4 67.7L672.4 63.9V71.4Z" fill="none" stroke="#F6B530" stroke-width="1.0"/>
<path d="M668.2 69.7L674.3 66.0V73.5Z" fill="none" stroke="#F6B530" stroke-width="1.0"/>
<path d="M670.0 74.1L676.1 70.3V77.8Z" fill="none" stroke="#F6B530" stroke-width="1.0"/>
<path d="M671.9 78.0L677.9 74.3V81.8Z" fill="none" stroke="#F6B530" stroke-width="1.0"/>
<path d="M673.7 75.1L679.7 71.4V78.9Z" fill="none" stroke="#F6B530" stroke-width="1.0"/>
<path d="M675.5 82.1L681.6 78.3V85.8Z" fill="none" stroke="#F6B530" stroke-width="1.0"/>
<path d="M677.4 67.8L683.4 64.1V71.6Z" fill="none" stroke="#F6B530" stroke-width="1.0"/>
<path d="M679.2 79.9L685.2 76.2V83.7Z" fill="none" stroke="#F6B530" stroke-width="1.0"/>
<path d="M681.0 81.0L687.0 77.2V84.7Z" fill="none" stroke="#F6B530" stroke-width="1.0"/>
<path d="M682.8 71.1L688.9 67.3V74.8Z" fill="none" stroke="#F6B530" stroke-width="1.0"/>
<path d="M684.7 88.7L690.7 84.9V92.4Z" fill="none" stroke="#F6B530" stroke-width="1.0"/>
<path d="M686.5 73.1L692.5 69.4V76.9Z" fill="none" stroke="#F6B530" stroke-width="1.0"/>
<path d="M688.3 75.3L694.4 71.6V79.1Z" fill="none" stroke="#F6B530" stroke-width="1.0"/>
<path d="M690.1 101.2L696.2 97.5V105.0Z" fill="none" stroke="#F6B530" stroke-width="1.0"/>
<path d="M692.0 94.3L698.0 90.6V98.1Z" fill="none" stroke="#F6B530" stroke-width="1.0"/>
<path d="M693.8 90.1L699.8 86.4V93.9Z" fill="none" stroke="#F6B530" stroke-width="1.0"/>
<path d="M695.6 97.4L701.7 93.7V101.2Z" fill="none" stroke="#F6B530" stroke-width="1.0"/>
<path d="M697.5 97.7L703.5 94.0V101.5Z" fill="none" stroke="#F6B530" stroke-width="1.0"/>
<path d="M701.3 87.7L707.3 84.0V91.5Z" fill="none" stroke="#F6B530" stroke-width="1.0"/>
<path d="M705.1 103.0L711.2 99.3V106.8Z" fill="none" stroke="#F6B530" stroke-width="1.0"/>
<path d="M709.0 116.1L715.0 112.4V119.9Z" fill="none" stroke="#F6B530" stroke-width="1.0"/>
<path d="M712.8 114.8L718.8 111.1V118.6Z" fill="none" stroke="#F6B530" stroke-width="1.0"/>
<path d="M716.6 125.0L722.7 121.3V128.8Z" fill="none" stroke="#F6B530" stroke-width="1.0"/>
<path d="M720.4 130.7L726.5 127.0V134.5Z" fill="none" stroke="#F6B530" stroke-width="1.0"/>
<path d="M724.3 146.8L730.3 143.1V150.6Z" fill="none" stroke="#F6B530" stroke-width="1.0"/>
<path d="M728.1 148.6L734.1 144.9V152.4Z" fill="none" stroke="#F6B530" stroke-width="1.0"/>
<path d="M731.9 157.5L738.0 153.8V161.3Z" fill="none" stroke="#F6B530" stroke-width="1.0"/>
<path d="M735.8 162.8L741.8 159.1V166.6Z" fill="none" stroke="#F6B530" stroke-width="1.0"/>
<path d="M739.6 174.0L745.6 170.2V177.7Z" fill="none" stroke="#F6B530" stroke-width="1.0"/>
<path d="M743.4 189.5L749.5 185.8V193.3Z" fill="none" stroke="#F6B530" stroke-width="1.0"/>
<path d="M747.3 197.8L753.3 194.0V201.5Z" fill="none" stroke="#F6B530" stroke-width="1.0"/>
<path d="M751.1 198.1L757.1 194.3V201.8Z" fill="none" stroke="#F6B530" stroke-width="1.0"/>
<path d="M754.9 198.7L761.0 195.0V202.5Z" fill="none" stroke="#F6B530" stroke-width="1.0"/>
<path d="M758.8 210.1L764.8 206.3V213.8Z" fill="none" stroke="#F6B530" stroke-width="1.0"/>
<path d="M762.6 213.6L768.6 209.8V217.3Z" fill="none" stroke="#F6B530" stroke-width="1.0"/>
<path d="M766.4 221.3L772.5 217.6V225.1Z" fill="none" stroke="#F6B530" stroke-width="1.0"/>
<path d="M770.3 214.4L776.3 210.6V218.1Z" fill="none" stroke="#F6B530" stroke-width="1.0"/>
<path d="M774.1 216.6L780.1 212.9V220.4Z" fill="none" stroke="#F6B530" stroke-width="1.0"/>
<path d="M777.9 222.8L784.0 219.1V226.6Z" fill="none" stroke="#F6B530" stroke-width="1.0"/>
<path d="M781.8 229.2L787.8 225.5V233.0Z" fill="none" stroke="#F6B530" stroke-width="1.0"/>
<path d="M785.6 222.5L791.6 218.7V226.2Z" fill="none" stroke="#F6B530" stroke-width="1.0"/>
<path d="M577.7 67.0 L580.1 69.7 L582.4 72.4 L584.8 75.1 L587.2 77.7 L589.6 80.4 L591.9 83.2 L594.3 86.0 L596.7 88.9 L599.1 91.9 L601.4 95.0 L603.8 98.2 L606.2 101.4 L608.6 104.7 L610.9 108.0 L613.3 111.2 L615.7 114.4 L618.1 117.5 L620.4 120.5 L622.8 123.4 L625.2 126.1 L627.6 128.7 L629.9 131.3 L632.3 134.0 L634.7 136.8 L637.1 139.8 L639.4 143.0 L641.8 146.5 L644.2 150.3 L646.6 154.3 L648.9 158.3 L651.3 162.4 L653.7 166.4 L656.0 170.2 L658.4 173.8 L660.8 177.1 L663.2 180.2 L665.5 183.2 L667.9 186.1 L670.3 188.8 L672.7 191.5 L675.0 194.0 L677.4 196.5 L679.8 199.0 L682.2 201.3 L684.5 203.6 L686.9 205.7 L689.3 207.5 L691.7 209.1 L694.0 210.7 L696.4 212.2 L698.8 213.6 L701.2 215.0 L703.5 216.2 L705.9 217.4 L708.3 218.4 L710.7 219.3 L713.0 220.1 L715.4 220.9 L717.8 221.6 L720.1 222.3 L722.5 222.9 L724.9 223.6 L727.3 224.1 L729.6 224.7 L732.0 225.2 L734.4 225.7 L736.8 226.2 L739.1 226.6 L741.5 227.0 L743.9 227.3 L746.3 227.6 L748.6 227.9 L751.0 228.1 L753.4 228.3 L755.8 228.4 L758.1 228.6 L760.5 228.7 L762.9 228.8 L765.3 229.0 L767.6 229.1 L770.0 229.2 L772.4 229.3 L774.8 229.4 L777.1 229.5 L779.5 229.6 L781.9 229.7 L784.3 229.8 L786.6 229.9 L789.0 230.0" fill="none" stroke="#F0842C" stroke-width="1.3"/>
<path d="M577.7 61.0 L580.1 62.2 L582.4 63.4 L584.8 64.6 L587.2 65.8 L589.6 66.9 L591.9 68.2 L594.3 69.5 L596.7 70.9 L599.1 72.4 L601.4 74.0 L603.8 75.9 L606.2 78.0 L608.6 80.2 L610.9 82.5 L613.3 84.9 L615.7 87.4 L618.1 89.9 L620.4 92.5 L622.8 95.0 L625.2 97.7 L627.6 100.4 L629.9 103.2 L632.3 106.0 L634.7 109.0 L637.1 112.1 L639.4 115.2 L641.8 118.5 L644.2 122.1 L646.6 125.9 L648.9 129.8 L651.3 133.6 L653.7 137.4 L656.0 141.1 L658.4 144.6 L660.8 148.2 L663.2 151.7 L665.5 155.1 L667.9 158.5 L670.3 161.8 L672.7 165.0 L675.0 168.1 L677.4 171.0 L679.8 174.1 L682.2 177.1 L684.5 180.1 L686.9 183.1 L689.3 186.1 L691.7 189.0 L694.0 191.8 L696.4 194.5 L698.8 197.1 L701.2 199.5 L703.5 201.9 L705.9 204.0 L708.3 206.0 L710.7 207.7 L713.0 209.3 L715.4 210.7 L717.8 212.1 L720.1 213.4 L722.5 214.7 L724.9 215.9 L727.3 217.1 L729.6 218.2 L732.0 219.3 L734.4 220.2 L736.8 221.2 L739.1 222.0 L741.5 222.8 L743.9 223.5 L746.3 224.2 L748.6 224.7 L751.0 225.2 L753.4 225.6 L755.8 226.0 L758.1 226.4 L760.5 226.7 L762.9 227.1 L765.3 227.4 L767.6 227.6 L770.0 227.9 L772.4 228.2 L774.8 228.4 L777.1 228.7 L779.5 228.9 L781.9 229.2 L784.3 229.4 L786.6 229.7 L789.0 230.0" fill="none" stroke="#7B5CB8" stroke-width="1.3"/>
<path d="M577.7 54.8 L580.1 55.5 L582.4 56.2 L584.8 56.9 L587.2 57.6 L589.6 58.3 L591.9 59.0 L594.3 59.8 L596.7 60.6 L599.1 61.6 L601.4 62.7 L603.8 64.0 L606.2 65.4 L608.6 67.0 L610.9 68.7 L613.3 70.6 L615.7 72.5 L618.1 74.5 L620.4 76.6 L622.8 78.7 L625.2 80.8 L627.6 82.9 L629.9 84.9 L632.3 87.0 L634.7 89.1 L637.1 91.2 L639.4 93.4 L641.8 95.7 L644.2 98.0 L646.6 100.4 L648.9 102.9 L651.3 105.4 L653.7 108.0 L656.0 110.8 L658.4 113.6 L660.8 116.5 L663.2 119.5 L665.5 122.5 L667.9 125.4 L670.3 128.4 L672.7 131.3 L675.0 134.3 L677.4 137.4 L679.8 140.4 L682.2 143.5 L684.5 146.4 L686.9 149.4 L689.3 152.3 L691.7 155.2 L694.0 158.1 L696.4 160.9 L698.8 163.8 L701.2 166.6 L703.5 169.3 L705.9 172.0 L708.3 174.8 L710.7 177.5 L713.0 180.2 L715.4 182.9 L717.8 185.6 L720.1 188.3 L722.5 190.8 L724.9 193.3 L727.3 195.7 L729.6 197.9 L732.0 200.0 L734.4 202.1 L736.8 204.1 L739.1 206.1 L741.5 208.0 L743.9 209.9 L746.3 211.7 L748.6 213.4 L751.0 215.0 L753.4 216.5 L755.8 217.9 L758.1 219.1 L760.5 220.2 L762.9 221.2 L765.3 222.1 L767.6 222.9 L770.0 223.6 L772.4 224.3 L774.8 225.0 L777.1 225.7 L779.5 226.3 L781.9 227.0 L784.3 227.6 L786.6 228.3 L789.0 229.0" fill="none" stroke="#4DBE74" stroke-width="1.3"/>
<path d="M577.7 51.0 L580.1 51.5 L582.4 52.0 L584.8 52.5 L587.2 53.0 L589.6 53.5 L591.9 54.0 L594.3 54.5 L596.7 55.1 L599.1 55.7 L601.4 56.4 L603.8 57.1 L606.2 57.9 L608.6 58.8 L610.9 59.6 L613.3 60.5 L615.7 61.5 L618.1 62.5 L620.4 63.5 L622.8 64.6 L625.2 65.7 L627.6 66.8 L629.9 68.0 L632.3 69.1 L634.7 70.4 L637.1 71.7 L639.4 73.1 L641.8 74.7 L644.2 76.4 L646.6 78.3 L648.9 80.5 L651.3 83.1 L653.7 85.9 L656.0 88.9 L658.4 92.1 L660.8 95.4 L663.2 98.8 L665.5 102.1 L667.9 105.5 L670.3 108.8 L672.7 112.0 L675.0 115.1 L677.4 118.0 L679.8 120.8 L682.2 123.6 L684.5 126.4 L686.9 129.2 L689.3 132.1 L691.7 135.1 L694.0 138.2 L696.4 141.6 L698.8 145.0 L701.2 148.7 L703.5 152.4 L705.9 156.1 L708.3 159.9 L710.7 163.5 L713.0 167.1 L715.4 170.6 L717.8 174.0 L720.1 177.5 L722.5 181.0 L724.9 184.5 L727.3 187.8 L729.6 190.9 L732.0 193.8 L734.4 196.4 L736.8 198.7 L739.1 200.9 L741.5 203.0 L743.9 205.0 L746.3 206.9 L748.6 208.7 L751.0 210.4 L753.4 212.0 L755.8 213.6 L758.1 215.0 L760.5 216.3 L762.9 217.5 L765.3 218.6 L767.6 219.7 L770.0 220.7 L772.4 221.6 L774.8 222.6 L777.1 223.4 L779.5 224.3 L781.9 225.2 L784.3 226.1 L786.6 227.0 L789.0 228.0" fill="none" stroke="#3B6BAE" stroke-width="1.3"/>
<path d="M577.7 47.3 L580.1 47.6 L582.4 47.8 L584.8 48.1 L587.2 48.3 L589.6 48.6 L591.9 48.8 L594.3 49.0 L596.7 49.3 L599.1 49.5 L601.4 49.8 L603.8 50.0 L606.2 50.3 L608.6 50.6 L610.9 50.9 L613.3 51.1 L615.7 51.4 L618.1 51.7 L620.4 52.1 L622.8 52.4 L625.2 52.7 L627.6 53.0 L629.9 53.4 L632.3 53.7 L634.7 54.1 L637.1 54.4 L639.4 54.8 L641.8 55.2 L644.2 55.6 L646.6 56.0 L648.9 56.5 L651.3 57.0 L653.7 57.5 L656.0 58.0 L658.4 58.6 L660.8 59.2 L663.2 59.9 L665.5 60.8 L667.9 61.7 L670.3 62.7 L672.7 63.8 L675.0 65.0 L677.4 66.3 L679.8 67.8 L682.2 69.5 L684.5 71.3 L686.9 73.2 L689.3 75.3 L691.7 77.6 L694.0 80.0 L696.4 82.7 L698.8 85.7 L701.2 89.0 L703.5 92.6 L705.9 96.6 L708.3 101.8 L710.7 107.8 L713.0 114.2 L715.4 120.3 L717.8 126.8 L720.1 133.3 L722.5 139.5 L724.9 145.5 L727.3 151.4 L729.6 157.2 L732.0 162.9 L734.4 168.5 L736.8 174.1 L739.1 179.6 L741.5 185.4 L743.9 191.3 L746.3 196.9 L748.6 201.8 L751.0 205.4 L753.4 208.5 L755.8 211.1 L758.1 213.4 L760.5 215.4 L762.9 217.4 L765.3 219.2 L767.6 220.9 L770.0 222.5 L772.4 223.8 L774.8 224.9 L777.1 225.8 L779.5 226.5 L781.9 227.2 L784.3 227.8 L786.6 228.4 L789.0 229.0" fill="none" stroke="#EC5AA8" stroke-width="1.3"/>
</g>
</svg>
</body></html>
